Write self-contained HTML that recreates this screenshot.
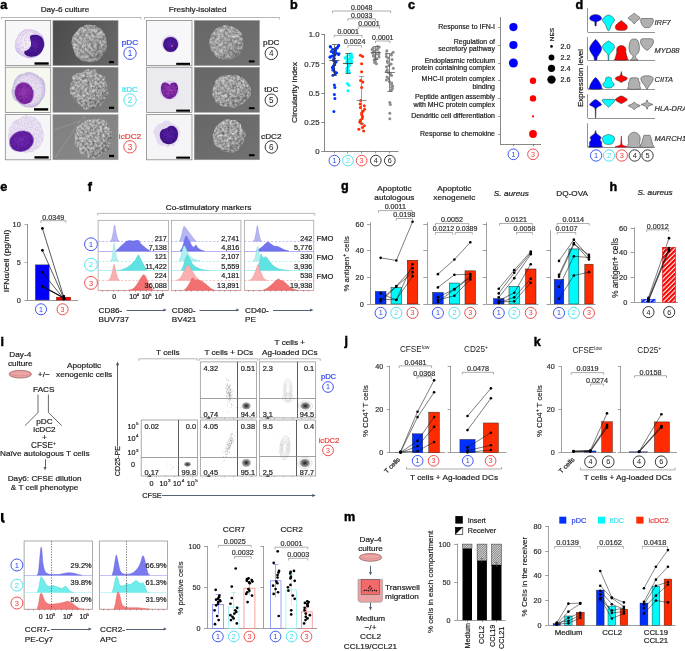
<!DOCTYPE html>
<html><head><meta charset="utf-8"><style>html,body{margin:0;padding:0;background:#fff;}svg{display:block;will-change:transform;}</style></head>
<body><svg width="685" height="651" viewBox="0 0 685 651" font-family="'Liberation Sans', sans-serif">
<rect width="685" height="651" fill="#fff"/>
<defs>
<filter id="semtex" x="0" y="0" width="100%" height="100%" color-interpolation-filters="sRGB">
<feTurbulence type="fractalNoise" baseFrequency="0.34" numOctaves="3" seed="3" result="n"/>
<feColorMatrix in="n" type="matrix" values="0.62 0 0 0 0.33  0.62 0 0 0 0.33  0.62 0 0 0 0.33  0 0 0 0 1" result="g"/>
<feComposite in="g" in2="SourceAlpha" operator="in"/>
</filter>
<filter id="semtex2" x="0" y="0" width="100%" height="100%" color-interpolation-filters="sRGB">
<feTurbulence type="fractalNoise" baseFrequency="0.4" numOctaves="3" seed="8" result="n"/>
<feColorMatrix in="n" type="matrix" values="0.66 0 0 0 0.31  0.66 0 0 0 0.31  0.66 0 0 0 0.31  0 0 0 0 1" result="g"/>
<feComposite in="g" in2="SourceAlpha" operator="in"/>
</filter>
<filter id="bgn" x="0" y="0" width="100%" height="100%" color-interpolation-filters="sRGB">
<feTurbulence type="fractalNoise" baseFrequency="0.8" numOctaves="1" seed="5" result="n"/>
<feColorMatrix in="n" type="matrix" values="0.3 0 0 0 0.3  0.3 0 0 0 0.3  0.3 0 0 0 0.3  0 0 0 0 1" result="g"/>
<feComposite in="g" in2="SourceAlpha" operator="in"/>
</filter>
<filter id="nuctex" x="0" y="0" width="100%" height="100%" color-interpolation-filters="sRGB">
<feTurbulence type="fractalNoise" baseFrequency="0.6" numOctaves="2" seed="4" result="n"/>
<feColorMatrix in="n" type="matrix" values="0 0 0 0 0.22  0 0 0 0 0.03  0 0 0 0 0.42  1.6 0 0 0 -0.7" result="g"/>
<feComposite in="g" in2="SourceAlpha" operator="in" result="t"/>
<feMerge><feMergeNode in="SourceGraphic"/><feMergeNode in="t"/></feMerge>
</filter>
<filter id="cytex" x="0" y="0" width="100%" height="100%" color-interpolation-filters="sRGB">
<feTurbulence type="fractalNoise" baseFrequency="0.7" numOctaves="2" seed="9" result="n"/>
<feColorMatrix in="n" type="matrix" values="0 0 0 0 0.72  0 0 0 0 0.62  0 0 0 0 0.88  1.3 0 0 0 -0.52" result="g"/>
<feComposite in="g" in2="SourceAlpha" operator="in" result="t"/>
<feMerge><feMergeNode in="SourceGraphic"/><feMergeNode in="t"/></feMerge>
</filter>
<linearGradient id="semshade" x1="0.15" y1="0.1" x2="0.85" y2="0.95"><stop offset="0" stop-color="#fff" stop-opacity="0.12"/><stop offset="0.5" stop-color="#000" stop-opacity="0.0"/><stop offset="1" stop-color="#000" stop-opacity="0.22"/></linearGradient>
<linearGradient id="sembg" x1="0" y1="0" x2="1" y2="0.3"><stop offset="0" stop-color="#4a4a4a"/><stop offset="1" stop-color="#646464"/></linearGradient>
<linearGradient id="sembg2" x1="0" y1="0" x2="1" y2="1"><stop offset="0" stop-color="#727272"/><stop offset="1" stop-color="#7c7c7c"/></linearGradient><linearGradient id="sembg4" x1="0" y1="0" x2="1" y2="1"><stop offset="0" stop-color="#666"/><stop offset="1" stop-color="#727272"/></linearGradient>
<linearGradient id="sembg3" x1="0" y1="0" x2="1" y2="1"><stop offset="0" stop-color="#7e7e7e"/><stop offset="1" stop-color="#8a8a8a"/></linearGradient>
<radialGradient id="cyto" cx="45%" cy="45%" r="55%"><stop offset="0" stop-color="#f8f2f6"/><stop offset="0.6" stop-color="#f0e6f2"/><stop offset="0.88" stop-color="#d8c8ec"/><stop offset="1" stop-color="#c6b2e4"/></radialGradient>
<radialGradient id="cyto2" cx="50%" cy="50%" r="50%"><stop offset="0" stop-color="#f2eef4"/><stop offset="0.8" stop-color="#e6deee"/><stop offset="1" stop-color="#c9bcdf"/></radialGradient>
<radialGradient id="nuc" cx="50%" cy="45%" r="55%"><stop offset="0" stop-color="#5a22a8"/><stop offset="1" stop-color="#3f1288"/></radialGradient>
<radialGradient id="nuc2" cx="50%" cy="45%" r="55%"><stop offset="0" stop-color="#a040b8"/><stop offset="1" stop-color="#7a22a0"/></radialGradient>
<radialGradient id="nuc3" cx="50%" cy="45%" r="55%"><stop offset="0" stop-color="#7a30b8"/><stop offset="1" stop-color="#5a1a9c"/></radialGradient>
<pattern id="hatch" width="1.6" height="1.6" patternUnits="userSpaceOnUse" patternTransform="rotate(45)"><rect width="1.6" height="1.6" fill="#ddd"/><rect width="0.75" height="1.6" fill="#777"/></pattern>
<pattern id="hatchR" width="3.3" height="3.3" patternUnits="userSpaceOnUse" patternTransform="rotate(45)"><rect width="3.3" height="3.3" fill="#fff"/><rect width="2.2" height="3.3" fill="#fe0000"/></pattern>
<pattern id="hatchB" width="3.3" height="3.3" patternUnits="userSpaceOnUse" patternTransform="rotate(45)"><rect width="3.3" height="3.3" fill="#fff"/><rect width="2.2" height="3.3" fill="#0020f0"/></pattern>
</defs>
<text x="0.30" y="8.70" font-size="12.6" text-anchor="start" fill="#000" font-weight="bold" stroke="#000" stroke-width="0.45">a</text>
<text x="0.00" y="0.00" font-size="7.74" text-anchor="middle" fill="#222" transform="translate(65.00 12.40) scale(1.06 1)" stroke="#222" stroke-width="0.2">Day-6 culture</text>
<text x="0.00" y="0.00" font-size="7.74" text-anchor="middle" fill="#222" transform="translate(197.70 12.40) scale(1.06 1)" stroke="#222" stroke-width="0.2">Freshly-isolated</text>
<path d="M1.50,19.50 L1.50,17.50 L141.00,17.50 L141.00,19.50" fill="none" stroke="#888" stroke-width="0.6"/>
<path d="M144.50,19.50 L144.50,17.50 L279.50,17.50 L279.50,19.50" fill="none" stroke="#888" stroke-width="0.6"/>
<rect x="5.30" y="20.40" width="45.40" height="45.20" fill="#f7f6f8" stroke="#8a8a8a" stroke-width="0.8"/>
<path d="M44.37,42.36 Q44.94,43.60 44.82,44.91 Q44.70,46.23 43.86,47.32 Q43.01,48.42 42.50,49.54 Q41.99,50.66 41.62,51.95 Q41.24,53.24 40.27,54.12 Q39.29,55.00 38.20,55.71 Q37.10,56.42 35.84,56.76 Q34.58,57.11 33.39,57.60 Q32.19,58.10 30.90,58.21 Q29.60,58.32 28.31,58.20 Q27.01,58.07 25.84,57.51 Q24.68,56.94 23.46,56.56 Q22.24,56.17 21.20,55.43 Q20.17,54.69 19.11,53.92 Q18.06,53.15 17.17,52.17 Q16.28,51.19 15.73,49.98 Q15.19,48.77 15.08,47.46 Q14.97,46.14 14.92,44.87 Q14.87,43.60 15.08,42.36 Q15.30,41.11 15.75,39.95 Q16.21,38.79 16.74,37.68 Q17.27,36.58 17.78,35.41 Q18.29,34.24 19.26,33.41 Q20.22,32.58 21.25,31.83 Q22.27,31.08 23.33,30.26 Q24.38,29.45 25.70,29.32 Q27.02,29.19 28.31,29.06 Q29.60,28.93 30.86,29.23 Q32.12,29.53 33.29,29.96 Q34.47,30.40 35.68,30.77 Q36.90,31.13 37.87,31.94 Q38.84,32.74 39.89,33.47 Q40.95,34.21 41.94,35.11 Q42.93,36.01 43.32,37.27 Q43.70,38.54 43.75,39.83 Q43.80,41.13 44.37,42.36 Z" fill="url(#cyto)" filter="url(#cytex)"/>
<path d="M34,34.8 C40,34 44.5,38 44,45 C43.5,52 38,57 31,56.8 C26,56.6 23.5,54 24.5,51.5 C27,50.5 30.5,48.5 31,45 C31.5,41 29.5,38.5 30,36.5 C30.8,35.4 32,35 34,34.8 Z" fill="url(#nuc)" filter="url(#nuctex)"/>
<rect x="34.50" y="62.30" width="14.20" height="2.40" fill="#000" stroke="none" stroke-width="0.6"/>
<rect x="5.30" y="67.20" width="45.40" height="45.20" fill="#f4f8ee" stroke="#8a8a8a" stroke-width="0.8"/>
<path d="M44.99,88.53 Q45.06,90.00 44.83,91.44 Q44.60,92.88 44.47,94.37 Q44.34,95.86 43.56,97.10 Q42.78,98.35 41.92,99.49 Q41.07,100.64 40.27,101.88 Q39.47,103.12 38.51,104.37 Q37.55,105.61 36.15,106.18 Q34.75,106.75 33.30,107.12 Q31.86,107.49 30.38,107.15 Q28.90,106.82 27.45,106.96 Q26.01,107.10 24.68,106.50 Q23.35,105.89 22.11,105.19 Q20.87,104.49 19.76,103.61 Q18.65,102.73 17.60,101.77 Q16.55,100.80 15.23,99.91 Q13.91,99.02 13.35,97.57 Q12.79,96.11 12.42,94.60 Q12.05,93.10 11.93,91.55 Q11.80,90.00 12.43,88.54 Q13.05,87.09 13.33,85.64 Q13.60,84.20 13.97,82.72 Q14.34,81.24 15.12,79.93 Q15.89,78.62 16.87,77.45 Q17.85,76.28 19.07,75.36 Q20.28,74.45 21.87,74.43 Q23.46,74.42 24.72,73.60 Q25.99,72.78 27.44,72.59 Q28.90,72.40 30.34,72.68 Q31.78,72.95 33.09,73.61 Q34.39,74.27 35.79,74.66 Q37.18,75.06 38.16,76.17 Q39.13,77.29 40.65,77.84 Q42.17,78.40 42.99,79.72 Q43.80,81.03 44.19,82.54 Q44.57,84.05 44.75,85.56 Q44.92,87.06 44.99,88.53 Z" fill="url(#cyto2)" filter="url(#cytex)" stroke="#c4b6dc" stroke-width="0.6"/>
<ellipse cx="24.2" cy="93.2" rx="9.4" ry="10.9" fill="url(#nuc2)" filter="url(#nuctex)" transform="rotate(-15 24.2 93.2)"/>
<rect x="34.00" y="108.20" width="14.20" height="2.40" fill="#000" stroke="none" stroke-width="0.6"/>
<rect x="5.30" y="114.60" width="45.40" height="45.20" fill="#f6f5f8" stroke="#8a8a8a" stroke-width="0.8"/>
<path d="M43.30,132.96 Q43.57,134.50 43.23,136.03 Q42.89,137.56 43.09,139.26 Q43.29,140.96 42.02,142.08 Q40.75,143.20 40.36,144.82 Q39.97,146.45 38.76,147.43 Q37.54,148.41 36.12,148.97 Q34.71,149.53 33.60,150.72 Q32.49,151.90 30.92,151.72 Q29.34,151.54 27.92,152.18 Q26.50,152.83 25.07,152.22 Q23.64,151.62 22.25,151.25 Q20.86,150.89 19.35,150.62 Q17.84,150.35 16.29,149.84 Q14.74,149.32 14.27,147.54 Q13.80,145.77 12.87,144.58 Q11.93,143.39 10.85,142.17 Q9.76,140.94 8.97,139.43 Q8.19,137.91 8.50,136.21 Q8.81,134.50 9.16,132.92 Q9.52,131.33 9.24,129.54 Q8.96,127.75 10.63,126.79 Q12.31,125.84 12.36,123.92 Q12.42,122.01 14.00,121.38 Q15.58,120.75 16.88,120.01 Q18.19,119.28 19.51,118.66 Q20.83,118.05 22.19,117.41 Q23.54,116.77 25.02,115.98 Q26.50,115.18 27.95,116.14 Q29.40,117.10 30.98,117.01 Q32.55,116.92 33.99,117.54 Q35.42,118.17 36.48,119.37 Q37.55,120.58 38.77,121.56 Q40.00,122.53 40.36,124.17 Q40.73,125.82 41.33,127.19 Q41.93,128.56 42.48,129.99 Q43.02,131.42 43.30,132.96 Z" fill="#ece6f2" filter="url(#cytex)" stroke="#b4a6d6" stroke-width="0.5" stroke-dasharray="1,1"/>
<ellipse cx="21.5" cy="141.2" rx="12.2" ry="10.2" fill="url(#nuc3)" filter="url(#nuctex)" transform="rotate(-18 21.5 141.2)"/>
<rect x="34.50" y="156.20" width="14.20" height="2.40" fill="#000" stroke="none" stroke-width="0.6"/>
<rect x="52.90" y="20.40" width="65.20" height="45.20" fill="url(#sembg)" stroke="#a0a0a0" stroke-width="0.5"/>
<path d="M106.72,41.95 Q106.63,43.60 106.86,45.27 Q107.10,46.95 106.66,48.56 Q106.22,50.17 105.47,51.63 Q104.72,53.08 103.70,54.31 Q102.68,55.54 101.88,57.02 Q101.08,58.50 99.80,59.48 Q98.52,60.46 97.02,60.97 Q95.53,61.47 94.04,61.90 Q92.56,62.32 91.03,62.26 Q89.50,62.20 88.03,61.88 Q86.57,61.57 85.05,61.42 Q83.54,61.27 82.09,60.72 Q80.64,60.17 79.61,58.91 Q78.58,57.65 77.14,56.88 Q75.70,56.10 75.14,54.50 Q74.58,52.90 73.95,51.43 Q73.32,49.96 73.06,48.37 Q72.80,46.78 72.00,45.19 Q71.20,43.60 71.52,41.92 Q71.84,40.24 72.15,38.57 Q72.47,36.91 73.29,35.46 Q74.12,34.01 75.32,32.93 Q76.52,31.84 77.43,30.54 Q78.34,29.24 79.52,28.20 Q80.70,27.15 82.18,26.72 Q83.67,26.29 85.00,25.25 Q86.33,24.21 87.92,24.51 Q89.50,24.80 90.99,25.10 Q92.47,25.41 94.07,25.35 Q95.67,25.29 96.85,26.47 Q98.04,27.64 99.62,28.09 Q101.20,28.55 102.07,29.99 Q102.93,31.43 103.87,32.75 Q104.81,34.06 105.32,35.62 Q105.83,37.18 106.32,38.74 Q106.81,40.30 106.72,41.95 Z" fill="#000" filter="url(#semtex)"/>
<path d="M106.72,41.95 Q106.63,43.60 106.86,45.27 Q107.10,46.95 106.66,48.56 Q106.22,50.17 105.47,51.63 Q104.72,53.08 103.70,54.31 Q102.68,55.54 101.88,57.02 Q101.08,58.50 99.80,59.48 Q98.52,60.46 97.02,60.97 Q95.53,61.47 94.04,61.90 Q92.56,62.32 91.03,62.26 Q89.50,62.20 88.03,61.88 Q86.57,61.57 85.05,61.42 Q83.54,61.27 82.09,60.72 Q80.64,60.17 79.61,58.91 Q78.58,57.65 77.14,56.88 Q75.70,56.10 75.14,54.50 Q74.58,52.90 73.95,51.43 Q73.32,49.96 73.06,48.37 Q72.80,46.78 72.00,45.19 Q71.20,43.60 71.52,41.92 Q71.84,40.24 72.15,38.57 Q72.47,36.91 73.29,35.46 Q74.12,34.01 75.32,32.93 Q76.52,31.84 77.43,30.54 Q78.34,29.24 79.52,28.20 Q80.70,27.15 82.18,26.72 Q83.67,26.29 85.00,25.25 Q86.33,24.21 87.92,24.51 Q89.50,24.80 90.99,25.10 Q92.47,25.41 94.07,25.35 Q95.67,25.29 96.85,26.47 Q98.04,27.64 99.62,28.09 Q101.20,28.55 102.07,29.99 Q102.93,31.43 103.87,32.75 Q104.81,34.06 105.32,35.62 Q105.83,37.18 106.32,38.74 Q106.81,40.30 106.72,41.95 Z" fill="url(#semshade)"/>
<rect x="109.10" y="61.00" width="4.90" height="2.20" fill="#000" stroke="none" stroke-width="0.6"/>
<rect x="52.90" y="67.20" width="65.20" height="45.20" fill="url(#sembg2)" stroke="#a0a0a0" stroke-width="0.5"/>
<path d="M107.49,88.04 Q108.35,89.50 108.69,91.15 Q109.02,92.81 108.21,94.27 Q107.39,95.73 106.68,97.12 Q105.97,98.51 104.90,99.61 Q103.84,100.71 103.23,102.18 Q102.62,103.65 101.71,104.98 Q100.79,106.32 99.03,106.26 Q97.27,106.19 96.04,106.96 Q94.82,107.73 93.51,108.62 Q92.21,109.51 90.70,109.13 Q89.20,108.75 87.62,109.65 Q86.04,110.55 84.53,110.04 Q83.03,109.53 82.20,107.61 Q81.38,105.68 80.15,105.05 Q78.92,104.41 78.10,103.24 Q77.27,102.07 76.07,101.27 Q74.87,100.47 74.57,99.00 Q74.27,97.52 72.69,96.61 Q71.11,95.69 70.39,94.23 Q69.68,92.76 69.68,91.13 Q69.68,89.50 70.31,87.97 Q70.93,86.45 70.66,84.75 Q70.39,83.06 71.92,82.05 Q73.45,81.04 72.50,78.51 Q71.55,75.98 73.39,75.38 Q75.23,74.77 76.41,73.72 Q77.60,72.67 79.43,72.87 Q81.26,73.06 82.47,72.35 Q83.69,71.63 84.92,70.42 Q86.15,69.21 87.68,69.14 Q89.20,69.07 90.61,69.87 Q92.03,70.68 93.93,69.34 Q95.83,68.00 96.29,70.93 Q96.76,73.86 98.50,73.68 Q100.23,73.49 101.22,74.64 Q102.20,75.79 104.14,76.18 Q106.08,76.57 105.18,78.99 Q104.28,81.40 106.31,82.17 Q108.35,82.94 107.49,84.77 Q106.63,86.59 107.49,88.04 Z" fill="#000" filter="url(#semtex2)"/>
<path d="M107.49,88.04 Q108.35,89.50 108.69,91.15 Q109.02,92.81 108.21,94.27 Q107.39,95.73 106.68,97.12 Q105.97,98.51 104.90,99.61 Q103.84,100.71 103.23,102.18 Q102.62,103.65 101.71,104.98 Q100.79,106.32 99.03,106.26 Q97.27,106.19 96.04,106.96 Q94.82,107.73 93.51,108.62 Q92.21,109.51 90.70,109.13 Q89.20,108.75 87.62,109.65 Q86.04,110.55 84.53,110.04 Q83.03,109.53 82.20,107.61 Q81.38,105.68 80.15,105.05 Q78.92,104.41 78.10,103.24 Q77.27,102.07 76.07,101.27 Q74.87,100.47 74.57,99.00 Q74.27,97.52 72.69,96.61 Q71.11,95.69 70.39,94.23 Q69.68,92.76 69.68,91.13 Q69.68,89.50 70.31,87.97 Q70.93,86.45 70.66,84.75 Q70.39,83.06 71.92,82.05 Q73.45,81.04 72.50,78.51 Q71.55,75.98 73.39,75.38 Q75.23,74.77 76.41,73.72 Q77.60,72.67 79.43,72.87 Q81.26,73.06 82.47,72.35 Q83.69,71.63 84.92,70.42 Q86.15,69.21 87.68,69.14 Q89.20,69.07 90.61,69.87 Q92.03,70.68 93.93,69.34 Q95.83,68.00 96.29,70.93 Q96.76,73.86 98.50,73.68 Q100.23,73.49 101.22,74.64 Q102.20,75.79 104.14,76.18 Q106.08,76.57 105.18,78.99 Q104.28,81.40 106.31,82.17 Q108.35,82.94 107.49,84.77 Q106.63,86.59 107.49,88.04 Z" fill="url(#semshade)"/>
<rect x="109.00" y="106.70" width="5.10" height="2.20" fill="#000" stroke="none" stroke-width="0.6"/>
<path d="M54,130 L78,122 M60,158 L85,118 M85,115 L86,125" stroke="#a8a8a8" stroke-width="0.5" fill="none"/>
<rect x="52.90" y="114.60" width="65.20" height="45.20" fill="url(#sembg3)" stroke="#a0a0a0" stroke-width="0.5"/>
<path d="M111.63,137.03 Q111.71,138.50 111.97,140.03 Q112.23,141.56 112.26,143.18 Q112.30,144.80 111.09,145.93 Q109.87,147.07 109.53,148.64 Q109.20,150.20 107.91,151.06 Q106.63,151.91 106.13,153.71 Q105.64,155.51 103.85,155.44 Q102.06,155.37 100.96,156.60 Q99.86,157.83 98.34,157.84 Q96.81,157.85 95.36,158.71 Q93.90,159.57 92.51,158.25 Q91.13,156.93 89.40,157.82 Q87.67,158.70 86.67,157.10 Q85.67,155.50 84.27,154.99 Q82.87,154.48 81.38,153.87 Q79.88,153.27 79.47,151.56 Q79.05,149.86 78.02,148.72 Q76.98,147.58 76.02,146.26 Q75.07,144.95 74.82,143.33 Q74.58,141.72 74.91,140.11 Q75.23,138.50 74.91,136.89 Q74.58,135.28 74.76,133.65 Q74.94,132.01 75.81,130.64 Q76.68,129.26 77.10,127.61 Q77.52,125.97 79.29,125.47 Q81.06,124.97 81.55,123.15 Q82.05,121.33 83.87,121.42 Q85.68,121.51 86.80,120.33 Q87.93,119.14 89.52,119.58 Q91.12,120.02 92.51,119.39 Q93.90,118.76 95.35,118.97 Q96.80,119.19 98.43,118.87 Q100.05,118.55 101.48,119.22 Q102.91,119.88 104.52,120.33 Q106.13,120.77 106.89,122.39 Q107.66,124.01 108.27,125.52 Q108.89,127.03 109.89,128.20 Q110.90,129.38 111.69,130.76 Q112.48,132.14 112.02,133.85 Q111.56,135.55 111.63,137.03 Z" fill="#000" filter="url(#semtex2)"/>
<path d="M111.63,137.03 Q111.71,138.50 111.97,140.03 Q112.23,141.56 112.26,143.18 Q112.30,144.80 111.09,145.93 Q109.87,147.07 109.53,148.64 Q109.20,150.20 107.91,151.06 Q106.63,151.91 106.13,153.71 Q105.64,155.51 103.85,155.44 Q102.06,155.37 100.96,156.60 Q99.86,157.83 98.34,157.84 Q96.81,157.85 95.36,158.71 Q93.90,159.57 92.51,158.25 Q91.13,156.93 89.40,157.82 Q87.67,158.70 86.67,157.10 Q85.67,155.50 84.27,154.99 Q82.87,154.48 81.38,153.87 Q79.88,153.27 79.47,151.56 Q79.05,149.86 78.02,148.72 Q76.98,147.58 76.02,146.26 Q75.07,144.95 74.82,143.33 Q74.58,141.72 74.91,140.11 Q75.23,138.50 74.91,136.89 Q74.58,135.28 74.76,133.65 Q74.94,132.01 75.81,130.64 Q76.68,129.26 77.10,127.61 Q77.52,125.97 79.29,125.47 Q81.06,124.97 81.55,123.15 Q82.05,121.33 83.87,121.42 Q85.68,121.51 86.80,120.33 Q87.93,119.14 89.52,119.58 Q91.12,120.02 92.51,119.39 Q93.90,118.76 95.35,118.97 Q96.80,119.19 98.43,118.87 Q100.05,118.55 101.48,119.22 Q102.91,119.88 104.52,120.33 Q106.13,120.77 106.89,122.39 Q107.66,124.01 108.27,125.52 Q108.89,127.03 109.89,128.20 Q110.90,129.38 111.69,130.76 Q112.48,132.14 112.02,133.85 Q111.56,135.55 111.63,137.03 Z" fill="url(#semshade)"/>
<path d="M54,130 L80,121 M55,158 L83,117 M84,114.8 L85.5,124" stroke="#a6a6a6" stroke-width="0.5" fill="none"/>
<rect x="109.00" y="154.80" width="5.10" height="2.30" fill="#000" stroke="none" stroke-width="0.6"/>
<rect x="146.50" y="20.40" width="45.50" height="45.20" fill="#f7f6f8" stroke="#8a8a8a" stroke-width="0.8"/>
<circle cx="170.4" cy="43.8" r="8.6" fill="#ddd0ee"/>
<circle cx="170.6" cy="44.4" r="7.5" fill="url(#nuc)" filter="url(#nuctex)"/>
<circle cx="172" cy="46" r="1" fill="#c04a9a"/>
<rect x="176.20" y="62.80" width="13.80" height="2.10" fill="#000" stroke="none" stroke-width="0.6"/>
<rect x="146.50" y="67.20" width="45.50" height="45.20" fill="#ebebef" stroke="#8a8a8a" stroke-width="0.8"/>
<circle cx="169.5" cy="90" r="9.8" fill="#ddd0ee"/>
<path d="M161,88 C161,82 166,81 169.5,85 C173,81 178,82 178,88 C178,95 173,99 169.5,99 C165,99 161,95 161,88 Z" fill="url(#nuc2)" filter="url(#nuctex)"/>
<rect x="176.20" y="109.60" width="13.80" height="2.10" fill="#000" stroke="none" stroke-width="0.6"/>
<rect x="146.50" y="114.60" width="45.50" height="45.20" fill="#f5f4f6" stroke="#8a8a8a" stroke-width="0.8"/>
<path d="M180.44,132.77 Q179.88,134.00 179.65,135.09 Q179.41,136.19 178.78,137.12 Q178.16,138.06 178.70,139.57 Q179.25,141.07 177.51,141.22 Q175.78,141.37 175.57,142.67 Q175.36,143.97 174.74,145.15 Q174.12,146.33 172.56,145.66 Q171.00,144.99 170.14,145.98 Q169.29,146.97 168.14,147.17 Q167.00,147.36 166.00,146.38 Q164.99,145.39 163.84,145.63 Q162.68,145.86 161.43,145.83 Q160.18,145.81 159.46,144.83 Q158.74,143.84 157.62,143.33 Q156.50,142.81 156.59,141.39 Q156.67,139.97 156.11,139.07 Q155.55,138.17 155.47,137.11 Q155.39,136.05 154.69,135.02 Q153.98,134.00 153.44,132.76 Q152.90,131.51 153.71,130.49 Q154.52,129.46 154.76,128.26 Q155.00,127.07 156.16,126.47 Q157.32,125.88 157.73,124.67 Q158.15,123.45 159.64,123.64 Q161.12,123.82 161.95,123.11 Q162.78,122.40 163.71,121.53 Q164.65,120.66 165.82,120.48 Q167.00,120.30 168.11,120.87 Q169.22,121.44 170.11,122.22 Q171.01,122.99 172.07,123.18 Q173.14,123.37 173.96,124.05 Q174.77,124.73 175.61,125.41 Q176.44,126.08 177.77,126.55 Q179.09,127.02 178.71,128.45 Q178.33,129.87 179.66,130.70 Q180.99,131.53 180.44,132.77 Z" fill="#e4daf0"/>
<path d="M160,133 C162,127 166,130 168,127 C172,124 178,127 178,134 C178,142 172,145 167,144 C162,143 159,138 160,133 Z" fill="url(#nuc)" filter="url(#nuctex)"/>
<rect x="176.20" y="156.60" width="13.80" height="2.10" fill="#000" stroke="none" stroke-width="0.6"/>
<rect x="194.20" y="20.40" width="65.40" height="45.20" fill="url(#sembg4)" stroke="#a0a0a0" stroke-width="0.5"/>
<path d="M243.36,41.23 Q243.54,42.70 243.31,44.16 Q243.07,45.62 242.65,47.02 Q242.23,48.43 242.06,50.01 Q241.89,51.58 240.82,52.70 Q239.76,53.82 238.74,54.95 Q237.72,56.08 236.43,56.87 Q235.14,57.66 233.73,58.19 Q232.33,58.71 230.94,59.33 Q229.54,59.95 228.02,59.98 Q226.50,60.01 224.97,60.01 Q223.45,60.02 221.99,59.55 Q220.54,59.07 219.10,58.54 Q217.67,58.00 216.58,56.91 Q215.50,55.81 214.59,54.63 Q213.69,53.45 212.85,52.25 Q212.02,51.06 211.04,49.87 Q210.05,48.69 210.03,47.15 Q210.01,45.61 209.55,44.15 Q209.09,42.70 209.24,41.19 Q209.40,39.68 210.15,38.35 Q210.91,37.02 211.09,35.46 Q211.27,33.90 212.54,32.98 Q213.82,32.06 214.47,30.60 Q215.12,29.14 216.39,28.27 Q217.67,27.40 219.21,27.15 Q220.75,26.90 222.11,26.18 Q223.46,25.45 224.98,25.32 Q226.50,25.18 227.95,25.72 Q229.40,26.27 230.93,26.29 Q232.46,26.32 233.65,27.29 Q234.84,28.25 236.38,28.67 Q237.92,29.09 238.90,30.28 Q239.88,31.48 240.92,32.62 Q241.97,33.77 242.03,35.40 Q242.09,37.03 242.64,38.39 Q243.19,39.76 243.36,41.23 Z" fill="#000" filter="url(#semtex)"/>
<path d="M243.36,41.23 Q243.54,42.70 243.31,44.16 Q243.07,45.62 242.65,47.02 Q242.23,48.43 242.06,50.01 Q241.89,51.58 240.82,52.70 Q239.76,53.82 238.74,54.95 Q237.72,56.08 236.43,56.87 Q235.14,57.66 233.73,58.19 Q232.33,58.71 230.94,59.33 Q229.54,59.95 228.02,59.98 Q226.50,60.01 224.97,60.01 Q223.45,60.02 221.99,59.55 Q220.54,59.07 219.10,58.54 Q217.67,58.00 216.58,56.91 Q215.50,55.81 214.59,54.63 Q213.69,53.45 212.85,52.25 Q212.02,51.06 211.04,49.87 Q210.05,48.69 210.03,47.15 Q210.01,45.61 209.55,44.15 Q209.09,42.70 209.24,41.19 Q209.40,39.68 210.15,38.35 Q210.91,37.02 211.09,35.46 Q211.27,33.90 212.54,32.98 Q213.82,32.06 214.47,30.60 Q215.12,29.14 216.39,28.27 Q217.67,27.40 219.21,27.15 Q220.75,26.90 222.11,26.18 Q223.46,25.45 224.98,25.32 Q226.50,25.18 227.95,25.72 Q229.40,26.27 230.93,26.29 Q232.46,26.32 233.65,27.29 Q234.84,28.25 236.38,28.67 Q237.92,29.09 238.90,30.28 Q239.88,31.48 240.92,32.62 Q241.97,33.77 242.03,35.40 Q242.09,37.03 242.64,38.39 Q243.19,39.76 243.36,41.23 Z" fill="url(#semshade)"/>
<rect x="248.90" y="60.40" width="5.70" height="2.00" fill="#000" stroke="none" stroke-width="0.6"/>
<rect x="194.20" y="67.20" width="65.40" height="45.20" fill="url(#sembg4)" stroke="#a0a0a0" stroke-width="0.5"/>
<path d="M250.80,89.69 Q250.80,91.00 250.84,92.31 Q250.88,93.62 250.79,94.97 Q250.70,96.33 249.39,97.27 Q248.08,98.20 247.34,99.27 Q246.59,100.34 246.05,101.63 Q245.51,102.92 244.09,103.48 Q242.67,104.03 241.35,104.57 Q240.03,105.11 238.79,105.83 Q237.55,106.55 236.17,107.20 Q234.79,107.85 233.25,107.74 Q231.70,107.63 230.25,107.19 Q228.81,106.76 227.31,106.69 Q225.82,106.62 224.29,106.39 Q222.75,106.16 221.21,105.73 Q219.66,105.30 218.77,104.12 Q217.87,102.94 216.38,102.24 Q214.89,101.54 215.08,99.89 Q215.27,98.23 213.85,97.32 Q212.43,96.40 212.40,95.02 Q212.36,93.64 212.25,92.32 Q212.15,91.00 212.69,89.74 Q213.24,88.48 213.37,87.19 Q213.50,85.90 214.52,84.90 Q215.55,83.90 215.34,82.25 Q215.13,80.61 216.30,79.67 Q217.48,78.73 218.72,77.89 Q219.97,77.06 221.39,76.51 Q222.82,75.95 224.35,75.76 Q225.89,75.56 227.32,75.24 Q228.75,74.91 230.22,74.99 Q231.70,75.07 233.19,74.91 Q234.68,74.76 236.11,75.13 Q237.53,75.51 238.98,75.85 Q240.44,76.20 241.62,77.01 Q242.80,77.81 243.96,78.61 Q245.12,79.42 245.94,80.48 Q246.76,81.55 247.39,82.69 Q248.01,83.83 248.78,84.91 Q249.55,85.99 250.18,87.19 Q250.81,88.39 250.80,89.69 Z" fill="#000" filter="url(#semtex2)"/>
<path d="M250.80,89.69 Q250.80,91.00 250.84,92.31 Q250.88,93.62 250.79,94.97 Q250.70,96.33 249.39,97.27 Q248.08,98.20 247.34,99.27 Q246.59,100.34 246.05,101.63 Q245.51,102.92 244.09,103.48 Q242.67,104.03 241.35,104.57 Q240.03,105.11 238.79,105.83 Q237.55,106.55 236.17,107.20 Q234.79,107.85 233.25,107.74 Q231.70,107.63 230.25,107.19 Q228.81,106.76 227.31,106.69 Q225.82,106.62 224.29,106.39 Q222.75,106.16 221.21,105.73 Q219.66,105.30 218.77,104.12 Q217.87,102.94 216.38,102.24 Q214.89,101.54 215.08,99.89 Q215.27,98.23 213.85,97.32 Q212.43,96.40 212.40,95.02 Q212.36,93.64 212.25,92.32 Q212.15,91.00 212.69,89.74 Q213.24,88.48 213.37,87.19 Q213.50,85.90 214.52,84.90 Q215.55,83.90 215.34,82.25 Q215.13,80.61 216.30,79.67 Q217.48,78.73 218.72,77.89 Q219.97,77.06 221.39,76.51 Q222.82,75.95 224.35,75.76 Q225.89,75.56 227.32,75.24 Q228.75,74.91 230.22,74.99 Q231.70,75.07 233.19,74.91 Q234.68,74.76 236.11,75.13 Q237.53,75.51 238.98,75.85 Q240.44,76.20 241.62,77.01 Q242.80,77.81 243.96,78.61 Q245.12,79.42 245.94,80.48 Q246.76,81.55 247.39,82.69 Q248.01,83.83 248.78,84.91 Q249.55,85.99 250.18,87.19 Q250.81,88.39 250.80,89.69 Z" fill="url(#semshade)"/>
<rect x="248.90" y="107.20" width="5.70" height="2.00" fill="#000" stroke="none" stroke-width="0.6"/>
<rect x="194.20" y="114.60" width="65.40" height="45.20" fill="url(#sembg4)" stroke="#a0a0a0" stroke-width="0.5"/>
<path d="M245.76,134.65 Q245.89,136.00 244.89,137.21 Q243.88,138.42 244.26,139.81 Q244.65,141.21 243.66,142.18 Q242.67,143.14 242.69,144.67 Q242.70,146.20 241.18,146.56 Q239.66,146.92 239.25,148.40 Q238.83,149.87 237.63,150.40 Q236.42,150.93 235.29,151.60 Q234.16,152.27 232.90,152.72 Q231.65,153.17 230.33,152.53 Q229.00,151.89 227.77,151.89 Q226.55,151.88 225.24,151.94 Q223.93,151.99 222.93,151.11 Q221.93,150.23 220.89,149.56 Q219.86,148.89 218.96,148.05 Q218.05,147.22 216.78,146.64 Q215.50,146.05 214.80,144.92 Q214.10,143.78 213.67,142.51 Q213.24,141.25 213.48,139.86 Q213.72,138.48 212.95,137.24 Q212.18,136.00 212.68,134.72 Q213.18,133.43 213.72,132.26 Q214.27,131.10 214.55,129.84 Q214.82,128.59 215.50,127.52 Q216.18,126.45 217.22,125.72 Q218.26,124.99 218.89,123.81 Q219.52,122.63 220.69,122.13 Q221.86,121.63 222.94,120.95 Q224.01,120.27 225.19,119.62 Q226.37,118.97 227.68,119.14 Q229.00,119.31 230.24,119.65 Q231.47,119.99 232.82,119.85 Q234.16,119.72 235.43,120.12 Q236.70,120.52 237.54,121.63 Q238.39,122.75 239.66,123.27 Q240.92,123.78 241.06,125.35 Q241.20,126.92 241.92,127.90 Q242.64,128.88 243.13,130.00 Q243.62,131.13 244.63,132.22 Q245.63,133.30 245.76,134.65 Z" fill="#000" filter="url(#semtex2)"/>
<path d="M245.76,134.65 Q245.89,136.00 244.89,137.21 Q243.88,138.42 244.26,139.81 Q244.65,141.21 243.66,142.18 Q242.67,143.14 242.69,144.67 Q242.70,146.20 241.18,146.56 Q239.66,146.92 239.25,148.40 Q238.83,149.87 237.63,150.40 Q236.42,150.93 235.29,151.60 Q234.16,152.27 232.90,152.72 Q231.65,153.17 230.33,152.53 Q229.00,151.89 227.77,151.89 Q226.55,151.88 225.24,151.94 Q223.93,151.99 222.93,151.11 Q221.93,150.23 220.89,149.56 Q219.86,148.89 218.96,148.05 Q218.05,147.22 216.78,146.64 Q215.50,146.05 214.80,144.92 Q214.10,143.78 213.67,142.51 Q213.24,141.25 213.48,139.86 Q213.72,138.48 212.95,137.24 Q212.18,136.00 212.68,134.72 Q213.18,133.43 213.72,132.26 Q214.27,131.10 214.55,129.84 Q214.82,128.59 215.50,127.52 Q216.18,126.45 217.22,125.72 Q218.26,124.99 218.89,123.81 Q219.52,122.63 220.69,122.13 Q221.86,121.63 222.94,120.95 Q224.01,120.27 225.19,119.62 Q226.37,118.97 227.68,119.14 Q229.00,119.31 230.24,119.65 Q231.47,119.99 232.82,119.85 Q234.16,119.72 235.43,120.12 Q236.70,120.52 237.54,121.63 Q238.39,122.75 239.66,123.27 Q240.92,123.78 241.06,125.35 Q241.20,126.92 241.92,127.90 Q242.64,128.88 243.13,130.00 Q243.62,131.13 244.63,132.22 Q245.63,133.30 245.76,134.65 Z" fill="url(#semshade)"/>
<rect x="248.90" y="154.20" width="5.70" height="2.00" fill="#000" stroke="none" stroke-width="0.6"/>
<text x="0.00" y="0.00" font-size="7.74" text-anchor="middle" fill="#2a45ee" transform="translate(130.00 45.00) scale(1.06 1)" stroke="#2a45ee" stroke-width="0.2">pDC</text>
<circle cx="130.00" cy="53.20" r="6.21" fill="#fff" stroke="#2a45ee" stroke-width="0.9"/>
<text x="130.00" y="56.01" font-size="8.19" text-anchor="middle" fill="#2a45ee">1</text>
<text x="0.00" y="0.00" font-size="7.74" text-anchor="middle" fill="#3ee0ee" transform="translate(130.00 91.80) scale(1.06 1)" stroke="#3ee0ee" stroke-width="0.2">itDC</text>
<circle cx="130.00" cy="100.00" r="6.21" fill="#fff" stroke="#3ee0ee" stroke-width="0.9"/>
<text x="130.00" y="102.81" font-size="8.19" text-anchor="middle" fill="#3ee0ee">2</text>
<text x="0.00" y="0.00" font-size="7.74" text-anchor="middle" fill="#f03a3a" transform="translate(130.00 138.60) scale(1.06 1)" stroke="#f03a3a" stroke-width="0.2">icDC2</text>
<circle cx="130.00" cy="146.80" r="6.21" fill="#fff" stroke="#f03a3a" stroke-width="0.9"/>
<text x="130.00" y="149.61" font-size="8.19" text-anchor="middle" fill="#f03a3a">3</text>
<text x="0.00" y="0.00" font-size="7.74" text-anchor="middle" fill="#222" transform="translate(271.30 45.20) scale(1.06 1)" stroke="#222" stroke-width="0.2">pDC</text>
<circle cx="271.30" cy="53.40" r="6.21" fill="#fff" stroke="#222" stroke-width="0.9"/>
<text x="271.30" y="56.21" font-size="8.19" text-anchor="middle" fill="#222">4</text>
<text x="0.00" y="0.00" font-size="7.74" text-anchor="middle" fill="#222" transform="translate(271.30 92.00) scale(1.06 1)" stroke="#222" stroke-width="0.2">tDC</text>
<circle cx="271.30" cy="100.20" r="6.21" fill="#fff" stroke="#222" stroke-width="0.9"/>
<text x="271.30" y="103.01" font-size="8.19" text-anchor="middle" fill="#222">5</text>
<text x="0.00" y="0.00" font-size="7.74" text-anchor="middle" fill="#222" transform="translate(271.30 138.80) scale(1.06 1)" stroke="#222" stroke-width="0.2">cDC2</text>
<circle cx="271.30" cy="147.00" r="6.21" fill="#fff" stroke="#222" stroke-width="0.9"/>
<text x="271.30" y="149.81" font-size="8.19" text-anchor="middle" fill="#222">6</text>
<text x="290.00" y="8.60" font-size="12.6" text-anchor="start" fill="#000" font-weight="bold" stroke="#000" stroke-width="0.45">b</text>
<line x1="324.50" y1="34.00" x2="324.50" y2="151.40" stroke="#555" stroke-width="0.7"/>
<line x1="324.30" y1="151.50" x2="398.40" y2="151.50" stroke="#555" stroke-width="0.7"/>
<line x1="321.30" y1="34.50" x2="324.30" y2="34.50" stroke="#555" stroke-width="0.7"/>
<text x="0.00" y="0.00" font-size="7.36" text-anchor="end" fill="#333" transform="translate(319.50 37.30) scale(1.06 1)" stroke="#333" stroke-width="0.2">1.0</text>
<line x1="321.30" y1="63.50" x2="324.30" y2="63.50" stroke="#555" stroke-width="0.7"/>
<text x="0.00" y="0.00" font-size="7.36" text-anchor="end" fill="#333" transform="translate(319.50 66.50) scale(1.06 1)" stroke="#333" stroke-width="0.2">0.75</text>
<line x1="321.30" y1="93.50" x2="324.30" y2="93.50" stroke="#555" stroke-width="0.7"/>
<text x="0.00" y="0.00" font-size="7.36" text-anchor="end" fill="#333" transform="translate(319.50 95.70) scale(1.06 1)" stroke="#333" stroke-width="0.2">0.5</text>
<line x1="321.30" y1="122.50" x2="324.30" y2="122.50" stroke="#555" stroke-width="0.7"/>
<text x="0.00" y="0.00" font-size="7.36" text-anchor="end" fill="#333" transform="translate(319.50 124.90) scale(1.06 1)" stroke="#333" stroke-width="0.2">0.25</text>
<line x1="321.30" y1="151.50" x2="324.30" y2="151.50" stroke="#555" stroke-width="0.7"/>
<text x="0.00" y="0.00" font-size="7.36" text-anchor="end" fill="#333" transform="translate(319.50 154.10) scale(1.06 1)" stroke="#333" stroke-width="0.2">0</text>
<text x="0.00" y="0.00" font-size="8.11" text-anchor="middle" fill="#222" transform="translate(296.80 92.40) rotate(-90) scale(1.06 1)" stroke="#222" stroke-width="0.2">Circularity index</text>
<line x1="334.50" y1="151.40" x2="334.50" y2="153.40" stroke="#555" stroke-width="0.6"/>
<circle cx="334.40" cy="160.60" r="5.35" fill="#fff" stroke="#2a45ee" stroke-width="0.9"/>
<text x="334.40" y="163.05" font-size="7.14" text-anchor="middle" fill="#2a45ee">1</text>
<line x1="347.50" y1="151.40" x2="347.50" y2="153.40" stroke="#555" stroke-width="0.6"/>
<circle cx="347.90" cy="160.60" r="5.35" fill="#fff" stroke="#3ee0ee" stroke-width="0.9"/>
<text x="347.90" y="163.05" font-size="7.14" text-anchor="middle" fill="#3ee0ee">2</text>
<line x1="361.50" y1="151.40" x2="361.50" y2="153.40" stroke="#555" stroke-width="0.6"/>
<circle cx="361.60" cy="160.60" r="5.35" fill="#fff" stroke="#f03a3a" stroke-width="0.9"/>
<text x="361.60" y="163.05" font-size="7.14" text-anchor="middle" fill="#f03a3a">3</text>
<line x1="375.50" y1="151.40" x2="375.50" y2="153.40" stroke="#555" stroke-width="0.6"/>
<circle cx="375.80" cy="160.60" r="5.35" fill="#fff" stroke="#222" stroke-width="0.9"/>
<text x="375.80" y="163.05" font-size="7.14" text-anchor="middle" fill="#222">4</text>
<line x1="389.50" y1="151.40" x2="389.50" y2="153.40" stroke="#555" stroke-width="0.6"/>
<circle cx="389.80" cy="160.60" r="5.35" fill="#fff" stroke="#222" stroke-width="0.9"/>
<text x="389.80" y="163.05" font-size="7.14" text-anchor="middle" fill="#222">6</text>
<circle cx="338.60" cy="45.28" r="1.50" fill="#0030fe" stroke="none" stroke-width="0.6"/>
<circle cx="338.52" cy="45.85" r="1.50" fill="#0030fe" stroke="none" stroke-width="0.6"/>
<circle cx="330.32" cy="46.42" r="1.50" fill="#0030fe" stroke="none" stroke-width="0.6"/>
<circle cx="330.58" cy="46.99" r="1.50" fill="#0030fe" stroke="none" stroke-width="0.6"/>
<circle cx="337.49" cy="47.56" r="1.50" fill="#0030fe" stroke="none" stroke-width="0.6"/>
<circle cx="336.57" cy="48.12" r="1.50" fill="#0030fe" stroke="none" stroke-width="0.6"/>
<circle cx="335.96" cy="48.69" r="1.50" fill="#0030fe" stroke="none" stroke-width="0.6"/>
<circle cx="332.63" cy="49.26" r="1.50" fill="#0030fe" stroke="none" stroke-width="0.6"/>
<circle cx="335.37" cy="49.83" r="1.50" fill="#0030fe" stroke="none" stroke-width="0.6"/>
<circle cx="335.38" cy="50.40" r="1.50" fill="#0030fe" stroke="none" stroke-width="0.6"/>
<circle cx="335.15" cy="50.97" r="1.50" fill="#0030fe" stroke="none" stroke-width="0.6"/>
<circle cx="331.26" cy="51.53" r="1.50" fill="#0030fe" stroke="none" stroke-width="0.6"/>
<circle cx="333.76" cy="52.10" r="1.50" fill="#0030fe" stroke="none" stroke-width="0.6"/>
<circle cx="333.42" cy="52.67" r="1.50" fill="#0030fe" stroke="none" stroke-width="0.6"/>
<circle cx="336.45" cy="53.24" r="1.50" fill="#0030fe" stroke="none" stroke-width="0.6"/>
<circle cx="338.95" cy="53.81" r="1.50" fill="#0030fe" stroke="none" stroke-width="0.6"/>
<circle cx="338.53" cy="54.38" r="1.50" fill="#0030fe" stroke="none" stroke-width="0.6"/>
<circle cx="334.81" cy="54.94" r="1.50" fill="#0030fe" stroke="none" stroke-width="0.6"/>
<circle cx="333.89" cy="55.51" r="1.50" fill="#0030fe" stroke="none" stroke-width="0.6"/>
<circle cx="332.27" cy="56.08" r="1.50" fill="#0030fe" stroke="none" stroke-width="0.6"/>
<circle cx="330.13" cy="56.65" r="1.50" fill="#0030fe" stroke="none" stroke-width="0.6"/>
<circle cx="330.05" cy="57.22" r="1.50" fill="#0030fe" stroke="none" stroke-width="0.6"/>
<circle cx="334.25" cy="58.16" r="1.50" fill="#0030fe" stroke="none" stroke-width="0.6"/>
<circle cx="333.60" cy="59.48" r="1.50" fill="#0030fe" stroke="none" stroke-width="0.6"/>
<circle cx="333.87" cy="60.80" r="1.50" fill="#0030fe" stroke="none" stroke-width="0.6"/>
<circle cx="336.12" cy="62.12" r="1.50" fill="#0030fe" stroke="none" stroke-width="0.6"/>
<circle cx="334.51" cy="63.45" r="1.50" fill="#0030fe" stroke="none" stroke-width="0.6"/>
<circle cx="334.67" cy="64.77" r="1.50" fill="#0030fe" stroke="none" stroke-width="0.6"/>
<circle cx="333.24" cy="66.09" r="1.50" fill="#0030fe" stroke="none" stroke-width="0.6"/>
<circle cx="332.30" cy="67.41" r="1.50" fill="#0030fe" stroke="none" stroke-width="0.6"/>
<circle cx="333.63" cy="68.73" r="1.50" fill="#0030fe" stroke="none" stroke-width="0.6"/>
<circle cx="332.80" cy="70.05" r="1.50" fill="#0030fe" stroke="none" stroke-width="0.6"/>
<circle cx="334.44" cy="71.38" r="1.50" fill="#0030fe" stroke="none" stroke-width="0.6"/>
<circle cx="336.59" cy="72.70" r="1.50" fill="#0030fe" stroke="none" stroke-width="0.6"/>
<circle cx="335.17" cy="74.02" r="1.50" fill="#0030fe" stroke="none" stroke-width="0.6"/>
<circle cx="333.00" cy="75.34" r="1.50" fill="#0030fe" stroke="none" stroke-width="0.6"/>
<circle cx="334.40" cy="85.00" r="1.50" fill="#0030fe" stroke="none" stroke-width="0.6"/>
<circle cx="334.90" cy="87.50" r="1.50" fill="#0030fe" stroke="none" stroke-width="0.6"/>
<circle cx="334.40" cy="94.60" r="1.50" fill="#0030fe" stroke="none" stroke-width="0.6"/>
<circle cx="334.90" cy="98.50" r="1.50" fill="#0030fe" stroke="none" stroke-width="0.6"/>
<circle cx="333.90" cy="111.50" r="1.50" fill="#0030fe" stroke="none" stroke-width="0.6"/>
<line x1="334.50" y1="44.80" x2="334.50" y2="75.30" stroke="#333" stroke-width="0.7"/>
<line x1="329.40" y1="60.50" x2="339.40" y2="60.50" stroke="#333" stroke-width="0.8"/>
<line x1="331.90" y1="44.50" x2="336.90" y2="44.50" stroke="#333" stroke-width="0.7"/>
<line x1="331.90" y1="75.50" x2="336.90" y2="75.50" stroke="#333" stroke-width="0.7"/>
<circle cx="351.21" cy="53.83" r="1.50" fill="#00fafa" stroke="none" stroke-width="0.6"/>
<circle cx="350.39" cy="54.27" r="1.50" fill="#00fafa" stroke="none" stroke-width="0.6"/>
<circle cx="349.87" cy="54.73" r="1.50" fill="#00fafa" stroke="none" stroke-width="0.6"/>
<circle cx="351.32" cy="55.18" r="1.50" fill="#00fafa" stroke="none" stroke-width="0.6"/>
<circle cx="350.11" cy="55.62" r="1.50" fill="#00fafa" stroke="none" stroke-width="0.6"/>
<circle cx="350.33" cy="56.08" r="1.50" fill="#00fafa" stroke="none" stroke-width="0.6"/>
<circle cx="346.67" cy="56.52" r="1.50" fill="#00fafa" stroke="none" stroke-width="0.6"/>
<circle cx="351.94" cy="56.98" r="1.50" fill="#00fafa" stroke="none" stroke-width="0.6"/>
<circle cx="351.78" cy="57.43" r="1.50" fill="#00fafa" stroke="none" stroke-width="0.6"/>
<circle cx="345.05" cy="57.88" r="1.50" fill="#00fafa" stroke="none" stroke-width="0.6"/>
<circle cx="350.03" cy="58.33" r="1.50" fill="#00fafa" stroke="none" stroke-width="0.6"/>
<circle cx="349.71" cy="58.77" r="1.50" fill="#00fafa" stroke="none" stroke-width="0.6"/>
<circle cx="347.58" cy="59.23" r="1.50" fill="#00fafa" stroke="none" stroke-width="0.6"/>
<circle cx="348.15" cy="59.67" r="1.50" fill="#00fafa" stroke="none" stroke-width="0.6"/>
<circle cx="347.82" cy="60.12" r="1.50" fill="#00fafa" stroke="none" stroke-width="0.6"/>
<circle cx="351.47" cy="60.58" r="1.50" fill="#00fafa" stroke="none" stroke-width="0.6"/>
<circle cx="347.91" cy="61.02" r="1.50" fill="#00fafa" stroke="none" stroke-width="0.6"/>
<circle cx="350.68" cy="61.48" r="1.50" fill="#00fafa" stroke="none" stroke-width="0.6"/>
<circle cx="346.67" cy="61.92" r="1.50" fill="#00fafa" stroke="none" stroke-width="0.6"/>
<circle cx="351.12" cy="62.38" r="1.50" fill="#00fafa" stroke="none" stroke-width="0.6"/>
<circle cx="351.26" cy="62.83" r="1.50" fill="#00fafa" stroke="none" stroke-width="0.6"/>
<circle cx="347.57" cy="63.27" r="1.50" fill="#00fafa" stroke="none" stroke-width="0.6"/>
<circle cx="348.14" cy="64.03" r="1.50" fill="#00fafa" stroke="none" stroke-width="0.6"/>
<circle cx="349.41" cy="65.08" r="1.50" fill="#00fafa" stroke="none" stroke-width="0.6"/>
<circle cx="348.71" cy="66.14" r="1.50" fill="#00fafa" stroke="none" stroke-width="0.6"/>
<circle cx="347.85" cy="67.19" r="1.50" fill="#00fafa" stroke="none" stroke-width="0.6"/>
<circle cx="346.90" cy="68.25" r="1.50" fill="#00fafa" stroke="none" stroke-width="0.6"/>
<circle cx="347.27" cy="69.31" r="1.50" fill="#00fafa" stroke="none" stroke-width="0.6"/>
<circle cx="348.62" cy="70.36" r="1.50" fill="#00fafa" stroke="none" stroke-width="0.6"/>
<circle cx="346.70" cy="71.42" r="1.50" fill="#00fafa" stroke="none" stroke-width="0.6"/>
<circle cx="349.37" cy="72.47" r="1.50" fill="#00fafa" stroke="none" stroke-width="0.6"/>
<circle cx="347.40" cy="83.40" r="1.50" fill="#00fafa" stroke="none" stroke-width="0.6"/>
<circle cx="348.90" cy="85.20" r="1.50" fill="#00fafa" stroke="none" stroke-width="0.6"/>
<circle cx="347.90" cy="90.70" r="1.50" fill="#00fafa" stroke="none" stroke-width="0.6"/>
<line x1="347.50" y1="53.40" x2="347.50" y2="73.20" stroke="#333" stroke-width="0.7"/>
<line x1="342.90" y1="63.50" x2="352.90" y2="63.50" stroke="#333" stroke-width="0.8"/>
<line x1="345.40" y1="53.50" x2="350.40" y2="53.50" stroke="#333" stroke-width="0.7"/>
<line x1="345.40" y1="73.50" x2="350.40" y2="73.50" stroke="#333" stroke-width="0.7"/>
<circle cx="360.40" cy="55.20" r="1.50" fill="#fe2a00" stroke="none" stroke-width="0.6"/>
<circle cx="362.60" cy="56.60" r="1.50" fill="#fe2a00" stroke="none" stroke-width="0.6"/>
<circle cx="361.60" cy="63.80" r="1.50" fill="#fe2a00" stroke="none" stroke-width="0.6"/>
<circle cx="361.60" cy="71.80" r="1.50" fill="#fe2a00" stroke="none" stroke-width="0.6"/>
<circle cx="360.60" cy="80.60" r="1.50" fill="#fe2a00" stroke="none" stroke-width="0.6"/>
<circle cx="362.80" cy="82.00" r="1.50" fill="#fe2a00" stroke="none" stroke-width="0.6"/>
<circle cx="361.60" cy="87.50" r="1.50" fill="#fe2a00" stroke="none" stroke-width="0.6"/>
<circle cx="360.60" cy="100.50" r="1.50" fill="#fe2a00" stroke="none" stroke-width="0.6"/>
<circle cx="360.12" cy="103.91" r="1.50" fill="#fe2a00" stroke="none" stroke-width="0.6"/>
<circle cx="364.23" cy="105.72" r="1.50" fill="#fe2a00" stroke="none" stroke-width="0.6"/>
<circle cx="360.38" cy="107.53" r="1.50" fill="#fe2a00" stroke="none" stroke-width="0.6"/>
<circle cx="364.53" cy="109.34" r="1.50" fill="#fe2a00" stroke="none" stroke-width="0.6"/>
<circle cx="362.92" cy="111.16" r="1.50" fill="#fe2a00" stroke="none" stroke-width="0.6"/>
<circle cx="361.63" cy="112.97" r="1.50" fill="#fe2a00" stroke="none" stroke-width="0.6"/>
<circle cx="361.71" cy="114.78" r="1.50" fill="#fe2a00" stroke="none" stroke-width="0.6"/>
<circle cx="362.57" cy="116.59" r="1.50" fill="#fe2a00" stroke="none" stroke-width="0.6"/>
<circle cx="362.16" cy="118.41" r="1.50" fill="#fe2a00" stroke="none" stroke-width="0.6"/>
<circle cx="360.40" cy="120.22" r="1.50" fill="#fe2a00" stroke="none" stroke-width="0.6"/>
<circle cx="359.73" cy="122.03" r="1.50" fill="#fe2a00" stroke="none" stroke-width="0.6"/>
<circle cx="361.68" cy="123.84" r="1.50" fill="#fe2a00" stroke="none" stroke-width="0.6"/>
<circle cx="364.38" cy="125.66" r="1.50" fill="#fe2a00" stroke="none" stroke-width="0.6"/>
<circle cx="362.39" cy="127.47" r="1.50" fill="#fe2a00" stroke="none" stroke-width="0.6"/>
<circle cx="358.88" cy="129.28" r="1.50" fill="#fe2a00" stroke="none" stroke-width="0.6"/>
<circle cx="363.65" cy="131.09" r="1.50" fill="#fe2a00" stroke="none" stroke-width="0.6"/>
<line x1="361.50" y1="76.40" x2="361.50" y2="123.00" stroke="#777" stroke-width="0.7"/>
<line x1="356.60" y1="100.50" x2="366.60" y2="100.50" stroke="#777" stroke-width="0.8"/>
<line x1="359.10" y1="76.50" x2="364.10" y2="76.50" stroke="#777" stroke-width="0.7"/>
<line x1="359.10" y1="123.50" x2="364.10" y2="123.50" stroke="#777" stroke-width="0.7"/>
<circle cx="377.70" cy="46.38" r="1.50" fill="#8c8c8c" stroke="none" stroke-width="0.6"/>
<circle cx="379.22" cy="47.12" r="1.50" fill="#8c8c8c" stroke="none" stroke-width="0.6"/>
<circle cx="373.21" cy="47.88" r="1.50" fill="#8c8c8c" stroke="none" stroke-width="0.6"/>
<circle cx="377.86" cy="48.62" r="1.50" fill="#8c8c8c" stroke="none" stroke-width="0.6"/>
<circle cx="372.09" cy="49.38" r="1.50" fill="#8c8c8c" stroke="none" stroke-width="0.6"/>
<circle cx="377.08" cy="50.12" r="1.50" fill="#8c8c8c" stroke="none" stroke-width="0.6"/>
<circle cx="373.89" cy="50.88" r="1.50" fill="#8c8c8c" stroke="none" stroke-width="0.6"/>
<circle cx="373.50" cy="51.62" r="1.50" fill="#8c8c8c" stroke="none" stroke-width="0.6"/>
<circle cx="378.95" cy="52.38" r="1.50" fill="#8c8c8c" stroke="none" stroke-width="0.6"/>
<circle cx="372.49" cy="53.12" r="1.50" fill="#8c8c8c" stroke="none" stroke-width="0.6"/>
<circle cx="375.99" cy="53.88" r="1.50" fill="#8c8c8c" stroke="none" stroke-width="0.6"/>
<circle cx="378.77" cy="54.62" r="1.50" fill="#8c8c8c" stroke="none" stroke-width="0.6"/>
<circle cx="373.66" cy="55.38" r="1.50" fill="#8c8c8c" stroke="none" stroke-width="0.6"/>
<circle cx="373.37" cy="56.12" r="1.50" fill="#8c8c8c" stroke="none" stroke-width="0.6"/>
<circle cx="379.00" cy="56.88" r="1.50" fill="#8c8c8c" stroke="none" stroke-width="0.6"/>
<circle cx="375.15" cy="57.62" r="1.50" fill="#8c8c8c" stroke="none" stroke-width="0.6"/>
<circle cx="376.58" cy="58.65" r="1.50" fill="#8c8c8c" stroke="none" stroke-width="0.6"/>
<circle cx="374.11" cy="59.95" r="1.50" fill="#8c8c8c" stroke="none" stroke-width="0.6"/>
<circle cx="375.30" cy="61.25" r="1.50" fill="#8c8c8c" stroke="none" stroke-width="0.6"/>
<circle cx="374.62" cy="62.55" r="1.50" fill="#8c8c8c" stroke="none" stroke-width="0.6"/>
<circle cx="376.42" cy="63.85" r="1.50" fill="#8c8c8c" stroke="none" stroke-width="0.6"/>
<line x1="375.50" y1="46.50" x2="375.50" y2="59.00" stroke="#555" stroke-width="0.7"/>
<line x1="370.80" y1="52.50" x2="380.80" y2="52.50" stroke="#555" stroke-width="0.8"/>
<line x1="373.30" y1="46.50" x2="378.30" y2="46.50" stroke="#555" stroke-width="0.7"/>
<line x1="373.30" y1="59.50" x2="378.30" y2="59.50" stroke="#555" stroke-width="0.7"/>
<circle cx="386.80" cy="50.73" r="1.50" fill="#8c8c8c" stroke="none" stroke-width="0.6"/>
<circle cx="393.07" cy="52.20" r="1.50" fill="#8c8c8c" stroke="none" stroke-width="0.6"/>
<circle cx="386.38" cy="53.66" r="1.50" fill="#8c8c8c" stroke="none" stroke-width="0.6"/>
<circle cx="391.45" cy="55.12" r="1.50" fill="#8c8c8c" stroke="none" stroke-width="0.6"/>
<circle cx="386.35" cy="56.59" r="1.50" fill="#8c8c8c" stroke="none" stroke-width="0.6"/>
<circle cx="388.04" cy="58.05" r="1.50" fill="#8c8c8c" stroke="none" stroke-width="0.6"/>
<circle cx="392.06" cy="59.52" r="1.50" fill="#8c8c8c" stroke="none" stroke-width="0.6"/>
<circle cx="387.33" cy="60.98" r="1.50" fill="#8c8c8c" stroke="none" stroke-width="0.6"/>
<circle cx="387.52" cy="62.45" r="1.50" fill="#8c8c8c" stroke="none" stroke-width="0.6"/>
<circle cx="391.18" cy="63.91" r="1.50" fill="#8c8c8c" stroke="none" stroke-width="0.6"/>
<circle cx="388.98" cy="65.38" r="1.50" fill="#8c8c8c" stroke="none" stroke-width="0.6"/>
<circle cx="386.51" cy="66.84" r="1.50" fill="#8c8c8c" stroke="none" stroke-width="0.6"/>
<circle cx="393.33" cy="68.30" r="1.50" fill="#8c8c8c" stroke="none" stroke-width="0.6"/>
<circle cx="387.29" cy="69.77" r="1.50" fill="#8c8c8c" stroke="none" stroke-width="0.6"/>
<circle cx="386.46" cy="71.23" r="1.50" fill="#8c8c8c" stroke="none" stroke-width="0.6"/>
<circle cx="388.68" cy="72.70" r="1.50" fill="#8c8c8c" stroke="none" stroke-width="0.6"/>
<circle cx="390.63" cy="74.16" r="1.50" fill="#8c8c8c" stroke="none" stroke-width="0.6"/>
<circle cx="391.55" cy="75.62" r="1.50" fill="#8c8c8c" stroke="none" stroke-width="0.6"/>
<circle cx="387.01" cy="77.09" r="1.50" fill="#8c8c8c" stroke="none" stroke-width="0.6"/>
<circle cx="388.63" cy="78.55" r="1.50" fill="#8c8c8c" stroke="none" stroke-width="0.6"/>
<circle cx="386.42" cy="80.02" r="1.50" fill="#8c8c8c" stroke="none" stroke-width="0.6"/>
<circle cx="389.43" cy="81.48" r="1.50" fill="#8c8c8c" stroke="none" stroke-width="0.6"/>
<circle cx="391.71" cy="82.95" r="1.50" fill="#8c8c8c" stroke="none" stroke-width="0.6"/>
<circle cx="391.53" cy="84.41" r="1.50" fill="#8c8c8c" stroke="none" stroke-width="0.6"/>
<circle cx="392.69" cy="85.88" r="1.50" fill="#8c8c8c" stroke="none" stroke-width="0.6"/>
<circle cx="391.64" cy="87.34" r="1.50" fill="#8c8c8c" stroke="none" stroke-width="0.6"/>
<circle cx="392.41" cy="88.80" r="1.50" fill="#8c8c8c" stroke="none" stroke-width="0.6"/>
<circle cx="391.28" cy="90.27" r="1.50" fill="#8c8c8c" stroke="none" stroke-width="0.6"/>
<circle cx="389.80" cy="102.40" r="1.50" fill="#8c8c8c" stroke="none" stroke-width="0.6"/>
<circle cx="390.30" cy="104.40" r="1.50" fill="#8c8c8c" stroke="none" stroke-width="0.6"/>
<circle cx="389.80" cy="113.20" r="1.50" fill="#8c8c8c" stroke="none" stroke-width="0.6"/>
<circle cx="389.80" cy="118.80" r="1.50" fill="#8c8c8c" stroke="none" stroke-width="0.6"/>
<line x1="389.50" y1="53.70" x2="389.50" y2="91.70" stroke="#555" stroke-width="0.7"/>
<line x1="384.80" y1="72.50" x2="394.80" y2="72.50" stroke="#555" stroke-width="0.8"/>
<line x1="387.30" y1="53.50" x2="392.30" y2="53.50" stroke="#555" stroke-width="0.7"/>
<line x1="387.30" y1="91.50" x2="392.30" y2="91.50" stroke="#555" stroke-width="0.7"/>
<path d="M332.60,13.20 L332.60,11.00 L390.70,11.00 L390.70,13.20" fill="none" stroke="#777" stroke-width="0.6"/>
<text x="0.00" y="0.00" font-size="6.6" text-anchor="middle" fill="#333" transform="translate(361.65 9.80) scale(1.06 1)" stroke="#333" stroke-width="0.2">0.0048</text>
<path d="M347.80,21.00 L347.80,18.80 L375.50,18.80 L375.50,21.00" fill="none" stroke="#777" stroke-width="0.6"/>
<text x="0.00" y="0.00" font-size="6.6" text-anchor="middle" fill="#333" transform="translate(361.65 17.60) scale(1.06 1)" stroke="#333" stroke-width="0.2">0.0033</text>
<path d="M358.30,29.00 L358.30,26.80 L379.60,26.80 L379.60,29.00" fill="none" stroke="#777" stroke-width="0.6"/>
<text x="0.00" y="0.00" font-size="6.6" text-anchor="middle" fill="#333" transform="translate(368.95 25.60) scale(1.06 1)" stroke="#333" stroke-width="0.2">0.0001</text>
<path d="M334.20,37.60 L334.20,35.40 L362.00,35.40 L362.00,37.60" fill="none" stroke="#777" stroke-width="0.6"/>
<text x="0.00" y="0.00" font-size="6.6" text-anchor="middle" fill="#333" transform="translate(348.10 34.20) scale(1.06 1)" stroke="#333" stroke-width="0.2">0.0001</text>
<path d="M347.80,47.80 L347.80,45.60 L361.50,45.60 L361.50,47.80" fill="none" stroke="#777" stroke-width="0.6"/>
<text x="0.00" y="0.00" font-size="6.6" text-anchor="middle" fill="#333" transform="translate(354.65 44.40) scale(1.06 1)" stroke="#333" stroke-width="0.2">0.0024</text>
<path d="M375.50,43.20 L375.50,41.00 L390.00,41.00 L390.00,43.20" fill="none" stroke="#777" stroke-width="0.6"/>
<text x="0.00" y="0.00" font-size="6.6" text-anchor="middle" fill="#333" transform="translate(382.75 39.80) scale(1.06 1)" stroke="#333" stroke-width="0.2">0.0001</text>
<text x="408.00" y="8.60" font-size="12.6" text-anchor="start" fill="#000" font-weight="bold" stroke="#000" stroke-width="0.45">c</text>
<line x1="500.50" y1="17.00" x2="500.50" y2="144.30" stroke="#555" stroke-width="0.7"/>
<line x1="500.00" y1="144.50" x2="541.00" y2="144.50" stroke="#555" stroke-width="0.7"/>
<line x1="498.00" y1="27.50" x2="500.00" y2="27.50" stroke="#555" stroke-width="0.6"/>
<text x="0.00" y="0.00" font-size="6.6" text-anchor="end" fill="#222" transform="translate(495.00 29.30) scale(1.06 1)" stroke="#222" stroke-width="0.2">Response to IFN-I</text>
<line x1="498.00" y1="45.50" x2="500.00" y2="45.50" stroke="#555" stroke-width="0.6"/>
<text x="0.00" y="0.00" font-size="6.6" text-anchor="end" fill="#222" transform="translate(495.00 43.70) scale(1.06 1)" stroke="#222" stroke-width="0.2">Regulation of</text>
<text x="0.00" y="0.00" font-size="6.6" text-anchor="end" fill="#222" transform="translate(495.00 51.20) scale(1.06 1)" stroke="#222" stroke-width="0.2">secretory pathway</text>
<line x1="498.00" y1="63.50" x2="500.00" y2="63.50" stroke="#555" stroke-width="0.6"/>
<text x="0.00" y="0.00" font-size="6.6" text-anchor="end" fill="#222" transform="translate(495.00 62.60) scale(1.06 1)" stroke="#222" stroke-width="0.2">Endoplasmic reticulum</text>
<text x="0.00" y="0.00" font-size="6.6" text-anchor="end" fill="#222" transform="translate(495.00 70.10) scale(1.06 1)" stroke="#222" stroke-width="0.2">protein containing complex</text>
<line x1="498.00" y1="80.50" x2="500.00" y2="80.50" stroke="#555" stroke-width="0.6"/>
<text x="0.00" y="0.00" font-size="6.6" text-anchor="end" fill="#222" transform="translate(495.00 81.00) scale(1.06 1)" stroke="#222" stroke-width="0.2">MHC-II protein complex</text>
<text x="0.00" y="0.00" font-size="6.6" text-anchor="end" fill="#222" transform="translate(495.00 88.60) scale(1.06 1)" stroke="#222" stroke-width="0.2">binding</text>
<line x1="498.00" y1="98.50" x2="500.00" y2="98.50" stroke="#555" stroke-width="0.6"/>
<text x="0.00" y="0.00" font-size="6.6" text-anchor="end" fill="#222" transform="translate(495.00 99.20) scale(1.06 1)" stroke="#222" stroke-width="0.2">Peptide antigen assembly</text>
<text x="0.00" y="0.00" font-size="6.6" text-anchor="end" fill="#222" transform="translate(495.00 106.80) scale(1.06 1)" stroke="#222" stroke-width="0.2">with MHC protein complex</text>
<line x1="498.00" y1="116.50" x2="500.00" y2="116.50" stroke="#555" stroke-width="0.6"/>
<text x="0.00" y="0.00" font-size="6.6" text-anchor="end" fill="#222" transform="translate(495.00 118.40) scale(1.06 1)" stroke="#222" stroke-width="0.2">Dendritic cell differentiation</text>
<line x1="498.00" y1="134.50" x2="500.00" y2="134.50" stroke="#555" stroke-width="0.6"/>
<text x="0.00" y="0.00" font-size="6.6" text-anchor="end" fill="#222" transform="translate(495.00 136.30) scale(1.06 1)" stroke="#222" stroke-width="0.2">Response to chemokine</text>
<line x1="513.50" y1="144.30" x2="513.50" y2="146.30" stroke="#555" stroke-width="0.6"/>
<line x1="533.50" y1="144.30" x2="533.50" y2="146.30" stroke="#555" stroke-width="0.6"/>
<circle cx="513.40" cy="27.10" r="4.10" fill="#0000fc" stroke="none" stroke-width="0.6"/>
<circle cx="513.40" cy="45.00" r="4.10" fill="#0000fc" stroke="none" stroke-width="0.6"/>
<circle cx="513.40" cy="63.00" r="4.50" fill="#0000fc" stroke="none" stroke-width="0.6"/>
<circle cx="533.00" cy="80.70" r="3.20" fill="#fe0000" stroke="none" stroke-width="0.6"/>
<circle cx="533.00" cy="98.40" r="3.20" fill="#fe0000" stroke="none" stroke-width="0.6"/>
<circle cx="533.00" cy="116.40" r="1.10" fill="#fe0000" stroke="none" stroke-width="0.6"/>
<circle cx="533.00" cy="134.00" r="3.90" fill="#fe0000" stroke="none" stroke-width="0.6"/>
<circle cx="513.40" cy="154.30" r="5.35" fill="#fff" stroke="#2a45ee" stroke-width="0.9"/>
<text x="513.40" y="156.75" font-size="7.14" text-anchor="middle" fill="#2a45ee">1</text>
<circle cx="533.00" cy="154.30" r="5.35" fill="#fff" stroke="#f03a3a" stroke-width="0.9"/>
<text x="533.00" y="156.75" font-size="7.14" text-anchor="middle" fill="#f03a3a">3</text>
<text x="0.00" y="0.00" font-size="6.13" text-anchor="middle" fill="#222" transform="translate(553.50 34.60) rotate(-90) scale(1.06 1)" stroke="#222" stroke-width="0.2">NES</text>
<circle cx="551.50" cy="46.40" r="1.30" fill="#000" stroke="none" stroke-width="0.6"/>
<text x="0.00" y="0.00" font-size="6.79" text-anchor="start" fill="#222" transform="translate(560.40 48.90) scale(1.06 1)" stroke="#222" stroke-width="0.2">2.0</text>
<circle cx="551.50" cy="57.50" r="2.90" fill="#000" stroke="none" stroke-width="0.6"/>
<text x="0.00" y="0.00" font-size="6.79" text-anchor="start" fill="#222" transform="translate(560.40 60.00) scale(1.06 1)" stroke="#222" stroke-width="0.2">2.2</text>
<circle cx="551.50" cy="68.30" r="3.60" fill="#000" stroke="none" stroke-width="0.6"/>
<text x="0.00" y="0.00" font-size="6.79" text-anchor="start" fill="#222" transform="translate(560.40 70.80) scale(1.06 1)" stroke="#222" stroke-width="0.2">2.4</text>
<circle cx="551.50" cy="79.60" r="4.20" fill="#000" stroke="none" stroke-width="0.6"/>
<text x="0.00" y="0.00" font-size="6.79" text-anchor="start" fill="#222" transform="translate(560.40 82.10) scale(1.06 1)" stroke="#222" stroke-width="0.2">2.6</text>
<text x="575.50" y="8.60" font-size="12.6" text-anchor="start" fill="#000" font-weight="bold" stroke="#000" stroke-width="0.45">d</text>
<line x1="587.50" y1="8.10" x2="587.50" y2="32.30" stroke="#666" stroke-width="0.7"/>
<line x1="587.80" y1="32.50" x2="655.00" y2="32.50" stroke="#666" stroke-width="0.7"/>
<text x="0.00" y="0.00" font-size="7.08" text-anchor="start" fill="#333" font-style="italic" transform="translate(654.50 24.60) scale(1.06 1)" stroke="#333" stroke-width="0.2">IRF7</text>
<line x1="587.50" y1="36.90" x2="587.50" y2="60.20" stroke="#666" stroke-width="0.7"/>
<line x1="587.80" y1="60.50" x2="655.00" y2="60.50" stroke="#666" stroke-width="0.7"/>
<text x="0.00" y="0.00" font-size="7.08" text-anchor="start" fill="#333" font-style="italic" transform="translate(654.50 53.30) scale(1.06 1)" stroke="#333" stroke-width="0.2">MYD88</text>
<line x1="587.50" y1="65.50" x2="587.50" y2="89.00" stroke="#666" stroke-width="0.7"/>
<line x1="587.80" y1="89.50" x2="655.00" y2="89.50" stroke="#666" stroke-width="0.7"/>
<text x="0.00" y="0.00" font-size="7.08" text-anchor="start" fill="#333" font-style="italic" transform="translate(654.50 82.40) scale(1.06 1)" stroke="#333" stroke-width="0.2">CIITA</text>
<line x1="587.50" y1="94.20" x2="587.50" y2="118.00" stroke="#666" stroke-width="0.7"/>
<line x1="587.80" y1="118.50" x2="655.00" y2="118.50" stroke="#666" stroke-width="0.7"/>
<text x="0.00" y="0.00" font-size="7.08" text-anchor="start" fill="#333" font-style="italic" transform="translate(654.50 111.40) scale(1.06 1)" stroke="#333" stroke-width="0.2">HLA-DRA</text>
<line x1="587.50" y1="123.30" x2="587.50" y2="147.10" stroke="#666" stroke-width="0.7"/>
<line x1="587.80" y1="147.50" x2="655.00" y2="147.50" stroke="#666" stroke-width="0.7"/>
<text x="0.00" y="0.00" font-size="7.08" text-anchor="start" fill="#333" font-style="italic" transform="translate(654.50 140.50) scale(1.06 1)" stroke="#333" stroke-width="0.2">MARCH1</text>
<path d="M595.90,14.50 C596.57,14.68 598.61,14.96 599.60,15.50 C600.59,16.04 601.11,16.78 601.40,17.50 C601.69,18.22 601.70,18.87 601.20,19.50 C600.70,20.13 599.43,20.55 598.60,21.00 C597.77,21.45 597.03,21.15 596.60,22.00 C596.17,22.85 596.34,24.98 596.20,25.70 C596.06,26.42 595.94,25.95 595.80,26.00 C595.66,26.05 595.54,26.05 595.40,26.00 C595.26,25.95 595.14,26.42 595.00,25.70 C594.86,24.98 595.03,22.85 594.60,22.00 C594.17,21.15 593.43,21.45 592.60,21.00 C591.77,20.55 590.50,20.13 590.00,19.50 C589.50,18.87 589.51,18.22 589.80,17.50 C590.09,16.78 590.61,16.04 591.60,15.50 C592.59,14.96 594.63,14.68 595.30,14.50 Z" fill="#0000f8" stroke="#333" stroke-width="0.5"/>
<path d="M608.80,15.00 C609.38,15.27 610.97,15.69 612.00,16.50 C613.03,17.31 614.14,18.60 614.50,19.50 C614.86,20.40 614.54,20.51 614.00,21.50 C613.46,22.49 612.22,23.65 611.50,25.00 C610.78,26.35 610.49,27.96 610.00,29.00 C609.51,30.04 609.12,30.48 608.80,30.80 C608.48,31.12 608.52,31.12 608.20,30.80 C607.88,30.48 607.49,30.04 607.00,29.00 C606.51,27.96 606.22,26.35 605.50,25.00 C604.78,23.65 603.54,22.49 603.00,21.50 C602.46,20.51 602.14,20.40 602.50,19.50 C602.86,18.60 603.97,17.31 605.00,16.50 C606.03,15.69 607.62,15.27 608.20,15.00 Z" fill="#00fcfc" stroke="#333" stroke-width="0.5"/>
<path d="M621.60,20.80 C622.00,21.11 622.90,21.74 623.80,22.50 C624.70,23.26 625.97,24.10 626.60,25.00 C627.23,25.90 627.35,26.69 627.30,27.50 C627.25,28.31 626.93,29.00 626.30,29.50 C625.67,30.00 625.15,30.16 623.80,30.30 C622.45,30.44 620.15,30.44 618.80,30.30 C617.45,30.16 616.93,30.00 616.30,29.50 C615.67,29.00 615.35,28.31 615.30,27.50 C615.25,26.69 615.37,25.90 616.00,25.00 C616.63,24.10 617.90,23.26 618.80,22.50 C619.70,21.74 620.60,21.11 621.00,20.80 Z" fill="#fe0000" stroke="#333" stroke-width="0.5"/>
<path d="M634.50,13.40 C634.99,13.78 636.17,14.67 637.20,15.50 C638.23,16.33 640.02,17.19 640.20,18.00 C640.38,18.81 639.01,19.28 638.20,20.00 C637.39,20.72 636.37,21.33 635.70,22.00 C635.03,22.67 634.82,23.39 634.50,23.70 C634.18,24.01 634.22,24.01 633.90,23.70 C633.58,23.39 633.37,22.67 632.70,22.00 C632.03,21.33 631.01,20.72 630.20,20.00 C629.39,19.28 628.02,18.81 628.20,18.00 C628.38,17.19 630.17,16.33 631.20,15.50 C632.23,14.67 633.41,13.78 633.90,13.40 Z" fill="#b0b0b0" stroke="#333" stroke-width="0.5"/>
<path d="M652.00,18.50 C652.22,18.63 652.98,18.57 653.20,19.20 C653.42,19.83 653.51,20.87 653.20,22.00 C652.89,23.13 652.17,24.51 651.50,25.50 C650.83,26.49 650.22,27.10 649.50,27.50 C648.78,27.90 648.04,27.66 647.50,27.70 C646.96,27.74 647.04,27.74 646.50,27.70 C645.96,27.66 645.22,27.90 644.50,27.50 C643.78,27.10 643.17,26.49 642.50,25.50 C641.83,24.51 641.11,23.13 640.80,22.00 C640.49,20.87 640.58,19.83 640.80,19.20 C641.02,18.57 641.78,18.63 642.00,18.50 Z" fill="#b0b0b0" stroke="#333" stroke-width="0.5"/>
<path d="M595.90,39.50 C596.30,39.95 597.22,40.83 598.10,42.00 C598.98,43.17 600.17,44.74 600.80,46.00 C601.43,47.26 601.64,47.92 601.60,49.00 C601.56,50.08 601.14,50.92 600.60,52.00 C600.06,53.08 599.23,54.01 598.60,55.00 C597.97,55.99 597.42,56.60 597.10,57.50 C596.78,58.40 597.29,59.55 596.80,60.00 C596.31,60.45 594.89,60.45 594.40,60.00 C593.91,59.55 594.42,58.40 594.10,57.50 C593.78,56.60 593.23,55.99 592.60,55.00 C591.97,54.01 591.14,53.08 590.60,52.00 C590.06,50.92 589.64,50.08 589.60,49.00 C589.56,47.92 589.77,47.26 590.40,46.00 C591.03,44.74 592.22,43.17 593.10,42.00 C593.98,40.83 594.90,39.95 595.30,39.50 Z" fill="#0000f8" stroke="#333" stroke-width="0.5"/>
<path d="M608.80,41.00 C609.56,41.54 611.97,42.92 613.00,44.00 C614.03,45.08 614.50,45.92 614.50,47.00 C614.50,48.08 613.72,48.92 613.00,50.00 C612.28,51.08 611.20,52.10 610.50,53.00 C609.80,53.90 609.41,53.74 609.10,55.00 C608.79,56.26 608.96,59.10 608.80,60.00 C608.64,60.90 608.36,60.90 608.20,60.00 C608.04,59.10 608.21,56.26 607.90,55.00 C607.59,53.74 607.20,53.90 606.50,53.00 C605.80,52.10 604.72,51.08 604.00,50.00 C603.28,48.92 602.50,48.08 602.50,47.00 C602.50,45.92 602.97,45.08 604.00,44.00 C605.03,42.92 607.44,41.54 608.20,41.00 Z" fill="#00fcfc" stroke="#333" stroke-width="0.5"/>
<path d="M621.80,45.60 C622.25,45.76 623.56,45.89 624.30,46.50 C625.04,47.11 625.63,48.01 625.90,49.00 C626.17,49.99 625.69,50.92 625.80,52.00 C625.91,53.08 626.23,53.92 626.50,55.00 C626.77,56.08 627.12,57.10 627.30,58.00 C627.48,58.90 629.70,59.64 627.50,60.00 C625.30,60.36 617.30,60.36 615.10,60.00 C612.90,59.64 615.12,58.90 615.30,58.00 C615.48,57.10 615.83,56.08 616.10,55.00 C616.37,53.92 616.69,53.08 616.80,52.00 C616.91,50.92 616.43,49.99 616.70,49.00 C616.97,48.01 617.56,47.11 618.30,46.50 C619.04,45.89 620.35,45.76 620.80,45.60 Z" fill="#fe0000" stroke="#333" stroke-width="0.5"/>
<path d="M634.70,39.00 C635.19,39.18 636.63,39.10 637.40,40.00 C638.17,40.90 638.64,42.38 639.00,44.00 C639.36,45.62 639.54,47.38 639.40,49.00 C639.26,50.62 638.87,51.81 638.20,53.00 C637.53,54.19 636.15,54.79 635.70,55.60 C635.25,56.41 635.43,56.80 635.70,57.50 C635.97,58.20 636.84,59.05 637.20,59.50 C637.56,59.95 638.87,59.91 637.70,60.00 C636.53,60.09 631.87,60.09 630.70,60.00 C629.53,59.91 630.84,59.95 631.20,59.50 C631.56,59.05 632.43,58.20 632.70,57.50 C632.97,56.80 633.15,56.41 632.70,55.60 C632.25,54.79 630.87,54.19 630.20,53.00 C629.53,51.81 629.14,50.62 629.00,49.00 C628.86,47.38 629.04,45.62 629.40,44.00 C629.76,42.38 630.23,40.90 631.00,40.00 C631.77,39.10 633.21,39.18 633.70,39.00 Z" fill="#b0b0b0" stroke="#333" stroke-width="0.5"/>
<path d="M651.00,38.70 C651.36,38.84 652.59,38.73 653.00,39.50 C653.41,40.27 653.57,41.74 653.30,43.00 C653.03,44.26 652.27,45.42 651.50,46.50 C650.73,47.58 649.72,48.33 649.00,49.00 C648.28,49.67 647.95,49.98 647.50,50.20 C647.05,50.42 646.95,50.42 646.50,50.20 C646.05,49.98 645.72,49.67 645.00,49.00 C644.28,48.33 643.27,47.58 642.50,46.50 C641.73,45.42 640.97,44.26 640.70,43.00 C640.43,41.74 640.59,40.27 641.00,39.50 C641.41,38.73 642.64,38.84 643.00,38.70 Z" fill="#b0b0b0" stroke="#333" stroke-width="0.5"/>
<path d="M596.10,77.80 C596.46,78.20 597.29,78.88 598.10,80.00 C598.91,81.12 599.97,82.74 600.60,84.00 C601.23,85.26 601.46,86.10 601.60,87.00 C601.74,87.90 603.52,88.64 601.40,89.00 C599.28,89.36 591.92,89.36 589.80,89.00 C587.68,88.64 589.46,87.90 589.60,87.00 C589.74,86.10 589.97,85.26 590.60,84.00 C591.23,82.74 592.29,81.12 593.10,80.00 C593.91,78.88 594.74,78.20 595.10,77.80 Z" fill="#0000f8" stroke="#333" stroke-width="0.5"/>
<path d="M609.00,77.00 C609.41,77.18 610.85,77.28 611.30,78.00 C611.75,78.72 611.01,80.01 611.50,81.00 C611.99,81.99 613.64,82.60 614.00,83.50 C614.36,84.40 614.13,85.23 613.50,86.00 C612.87,86.77 611.76,87.48 610.50,87.80 C609.24,88.12 607.76,88.12 606.50,87.80 C605.24,87.48 604.13,86.77 603.50,86.00 C602.87,85.23 602.64,84.40 603.00,83.50 C603.36,82.60 605.01,81.99 605.50,81.00 C605.99,80.01 605.25,78.72 605.70,78.00 C606.15,77.28 607.59,77.18 608.00,77.00 Z" fill="#00fcfc" stroke="#333" stroke-width="0.5"/>
<path d="M621.50,71.70 C621.68,72.38 621.55,74.46 622.50,75.50 C623.45,76.54 626.03,76.78 626.80,77.50 C627.57,78.22 627.43,78.82 626.80,79.50 C626.17,80.18 624.24,80.78 623.30,81.30 C622.36,81.82 622.01,82.20 621.60,82.40 C621.19,82.60 621.41,82.60 621.00,82.40 C620.59,82.20 620.24,81.82 619.30,81.30 C618.36,80.78 616.43,80.18 615.80,79.50 C615.17,78.82 615.03,78.22 615.80,77.50 C616.57,76.78 619.15,76.54 620.10,75.50 C621.05,74.46 620.92,72.38 621.10,71.70 Z" fill="#fe0000" stroke="#333" stroke-width="0.5"/>
<path d="M636.20,77.80 C636.60,77.93 637.95,77.92 638.40,78.50 C638.85,79.08 638.41,80.19 638.70,81.00 C638.99,81.81 639.82,82.10 640.00,83.00 C640.18,83.90 639.70,84.92 639.70,86.00 C639.70,87.08 642.03,88.46 640.00,89.00 C637.97,89.54 630.43,89.54 628.40,89.00 C626.37,88.46 628.70,87.08 628.70,86.00 C628.70,84.92 628.22,83.90 628.40,83.00 C628.58,82.10 629.41,81.81 629.70,81.00 C629.99,80.19 629.55,79.08 630.00,78.50 C630.45,77.92 631.80,77.93 632.20,77.80 Z" fill="#b0b0b0" stroke="#333" stroke-width="0.5"/>
<path d="M648.50,75.80 C649.04,75.93 650.65,76.01 651.50,76.50 C652.35,76.99 653.11,77.51 653.20,78.50 C653.29,79.49 652.76,80.65 652.00,82.00 C651.24,83.35 649.85,84.74 649.00,86.00 C648.15,87.26 647.71,88.46 647.30,89.00 C646.89,89.54 647.11,89.54 646.70,89.00 C646.29,88.46 645.85,87.26 645.00,86.00 C644.15,84.74 642.76,83.35 642.00,82.00 C641.24,80.65 640.71,79.49 640.80,78.50 C640.89,77.51 641.65,76.99 642.50,76.50 C643.35,76.01 644.96,75.93 645.50,75.80 Z" fill="#b0b0b0" stroke="#333" stroke-width="0.5"/>
<path d="M595.90,99.60 C596.30,99.85 597.07,100.12 598.10,101.00 C599.13,101.88 601.51,103.51 601.60,104.50 C601.69,105.49 599.50,105.87 598.60,106.50 C597.70,107.13 597.07,107.37 596.60,108.00 C596.13,108.63 596.14,108.34 596.00,110.00 C595.86,111.66 595.91,115.90 595.80,117.20 C595.69,118.50 595.51,118.50 595.40,117.20 C595.29,115.90 595.34,111.66 595.20,110.00 C595.06,108.34 595.07,108.63 594.60,108.00 C594.13,107.37 593.50,107.13 592.60,106.50 C591.70,105.87 589.51,105.49 589.60,104.50 C589.69,103.51 592.07,101.88 593.10,101.00 C594.13,100.12 594.90,99.85 595.30,99.60 Z" fill="#0000f8" stroke="#333" stroke-width="0.5"/>
<path d="M611.50,99.30 C612.08,99.39 614.25,99.31 614.70,99.80 C615.15,100.29 614.58,101.15 614.00,102.00 C613.42,102.85 612.31,103.69 611.50,104.50 C610.69,105.31 610.00,106.01 609.50,106.50 C609.00,106.99 608.92,107.07 608.70,107.20 C608.48,107.33 608.52,107.33 608.30,107.20 C608.08,107.07 608.00,106.99 607.50,106.50 C607.00,106.01 606.31,105.31 605.50,104.50 C604.69,103.69 603.58,102.85 603.00,102.00 C602.42,101.15 601.85,100.29 602.30,99.80 C602.75,99.31 604.92,99.39 605.50,99.30 Z" fill="#00fcfc" stroke="#333" stroke-width="0.5"/>
<path d="M621.80,96.00 C622.34,96.27 623.81,96.85 624.80,97.50 C625.79,98.15 627.21,98.88 627.30,99.60 C627.39,100.32 626.29,100.82 625.30,101.50 C624.31,102.18 622.61,103.06 621.80,103.40 C620.99,103.74 621.61,103.74 620.80,103.40 C619.99,103.06 618.29,102.18 617.30,101.50 C616.31,100.82 615.21,100.32 615.30,99.60 C615.39,98.88 616.81,98.15 617.80,97.50 C618.79,96.85 620.26,96.27 620.80,96.00 Z" fill="#fe0000" stroke="#333" stroke-width="0.5"/>
<path d="M634.50,102.30 C634.90,102.61 635.67,103.39 636.70,104.00 C637.73,104.61 640.20,105.07 640.20,105.70 C640.20,106.33 637.73,106.82 636.70,107.50 C635.67,108.18 635.00,109.14 634.50,109.50 C634.00,109.86 634.40,109.86 633.90,109.50 C633.40,109.14 632.73,108.18 631.70,107.50 C630.67,106.82 628.20,106.33 628.20,105.70 C628.20,105.07 630.67,104.61 631.70,104.00 C632.73,103.39 633.50,102.61 633.90,102.30 Z" fill="#b0b0b0" stroke="#333" stroke-width="0.5"/>
<path d="M647.20,100.00 C647.31,100.36 647.30,101.37 647.80,102.00 C648.30,102.63 649.06,103.05 650.00,103.50 C650.94,103.95 653.00,104.14 653.00,104.50 C653.00,104.86 650.94,105.05 650.00,105.50 C649.06,105.95 648.30,106.35 647.80,107.00 C647.30,107.65 647.38,108.72 647.20,109.10 C647.02,109.48 646.98,109.48 646.80,109.10 C646.62,108.72 646.70,107.65 646.20,107.00 C645.70,106.35 644.94,105.95 644.00,105.50 C643.06,105.05 641.00,104.86 641.00,104.50 C641.00,104.14 643.06,103.95 644.00,103.50 C644.94,103.05 645.70,102.63 646.20,102.00 C646.70,101.37 646.69,100.36 646.80,100.00 Z" fill="#b0b0b0" stroke="#333" stroke-width="0.5"/>
<path d="M595.80,130.70 C595.94,131.20 596.01,132.64 596.60,133.50 C597.19,134.36 598.29,134.78 599.10,135.50 C599.91,136.22 600.92,136.69 601.10,137.50 C601.28,138.31 600.01,139.19 600.10,140.00 C600.19,140.81 601.33,141.10 601.60,142.00 C601.87,142.90 601.60,144.10 601.60,145.00 C601.60,145.90 603.76,146.64 601.60,147.00 C599.44,147.36 591.76,147.36 589.60,147.00 C587.44,146.64 589.60,145.90 589.60,145.00 C589.60,144.10 589.33,142.90 589.60,142.00 C589.87,141.10 591.01,140.81 591.10,140.00 C591.19,139.19 589.92,138.31 590.10,137.50 C590.28,136.69 591.29,136.22 592.10,135.50 C592.91,134.78 594.01,134.36 594.60,133.50 C595.19,132.64 595.26,131.20 595.40,130.70 Z" fill="#0000f8" stroke="#333" stroke-width="0.5"/>
<path d="M609.00,134.40 C609.54,134.60 611.01,134.94 612.00,135.50 C612.99,136.06 614.14,136.51 614.50,137.50 C614.86,138.49 614.54,139.83 614.00,141.00 C613.46,142.17 613.03,143.46 611.50,144.00 C609.97,144.54 607.03,144.54 605.50,144.00 C603.97,143.46 603.54,142.17 603.00,141.00 C602.46,139.83 602.14,138.49 602.50,137.50 C602.86,136.51 604.01,136.06 605.00,135.50 C605.99,134.94 607.46,134.60 608.00,134.40 Z" fill="#00fcfc" stroke="#333" stroke-width="0.5"/>
<path d="M621.50,136.30 C621.54,137.33 621.52,140.43 621.70,142.00 C621.88,143.57 621.67,144.19 622.50,145.00 C623.33,145.81 625.58,146.14 626.30,146.50 C627.02,146.86 628.34,146.91 626.50,147.00 C624.66,147.09 617.94,147.09 616.10,147.00 C614.26,146.91 615.58,146.86 616.30,146.50 C617.02,146.14 619.27,145.81 620.10,145.00 C620.93,144.19 620.72,143.57 620.90,142.00 C621.08,140.43 621.06,137.33 621.10,136.30 Z" fill="#fe0000" stroke="#a00" stroke-width="0.5"/>
<path d="M634.70,132.20 C635.24,132.43 636.80,132.82 637.70,133.50 C638.60,134.18 639.25,135.01 639.70,136.00 C640.15,136.99 640.20,137.74 640.20,139.00 C640.20,140.26 639.70,141.56 639.70,143.00 C639.70,144.44 642.27,146.28 640.20,147.00 C638.13,147.72 630.27,147.72 628.20,147.00 C626.13,146.28 628.70,144.44 628.70,143.00 C628.70,141.56 628.20,140.26 628.20,139.00 C628.20,137.74 628.25,136.99 628.70,136.00 C629.15,135.01 629.80,134.18 630.70,133.50 C631.60,132.82 633.16,132.43 633.70,132.20 Z" fill="#b0b0b0" stroke="#333" stroke-width="0.5"/>
<path d="M650.00,135.30 C650.09,135.52 650.23,135.65 650.50,136.50 C650.77,137.35 651.14,138.65 651.50,140.00 C651.86,141.35 652.23,142.74 652.50,144.00 C652.77,145.26 655.07,146.46 653.00,147.00 C650.93,147.54 643.07,147.54 641.00,147.00 C638.93,146.46 641.23,145.26 641.50,144.00 C641.77,142.74 642.14,141.35 642.50,140.00 C642.86,138.65 643.23,137.35 643.50,136.50 C643.77,135.65 643.91,135.52 644.00,135.30 Z" fill="#b0b0b0" stroke="#333" stroke-width="0.5"/>
<circle cx="596.10" cy="155.50" r="5.67" fill="#fff" stroke="#2a45ee" stroke-width="0.9"/>
<text x="596.10" y="158.02" font-size="7.35" text-anchor="middle" fill="#2a45ee">1</text>
<circle cx="609.00" cy="155.50" r="5.67" fill="#fff" stroke="#3ee0ee" stroke-width="0.9"/>
<text x="609.00" y="158.02" font-size="7.35" text-anchor="middle" fill="#3ee0ee">2</text>
<circle cx="621.80" cy="155.50" r="5.67" fill="#fff" stroke="#f03a3a" stroke-width="0.9"/>
<text x="621.80" y="158.02" font-size="7.35" text-anchor="middle" fill="#f03a3a">3</text>
<circle cx="634.70" cy="155.50" r="5.67" fill="#fff" stroke="#222" stroke-width="0.9"/>
<text x="634.70" y="158.02" font-size="7.35" text-anchor="middle" fill="#222">4</text>
<circle cx="647.50" cy="155.50" r="5.67" fill="#fff" stroke="#222" stroke-width="0.9"/>
<text x="647.50" y="158.02" font-size="7.35" text-anchor="middle" fill="#222">5</text>
<text x="0.00" y="0.00" font-size="7.55" text-anchor="middle" fill="#222" transform="translate(582.80 78.00) rotate(-90) scale(1.06 1)" stroke="#222" stroke-width="0.2">Expression level</text>
<text x="0.30" y="190.50" font-size="12.6" text-anchor="start" fill="#000" font-weight="bold" stroke="#000" stroke-width="0.45">e</text>
<line x1="27.50" y1="224.00" x2="27.50" y2="300.00" stroke="#999" stroke-width="1.0"/>
<line x1="25.70" y1="300.50" x2="78.20" y2="300.50" stroke="#999" stroke-width="1.0"/>
<line x1="24.40" y1="300.50" x2="27.60" y2="300.50" stroke="#999" stroke-width="0.8"/>
<text x="0.00" y="0.00" font-size="6.98" text-anchor="end" fill="#333" transform="translate(20.80 302.60) scale(1.06 1)" stroke="#333" stroke-width="0.2">0</text>
<line x1="24.40" y1="262.50" x2="27.60" y2="262.50" stroke="#999" stroke-width="0.8"/>
<text x="0.00" y="0.00" font-size="6.98" text-anchor="end" fill="#333" transform="translate(20.80 264.85) scale(1.06 1)" stroke="#333" stroke-width="0.2">5</text>
<line x1="24.40" y1="224.50" x2="27.60" y2="224.50" stroke="#999" stroke-width="0.8"/>
<text x="0.00" y="0.00" font-size="6.98" text-anchor="end" fill="#333" transform="translate(20.80 227.10) scale(1.06 1)" stroke="#333" stroke-width="0.2">10</text>
<text x="0.00" y="0.00" font-size="8.02" text-anchor="middle" fill="#222" transform="translate(9.00 261.00) rotate(-90) scale(1.06 1)" stroke="#222" stroke-width="0.2">IFNα/cell (pg/ml)</text>
<rect x="35.20" y="264.80" width="14.00" height="35.20" fill="#0000fa" stroke="#666" stroke-width="0.5"/>
<rect x="56.60" y="297.20" width="14.00" height="2.80" fill="#fe0000" stroke="#800" stroke-width="0.5"/>
<line x1="42.40" y1="228.40" x2="63.90" y2="297.50" stroke="#111" stroke-width="0.7"/>
<circle cx="42.40" cy="228.40" r="1.40" fill="#000" stroke="none" stroke-width="0.6"/>
<circle cx="63.90" cy="297.50" r="1.40" fill="#000" stroke="none" stroke-width="0.6"/>
<line x1="42.40" y1="250.30" x2="63.90" y2="298.50" stroke="#111" stroke-width="0.7"/>
<circle cx="42.40" cy="250.30" r="1.40" fill="#000" stroke="none" stroke-width="0.6"/>
<circle cx="63.90" cy="298.50" r="1.40" fill="#000" stroke="none" stroke-width="0.6"/>
<line x1="42.40" y1="272.30" x2="63.90" y2="299.00" stroke="#111" stroke-width="0.7"/>
<circle cx="42.40" cy="272.30" r="1.40" fill="#000" stroke="none" stroke-width="0.6"/>
<circle cx="63.90" cy="299.00" r="1.40" fill="#000" stroke="none" stroke-width="0.6"/>
<line x1="42.40" y1="286.30" x2="63.90" y2="298.00" stroke="#111" stroke-width="0.7"/>
<circle cx="42.40" cy="286.30" r="1.40" fill="#000" stroke="none" stroke-width="0.6"/>
<circle cx="63.90" cy="298.00" r="1.40" fill="#000" stroke="none" stroke-width="0.6"/>
<line x1="42.40" y1="286.30" x2="63.90" y2="298.00" stroke="#111" stroke-width="1.2"/>
<line x1="63.90" y1="295.00" x2="63.90" y2="300.00" stroke="#000" stroke-width="2"/>
<path d="M40.90,222.90 L40.90,220.70 L65.80,220.70 L65.80,222.90" fill="none" stroke="#777" stroke-width="0.6"/>
<text x="0.00" y="0.00" font-size="6.79" text-anchor="middle" fill="#333" transform="translate(53.35 219.50) scale(1.06 1)" stroke="#333" stroke-width="0.2">0.0349</text>
<circle cx="41.00" cy="309.30" r="5.56" fill="#fff" stroke="#2a45ee" stroke-width="0.9"/>
<text x="41.00" y="311.75" font-size="7.14" text-anchor="middle" fill="#2a45ee">1</text>
<circle cx="62.60" cy="309.30" r="5.56" fill="#fff" stroke="#f03a3a" stroke-width="0.9"/>
<text x="62.60" y="311.75" font-size="7.14" text-anchor="middle" fill="#f03a3a">3</text>
<text x="87.80" y="190.50" font-size="12.6" text-anchor="start" fill="#000" font-weight="bold" stroke="#000" stroke-width="0.45">f</text>
<text x="0.00" y="0.00" font-size="7.83" text-anchor="middle" fill="#222" transform="translate(208.50 209.80) scale(1.06 1)" stroke="#222" stroke-width="0.2">Co-stimulatory markers</text>
<path d="M97.70,215.60 L97.70,213.40 L314.80,213.40 L314.80,215.60" fill="none" stroke="#888" stroke-width="0.6"/>
<rect x="98.10" y="220.30" width="70.30" height="70.10" fill="#fff" stroke="#999" stroke-width="0.7"/>
<path d="M110.00,241.30 L110.00,241.30 C110.26,240.99 111.09,240.78 111.61,239.33 C112.13,237.89 112.74,234.59 113.22,232.28 C113.70,229.97 114.15,224.90 114.60,224.90 C115.05,224.90 115.54,229.97 116.04,232.28 C116.54,234.59 117.18,237.89 117.72,239.33 C118.26,240.78 119.13,240.99 119.40,241.30 L119.40,241.30 Z" fill="#b6b6f0" stroke="#8c8ce6" stroke-width="0.4" fill-opacity="1.0"/>
<line x1="98.10" y1="241.50" x2="168.40" y2="241.50" stroke="#9a9aee" stroke-width="0.6" stroke-dasharray="2.2,1.6"/>
<path d="M115.90,251.10 L115.90,251.10 C116.24,250.78 117.18,249.90 118.00,249.10 C118.82,248.30 119.88,247.14 121.00,246.10 C122.12,245.06 124.04,243.40 125.00,242.60 C125.96,241.80 126.20,241.42 127.00,241.10 C127.80,240.78 129.04,240.60 130.00,240.60 C130.96,240.60 132.04,241.10 133.00,241.10 C133.96,241.10 135.06,240.68 136.00,240.60 C136.94,240.52 138.10,240.04 138.90,240.60 C139.70,241.16 140.18,243.14 141.00,244.10 C141.82,245.06 143.04,245.80 144.00,246.60 C144.96,247.40 145.93,248.38 147.00,249.10 C148.07,249.82 150.11,250.78 150.70,251.10 L150.70,251.10 Z" fill="#7474ee" stroke="#5555dd" stroke-width="0.4" fill-opacity="1.0"/>
<line x1="98.10" y1="251.50" x2="168.40" y2="251.50" stroke="#8080ee" stroke-width="0.6"/>
<path d="M110.50,261.00 L110.50,261.00 C110.71,260.65 111.38,260.42 111.80,258.83 C112.21,257.24 112.71,253.59 113.09,251.04 C113.47,248.50 113.82,242.90 114.20,242.90 C114.58,242.90 115.04,248.50 115.49,251.04 C115.94,253.59 116.51,257.24 117.00,258.83 C117.48,260.42 118.26,260.65 118.50,261.00 L118.50,261.00 Z" fill="#b0f0f0" stroke="#7fdede" stroke-width="0.4" fill-opacity="1.0"/>
<line x1="98.10" y1="261.50" x2="168.40" y2="261.50" stroke="#90e6e6" stroke-width="0.6" stroke-dasharray="2.2,1.6"/>
<path d="M116.50,270.60 L116.50,270.60 C117.22,270.50 119.48,270.40 121.00,270.00 C122.52,269.60 124.40,268.96 126.00,268.10 C127.60,267.24 129.56,265.80 131.00,264.60 C132.44,263.40 133.85,262.12 135.00,260.60 C136.15,259.08 137.40,255.58 138.20,255.10 C139.00,254.62 139.23,256.24 140.00,257.60 C140.77,258.96 141.91,261.52 143.00,263.60 C144.09,265.68 146.19,269.48 146.80,270.60 L146.80,270.60 Z" fill="#5fe2e2" stroke="#3fcaca" stroke-width="0.4" fill-opacity="1.0"/>
<line x1="98.10" y1="270.50" x2="168.40" y2="270.50" stroke="#80e6e6" stroke-width="0.6"/>
<path d="M108.00,280.30 L108.00,280.30 C108.35,279.99 109.48,279.79 110.17,278.38 C110.86,276.97 111.70,273.75 112.34,271.50 C112.98,269.25 113.63,264.30 114.20,264.30 C114.77,264.30 115.30,269.25 115.88,271.50 C116.46,273.75 117.21,276.97 117.84,278.38 C118.47,279.79 119.49,279.99 119.80,280.30 L119.80,280.30 Z" fill="#f9b0b0" stroke="#ee8888" stroke-width="0.4" fill-opacity="1.0"/>
<line x1="98.10" y1="280.50" x2="168.40" y2="280.50" stroke="#f0a0a0" stroke-width="0.6" stroke-dasharray="2.2,1.6"/>
<path d="M128.40,290.30 L128.40,290.30 C129.14,290.06 131.62,289.76 133.00,288.80 C134.38,287.84 135.88,285.82 137.00,284.30 C138.12,282.78 138.96,280.82 140.00,279.30 C141.04,277.78 142.54,275.12 143.50,274.80 C144.46,274.48 145.12,275.78 146.00,277.30 C146.88,278.82 147.83,282.22 149.00,284.30 C150.17,286.38 152.61,289.34 153.30,290.30 L153.30,290.30 Z" fill="#f27070" stroke="#e05050" stroke-width="0.4" fill-opacity="1.0"/>
<line x1="98.10" y1="290.50" x2="168.40" y2="290.50" stroke="#f09090" stroke-width="0.6"/>
<text x="0.00" y="0.00" font-size="6.89" text-anchor="end" fill="#222" transform="translate(166.90 240.60) scale(1.06 1)" stroke="#222" stroke-width="0.2">217</text>
<text x="0.00" y="0.00" font-size="6.89" text-anchor="end" fill="#222" transform="translate(166.90 250.00) scale(1.06 1)" stroke="#222" stroke-width="0.2">7,138</text>
<text x="0.00" y="0.00" font-size="6.89" text-anchor="end" fill="#222" transform="translate(166.90 259.40) scale(1.06 1)" stroke="#222" stroke-width="0.2">121</text>
<text x="0.00" y="0.00" font-size="6.89" text-anchor="end" fill="#222" transform="translate(166.90 269.20) scale(1.06 1)" stroke="#222" stroke-width="0.2">11,422</text>
<text x="0.00" y="0.00" font-size="6.89" text-anchor="end" fill="#222" transform="translate(166.90 278.40) scale(1.06 1)" stroke="#222" stroke-width="0.2">224</text>
<text x="0.00" y="0.00" font-size="6.89" text-anchor="end" fill="#222" transform="translate(166.90 288.30) scale(1.06 1)" stroke="#222" stroke-width="0.2">36,088</text>
<rect x="171.30" y="220.30" width="69.60" height="70.10" fill="#fff" stroke="#999" stroke-width="0.7"/>
<path d="M179.50,241.30 L179.50,241.30 C179.74,240.66 180.44,239.22 181.00,237.30 C181.56,235.38 182.52,231.06 183.00,229.30 C183.48,227.54 183.52,226.46 184.00,226.30 C184.48,226.14 185.20,227.34 186.00,228.30 C186.80,229.26 188.04,231.02 189.00,232.30 C189.96,233.58 191.20,235.18 192.00,236.30 C192.80,237.42 193.28,238.50 194.00,239.30 C194.72,240.10 196.10,240.98 196.50,241.30 L196.50,241.30 Z" fill="#b6b6f0" stroke="#8c8ce6" stroke-width="0.4" fill-opacity="1.0"/>
<line x1="171.30" y1="241.50" x2="240.90" y2="241.50" stroke="#9a9aee" stroke-width="0.6" stroke-dasharray="2.2,1.6"/>
<path d="M180.10,251.10 L180.10,251.10 C180.40,250.62 181.38,249.54 182.00,248.10 C182.62,246.66 183.36,244.02 184.00,242.10 C184.64,240.18 185.36,236.58 186.00,236.10 C186.64,235.62 187.36,238.14 188.00,239.10 C188.64,240.06 189.36,240.98 190.00,242.10 C190.64,243.22 191.36,245.30 192.00,246.10 C192.64,246.90 193.38,247.26 194.00,247.10 C194.62,246.94 195.26,244.94 195.90,245.10 C196.54,245.26 197.18,247.30 198.00,248.10 C198.82,248.90 199.98,249.62 201.00,250.10 C202.02,250.58 203.86,250.94 204.40,251.10 L204.40,251.10 Z" fill="#7474ee" stroke="#5555dd" stroke-width="0.4" fill-opacity="1.0"/>
<line x1="171.30" y1="251.50" x2="240.90" y2="251.50" stroke="#8080ee" stroke-width="0.6"/>
<path d="M179.00,261.00 L179.00,261.00 C179.32,260.20 180.36,258.08 181.00,256.00 C181.64,253.92 182.41,249.60 183.00,248.00 C183.59,246.40 184.06,245.52 184.70,246.00 C185.34,246.48 186.15,249.40 187.00,251.00 C187.85,252.60 188.88,254.72 190.00,256.00 C191.12,257.28 192.40,258.20 194.00,259.00 C195.60,259.80 199.04,260.68 200.00,261.00 L200.00,261.00 Z" fill="#b0f0f0" stroke="#7fdede" stroke-width="0.4" fill-opacity="1.0"/>
<line x1="171.30" y1="261.50" x2="240.90" y2="261.50" stroke="#90e6e6" stroke-width="0.6" stroke-dasharray="2.2,1.6"/>
<path d="M181.00,270.60 L181.00,270.60 C181.32,269.96 182.28,268.52 183.00,266.60 C183.72,264.68 184.81,260.46 185.50,258.60 C186.19,256.74 186.58,254.84 187.30,255.00 C188.02,255.16 189.09,258.06 190.00,259.60 C190.91,261.14 191.88,263.32 193.00,264.60 C194.12,265.88 195.56,266.80 197.00,267.60 C198.44,268.40 199.97,269.12 202.00,269.60 C204.03,270.08 208.47,270.44 209.70,270.60 L209.70,270.60 Z" fill="#5fe2e2" stroke="#3fcaca" stroke-width="0.4" fill-opacity="1.0"/>
<line x1="171.30" y1="270.50" x2="240.90" y2="270.50" stroke="#80e6e6" stroke-width="0.6"/>
<path d="M176.20,280.30 L176.20,280.30 C176.81,279.98 178.75,279.74 180.00,278.30 C181.25,276.86 183.04,273.06 184.00,271.30 C184.96,269.54 185.26,268.21 186.00,267.30 C186.74,266.39 187.80,265.28 188.60,265.60 C189.40,265.92 189.98,267.75 191.00,269.30 C192.02,270.85 193.69,273.54 195.00,275.30 C196.31,277.06 198.53,279.50 199.20,280.30 L199.20,280.30 Z" fill="#f9b0b0" stroke="#ee8888" stroke-width="0.4" fill-opacity="1.0"/>
<line x1="171.30" y1="280.50" x2="240.90" y2="280.50" stroke="#f0a0a0" stroke-width="0.6" stroke-dasharray="2.2,1.6"/>
<path d="M184.00,290.30 L184.00,290.30 C184.48,289.82 186.04,288.58 187.00,287.30 C187.96,286.02 189.10,283.82 190.00,282.30 C190.90,280.78 191.80,278.12 192.60,277.80 C193.40,277.48 194.14,279.98 195.00,280.30 C195.86,280.62 196.88,279.64 198.00,279.80 C199.12,279.96 200.72,280.58 202.00,281.30 C203.28,282.02 204.72,283.26 206.00,284.30 C207.28,285.34 208.67,286.84 210.00,287.80 C211.33,288.76 213.61,289.90 214.30,290.30 L214.30,290.30 Z" fill="#f27070" stroke="#e05050" stroke-width="0.4" fill-opacity="1.0"/>
<line x1="171.30" y1="290.50" x2="240.90" y2="290.50" stroke="#f09090" stroke-width="0.6"/>
<text x="0.00" y="0.00" font-size="6.89" text-anchor="end" fill="#222" transform="translate(239.40 240.60) scale(1.06 1)" stroke="#222" stroke-width="0.2">2,741</text>
<text x="0.00" y="0.00" font-size="6.89" text-anchor="end" fill="#222" transform="translate(239.40 250.00) scale(1.06 1)" stroke="#222" stroke-width="0.2">4,816</text>
<text x="0.00" y="0.00" font-size="6.89" text-anchor="end" fill="#222" transform="translate(239.40 259.40) scale(1.06 1)" stroke="#222" stroke-width="0.2">2,107</text>
<text x="0.00" y="0.00" font-size="6.89" text-anchor="end" fill="#222" transform="translate(239.40 269.20) scale(1.06 1)" stroke="#222" stroke-width="0.2">5,559</text>
<text x="0.00" y="0.00" font-size="6.89" text-anchor="end" fill="#222" transform="translate(239.40 278.40) scale(1.06 1)" stroke="#222" stroke-width="0.2">4,181</text>
<text x="0.00" y="0.00" font-size="6.89" text-anchor="end" fill="#222" transform="translate(239.40 288.30) scale(1.06 1)" stroke="#222" stroke-width="0.2">13,891</text>
<rect x="244.40" y="220.30" width="69.40" height="70.10" fill="#fff" stroke="#999" stroke-width="0.7"/>
<path d="M253.00,241.30 L253.00,241.30 C253.25,240.99 254.05,240.79 254.54,239.39 C255.03,237.99 255.62,234.79 256.08,232.56 C256.54,230.32 256.97,225.40 257.40,225.40 C257.83,225.40 258.30,230.32 258.78,232.56 C259.26,234.79 259.87,237.99 260.39,239.39 C260.91,240.79 261.74,240.99 262.00,241.30 L262.00,241.30 Z" fill="#b6b6f0" stroke="#8c8ce6" stroke-width="0.4" fill-opacity="1.0"/>
<line x1="244.40" y1="241.50" x2="314.30" y2="241.50" stroke="#9a9aee" stroke-width="0.6" stroke-dasharray="2.2,1.6"/>
<path d="M256.00,251.10 L256.00,251.10 C256.48,250.78 258.04,249.74 259.00,249.10 C259.96,248.46 261.04,247.90 262.00,247.10 C262.96,246.30 264.06,244.93 265.00,244.10 C265.94,243.27 266.94,241.90 267.90,241.90 C268.86,241.90 270.02,243.43 271.00,244.10 C271.98,244.77 272.90,245.72 274.00,246.10 C275.10,246.48 276.78,246.18 277.90,246.50 C279.02,246.82 279.86,247.52 281.00,248.10 C282.14,248.68 283.74,249.62 285.00,250.10 C286.26,250.58 288.28,250.94 288.90,251.10 L288.90,251.10 Z" fill="#7474ee" stroke="#5555dd" stroke-width="0.4" fill-opacity="1.0"/>
<line x1="244.40" y1="251.50" x2="313.80" y2="251.50" stroke="#8080ee" stroke-width="0.6"/>
<path d="M253.00,261.00 L253.00,261.00 C253.26,260.71 254.09,260.52 254.61,259.19 C255.13,257.86 255.74,254.82 256.22,252.69 C256.70,250.57 257.17,245.90 257.60,245.90 C258.03,245.90 258.46,250.57 258.92,252.69 C259.38,254.82 259.97,257.86 260.46,259.19 C260.95,260.52 261.75,260.71 262.00,261.00 L262.00,261.00 Z" fill="#b0f0f0" stroke="#7fdede" stroke-width="0.4" fill-opacity="1.0"/>
<line x1="244.40" y1="261.50" x2="314.30" y2="261.50" stroke="#90e6e6" stroke-width="0.6" stroke-dasharray="2.2,1.6"/>
<path d="M256.00,270.60 L256.00,270.60 C256.32,269.80 257.36,267.20 258.00,265.60 C258.64,264.00 259.52,262.47 260.00,260.60 C260.48,258.73 260.52,254.38 261.00,253.90 C261.48,253.42 262.20,257.12 263.00,257.60 C263.80,258.08 265.04,256.42 266.00,256.90 C266.96,257.38 267.88,259.21 269.00,260.60 C270.12,261.99 271.56,264.32 273.00,265.60 C274.44,266.88 276.24,267.93 278.00,268.60 C279.76,269.27 282.10,269.48 284.00,269.80 C285.90,270.12 288.96,270.47 289.90,270.60 L289.90,270.60 Z" fill="#5fe2e2" stroke="#3fcaca" stroke-width="0.4" fill-opacity="1.0"/>
<line x1="244.40" y1="270.50" x2="313.80" y2="270.50" stroke="#80e6e6" stroke-width="0.6"/>
<path d="M249.00,280.30 L249.00,280.30 C249.50,280.00 251.14,279.81 252.15,278.45 C253.16,277.10 254.36,274.00 255.30,271.83 C256.24,269.66 257.14,264.90 258.00,264.90 C258.86,264.90 259.76,269.66 260.70,271.83 C261.64,274.00 262.84,277.10 263.85,278.45 C264.86,279.81 266.50,280.00 267.00,280.30 L267.00,280.30 Z" fill="#f9b0b0" stroke="#ee8888" stroke-width="0.4" fill-opacity="1.0"/>
<line x1="244.40" y1="280.50" x2="314.30" y2="280.50" stroke="#f0a0a0" stroke-width="0.6" stroke-dasharray="2.2,1.6"/>
<path d="M263.00,290.30 L263.00,290.30 C263.64,289.98 265.72,289.10 267.00,288.30 C268.28,287.50 269.72,286.42 271.00,285.30 C272.28,284.18 273.80,282.32 275.00,281.30 C276.20,280.28 277.62,279.06 278.50,278.90 C279.38,278.74 279.80,279.98 280.50,280.30 C281.20,280.62 282.02,280.42 282.90,280.90 C283.78,281.38 284.86,282.28 286.00,283.30 C287.14,284.32 288.72,286.34 290.00,287.30 C291.28,288.26 292.74,288.82 294.00,289.30 C295.26,289.78 297.28,290.14 297.90,290.30 L297.90,290.30 Z" fill="#f27070" stroke="#e05050" stroke-width="0.4" fill-opacity="1.0"/>
<line x1="244.40" y1="290.50" x2="313.80" y2="290.50" stroke="#f09090" stroke-width="0.6"/>
<text x="0.00" y="0.00" font-size="6.89" text-anchor="end" fill="#222" transform="translate(312.30 240.60) scale(1.06 1)" stroke="#222" stroke-width="0.2">242</text>
<text x="0.00" y="0.00" font-size="6.89" text-anchor="end" fill="#222" transform="translate(312.30 250.00) scale(1.06 1)" stroke="#222" stroke-width="0.2">5,776</text>
<text x="0.00" y="0.00" font-size="6.89" text-anchor="end" fill="#222" transform="translate(312.30 259.40) scale(1.06 1)" stroke="#222" stroke-width="0.2">330</text>
<text x="0.00" y="0.00" font-size="6.89" text-anchor="end" fill="#222" transform="translate(312.30 269.20) scale(1.06 1)" stroke="#222" stroke-width="0.2">3,936</text>
<text x="0.00" y="0.00" font-size="6.89" text-anchor="end" fill="#222" transform="translate(312.30 278.40) scale(1.06 1)" stroke="#222" stroke-width="0.2">538</text>
<text x="0.00" y="0.00" font-size="6.89" text-anchor="end" fill="#222" transform="translate(312.30 288.30) scale(1.06 1)" stroke="#222" stroke-width="0.2">19,938</text>
<text x="0.00" y="0.00" font-size="7.17" text-anchor="start" fill="#222" transform="translate(316.50 240.70) scale(1.06 1)" stroke="#222" stroke-width="0.2">FMO</text>
<text x="0.00" y="0.00" font-size="7.17" text-anchor="start" fill="#222" transform="translate(316.50 260.10) scale(1.06 1)" stroke="#222" stroke-width="0.2">FMO</text>
<text x="0.00" y="0.00" font-size="7.17" text-anchor="start" fill="#222" transform="translate(316.50 279.10) scale(1.06 1)" stroke="#222" stroke-width="0.2">FMO</text>
<circle cx="91.00" cy="244.20" r="6.42" fill="#fff" stroke="#2a45ee" stroke-width="0.9"/>
<text x="91.00" y="246.94" font-size="7.98" text-anchor="middle" fill="#2a45ee">1</text>
<circle cx="91.00" cy="264.70" r="6.42" fill="#fff" stroke="#3ee0ee" stroke-width="0.9"/>
<text x="91.00" y="267.44" font-size="7.98" text-anchor="middle" fill="#3ee0ee">2</text>
<circle cx="91.00" cy="282.90" r="6.42" fill="#fff" stroke="#f03a3a" stroke-width="0.9"/>
<text x="91.00" y="285.64" font-size="7.98" text-anchor="middle" fill="#f03a3a">3</text>
<text x="0.00" y="0.00" font-size="6.6" text-anchor="middle" fill="#222" transform="translate(114.20 299.10) scale(1.06 1)" stroke="#222" stroke-width="0.2">0</text>
<text x="0.00" y="0.00" font-size="6.6" text-anchor="middle" fill="#222" transform="translate(133.10 299.10) scale(1.06 1)" stroke="#222" stroke-width="0.2">10</text>
<text x="0.00" y="0.00" font-size="4.25" text-anchor="middle" fill="#222" transform="translate(137.80 295.50) scale(1.06 1)" stroke="#222" stroke-width="0.2">4</text>
<text x="0.00" y="0.00" font-size="6.6" text-anchor="middle" fill="#222" transform="translate(145.60 299.10) scale(1.06 1)" stroke="#222" stroke-width="0.2">10</text>
<text x="0.00" y="0.00" font-size="4.25" text-anchor="middle" fill="#222" transform="translate(150.30 295.50) scale(1.06 1)" stroke="#222" stroke-width="0.2">5</text>
<text x="0.00" y="0.00" font-size="6.6" text-anchor="middle" fill="#222" transform="translate(158.40 299.10) scale(1.06 1)" stroke="#222" stroke-width="0.2">10</text>
<text x="0.00" y="0.00" font-size="4.25" text-anchor="middle" fill="#222" transform="translate(163.10 295.50) scale(1.06 1)" stroke="#222" stroke-width="0.2">6</text>
<line x1="102.50" y1="290.40" x2="102.50" y2="291.60" stroke="#555" stroke-width="0.5"/>
<line x1="107.50" y1="290.40" x2="107.50" y2="291.60" stroke="#555" stroke-width="0.5"/>
<line x1="113.50" y1="290.40" x2="113.50" y2="291.60" stroke="#555" stroke-width="0.5"/>
<line x1="118.50" y1="290.40" x2="118.50" y2="291.60" stroke="#555" stroke-width="0.5"/>
<line x1="124.50" y1="290.40" x2="124.50" y2="291.60" stroke="#555" stroke-width="0.5"/>
<line x1="129.50" y1="290.40" x2="129.50" y2="291.60" stroke="#555" stroke-width="0.5"/>
<line x1="135.50" y1="290.40" x2="135.50" y2="291.60" stroke="#555" stroke-width="0.5"/>
<line x1="140.50" y1="290.40" x2="140.50" y2="291.60" stroke="#555" stroke-width="0.5"/>
<line x1="146.50" y1="290.40" x2="146.50" y2="291.60" stroke="#555" stroke-width="0.5"/>
<line x1="151.50" y1="290.40" x2="151.50" y2="291.60" stroke="#555" stroke-width="0.5"/>
<line x1="157.50" y1="290.40" x2="157.50" y2="291.60" stroke="#555" stroke-width="0.5"/>
<line x1="162.50" y1="290.40" x2="162.50" y2="291.60" stroke="#555" stroke-width="0.5"/>
<line x1="175.50" y1="290.40" x2="175.50" y2="291.60" stroke="#555" stroke-width="0.5"/>
<line x1="180.50" y1="290.40" x2="180.50" y2="291.60" stroke="#555" stroke-width="0.5"/>
<line x1="186.50" y1="290.40" x2="186.50" y2="291.60" stroke="#555" stroke-width="0.5"/>
<line x1="191.50" y1="290.40" x2="191.50" y2="291.60" stroke="#555" stroke-width="0.5"/>
<line x1="197.50" y1="290.40" x2="197.50" y2="291.60" stroke="#555" stroke-width="0.5"/>
<line x1="202.50" y1="290.40" x2="202.50" y2="291.60" stroke="#555" stroke-width="0.5"/>
<line x1="208.50" y1="290.40" x2="208.50" y2="291.60" stroke="#555" stroke-width="0.5"/>
<line x1="213.50" y1="290.40" x2="213.50" y2="291.60" stroke="#555" stroke-width="0.5"/>
<line x1="219.50" y1="290.40" x2="219.50" y2="291.60" stroke="#555" stroke-width="0.5"/>
<line x1="224.50" y1="290.40" x2="224.50" y2="291.60" stroke="#555" stroke-width="0.5"/>
<line x1="230.50" y1="290.40" x2="230.50" y2="291.60" stroke="#555" stroke-width="0.5"/>
<line x1="235.50" y1="290.40" x2="235.50" y2="291.60" stroke="#555" stroke-width="0.5"/>
<line x1="248.50" y1="290.40" x2="248.50" y2="291.60" stroke="#555" stroke-width="0.5"/>
<line x1="253.50" y1="290.40" x2="253.50" y2="291.60" stroke="#555" stroke-width="0.5"/>
<line x1="259.50" y1="290.40" x2="259.50" y2="291.60" stroke="#555" stroke-width="0.5"/>
<line x1="264.50" y1="290.40" x2="264.50" y2="291.60" stroke="#555" stroke-width="0.5"/>
<line x1="270.50" y1="290.40" x2="270.50" y2="291.60" stroke="#555" stroke-width="0.5"/>
<line x1="275.50" y1="290.40" x2="275.50" y2="291.60" stroke="#555" stroke-width="0.5"/>
<line x1="281.50" y1="290.40" x2="281.50" y2="291.60" stroke="#555" stroke-width="0.5"/>
<line x1="286.50" y1="290.40" x2="286.50" y2="291.60" stroke="#555" stroke-width="0.5"/>
<line x1="292.50" y1="290.40" x2="292.50" y2="291.60" stroke="#555" stroke-width="0.5"/>
<line x1="297.50" y1="290.40" x2="297.50" y2="291.60" stroke="#555" stroke-width="0.5"/>
<line x1="303.50" y1="290.40" x2="303.50" y2="291.60" stroke="#555" stroke-width="0.5"/>
<line x1="308.50" y1="290.40" x2="308.50" y2="291.60" stroke="#555" stroke-width="0.5"/>
<text x="0.00" y="0.00" font-size="7.74" text-anchor="start" fill="#222" transform="translate(98.60 312.80) scale(1.06 1)" stroke="#222" stroke-width="0.2">CD86-</text>
<text x="0.00" y="0.00" font-size="7.74" text-anchor="start" fill="#222" transform="translate(98.60 322.20) scale(1.06 1)" stroke="#222" stroke-width="0.2">BUV737</text>
<line x1="126.60" y1="310.50" x2="164.70" y2="310.50" stroke="#4d5a6e" stroke-width="0.95"/>
<path d="M166.7,310 L163.5,308.4 L163.5,311.6 Z" fill="#4d5a6e" stroke="none" stroke-width="0.6"/>
<text x="0.00" y="0.00" font-size="7.74" text-anchor="start" fill="#222" transform="translate(171.80 312.80) scale(1.06 1)" stroke="#222" stroke-width="0.2">CD80-</text>
<text x="0.00" y="0.00" font-size="7.74" text-anchor="start" fill="#222" transform="translate(171.80 322.20) scale(1.06 1)" stroke="#222" stroke-width="0.2">BV421</text>
<line x1="199.50" y1="310.50" x2="237.50" y2="310.50" stroke="#4d5a6e" stroke-width="0.95"/>
<path d="M239.5,310 L236.3,308.4 L236.3,311.6 Z" fill="#4d5a6e" stroke="none" stroke-width="0.6"/>
<text x="0.00" y="0.00" font-size="7.74" text-anchor="start" fill="#222" transform="translate(245.00 312.80) scale(1.06 1)" stroke="#222" stroke-width="0.2">CD40-</text>
<text x="0.00" y="0.00" font-size="7.74" text-anchor="start" fill="#222" transform="translate(245.00 322.20) scale(1.06 1)" stroke="#222" stroke-width="0.2">PE</text>
<line x1="273.00" y1="310.50" x2="311.40" y2="310.50" stroke="#4d5a6e" stroke-width="0.95"/>
<path d="M313.4,310 L310.2,308.4 L310.2,311.6 Z" fill="#4d5a6e" stroke="none" stroke-width="0.6"/>
<text x="341.00" y="190.30" font-size="12.6" text-anchor="start" fill="#000" font-weight="bold" stroke="#000" stroke-width="0.45">g</text>
<text x="348.9" y="263.8" font-size="7.8" text-anchor="middle" fill="#222" stroke="#222" stroke-width="0.15" transform="rotate(-90 348.9 263.8)">% antigen<tspan font-size="5" dy="-3">+</tspan><tspan dy="3"> cells</tspan></text>
<line x1="370.50" y1="222.40" x2="370.50" y2="304.00" stroke="#777" stroke-width="0.7"/>
<line x1="367.00" y1="304.50" x2="370.80" y2="304.50" stroke="#777" stroke-width="0.7"/>
<text x="0.00" y="0.00" font-size="6.98" text-anchor="end" fill="#333" transform="translate(363.80 306.50) scale(1.06 1)" stroke="#333" stroke-width="0.2">0</text>
<line x1="367.00" y1="277.50" x2="370.80" y2="277.50" stroke="#777" stroke-width="0.7"/>
<text x="0.00" y="0.00" font-size="6.98" text-anchor="end" fill="#333" transform="translate(363.80 279.97) scale(1.06 1)" stroke="#333" stroke-width="0.2">20</text>
<line x1="367.00" y1="250.50" x2="370.80" y2="250.50" stroke="#777" stroke-width="0.7"/>
<text x="0.00" y="0.00" font-size="6.98" text-anchor="end" fill="#333" transform="translate(363.80 253.43) scale(1.06 1)" stroke="#333" stroke-width="0.2">40</text>
<line x1="367.00" y1="224.50" x2="370.80" y2="224.50" stroke="#777" stroke-width="0.7"/>
<text x="0.00" y="0.00" font-size="6.98" text-anchor="end" fill="#333" transform="translate(363.80 226.90) scale(1.06 1)" stroke="#333" stroke-width="0.2">60</text>
<rect x="375.30" y="291.40" width="10.70" height="12.60" fill="#0030fe" stroke="#222" stroke-width="0.5"/>
<rect x="391.00" y="287.42" width="10.60" height="16.58" fill="#00fafa" stroke="#222" stroke-width="0.5"/>
<rect x="407.30" y="260.22" width="10.50" height="43.78" fill="#fe2a00" stroke="#222" stroke-width="0.5"/>
<line x1="370.80" y1="304.50" x2="420.30" y2="304.50" stroke="#777" stroke-width="0.7"/>
<path d="M380.65,257.83 L396.30,260.49 L412.55,221.75" fill="none" stroke="#111" stroke-width="0.55"/>
<circle cx="380.65" cy="257.83" r="1.30" fill="#000" stroke="none" stroke-width="0.6"/>
<circle cx="396.30" cy="260.49" r="1.30" fill="#000" stroke="none" stroke-width="0.6"/>
<circle cx="412.55" cy="221.75" r="1.30" fill="#000" stroke="none" stroke-width="0.6"/>
<path d="M380.65,293.39 L396.30,300.02 L412.55,264.20" fill="none" stroke="#111" stroke-width="0.55"/>
<circle cx="380.65" cy="293.39" r="1.30" fill="#000" stroke="none" stroke-width="0.6"/>
<circle cx="396.30" cy="300.02" r="1.30" fill="#000" stroke="none" stroke-width="0.6"/>
<circle cx="412.55" cy="264.20" r="1.30" fill="#000" stroke="none" stroke-width="0.6"/>
<path d="M380.65,300.02 L396.30,286.09 L412.55,268.18" fill="none" stroke="#111" stroke-width="0.55"/>
<circle cx="380.65" cy="300.02" r="1.30" fill="#000" stroke="none" stroke-width="0.6"/>
<circle cx="396.30" cy="286.09" r="1.30" fill="#000" stroke="none" stroke-width="0.6"/>
<circle cx="412.55" cy="268.18" r="1.30" fill="#000" stroke="none" stroke-width="0.6"/>
<path d="M380.65,301.35 L396.30,286.75 L412.55,272.16" fill="none" stroke="#111" stroke-width="0.55"/>
<circle cx="380.65" cy="301.35" r="1.30" fill="#000" stroke="none" stroke-width="0.6"/>
<circle cx="396.30" cy="286.75" r="1.30" fill="#000" stroke="none" stroke-width="0.6"/>
<circle cx="412.55" cy="272.16" r="1.30" fill="#000" stroke="none" stroke-width="0.6"/>
<path d="M380.65,299.36 L396.30,299.75 L412.55,276.14" fill="none" stroke="#111" stroke-width="0.55"/>
<circle cx="380.65" cy="299.36" r="1.30" fill="#000" stroke="none" stroke-width="0.6"/>
<circle cx="396.30" cy="299.75" r="1.30" fill="#000" stroke="none" stroke-width="0.6"/>
<circle cx="412.55" cy="276.14" r="1.30" fill="#000" stroke="none" stroke-width="0.6"/>
<text x="0.00" y="0.00" font-size="7.74" text-anchor="middle" fill="#222" transform="translate(394.40 190.60) scale(1.06 1)" stroke="#222" stroke-width="0.2">Apoptotic</text>
<text x="0.00" y="0.00" font-size="7.74" text-anchor="middle" fill="#222" transform="translate(394.40 199.70) scale(1.06 1)" stroke="#222" stroke-width="0.2">autologous</text>
<path d="M378.50,212.80 L378.50,210.60 L412.20,210.60 L412.20,212.80" fill="none" stroke="#777" stroke-width="0.6"/>
<text x="0.00" y="0.00" font-size="6.79" text-anchor="middle" fill="#333" transform="translate(395.35 209.40) scale(1.06 1)" stroke="#333" stroke-width="0.2">0.0011</text>
<path d="M396.20,220.70 L396.20,218.50 L412.50,218.50 L412.50,220.70" fill="none" stroke="#777" stroke-width="0.6"/>
<text x="0.00" y="0.00" font-size="6.79" text-anchor="middle" fill="#333" transform="translate(404.35 217.30) scale(1.06 1)" stroke="#333" stroke-width="0.2">0.0198</text>
<line x1="427.50" y1="222.40" x2="427.50" y2="304.00" stroke="#777" stroke-width="0.7"/>
<line x1="423.30" y1="304.50" x2="427.10" y2="304.50" stroke="#777" stroke-width="0.7"/>
<line x1="423.30" y1="277.50" x2="427.10" y2="277.50" stroke="#777" stroke-width="0.7"/>
<line x1="423.30" y1="250.50" x2="427.10" y2="250.50" stroke="#777" stroke-width="0.7"/>
<line x1="423.30" y1="224.50" x2="427.10" y2="224.50" stroke="#777" stroke-width="0.7"/>
<rect x="432.60" y="292.46" width="10.60" height="11.54" fill="#0030fe" stroke="#222" stroke-width="0.5"/>
<rect x="449.30" y="283.04" width="10.20" height="20.96" fill="#00fafa" stroke="#222" stroke-width="0.5"/>
<rect x="465.00" y="270.83" width="10.60" height="33.17" fill="#fe2a00" stroke="#222" stroke-width="0.5"/>
<line x1="427.10" y1="304.50" x2="478.10" y2="304.50" stroke="#777" stroke-width="0.7"/>
<path d="M437.90,274.15 L454.40,259.56 L470.30,242.31" fill="none" stroke="#111" stroke-width="0.55"/>
<circle cx="437.90" cy="274.15" r="1.30" fill="#000" stroke="none" stroke-width="0.6"/>
<circle cx="454.40" cy="259.56" r="1.30" fill="#000" stroke="none" stroke-width="0.6"/>
<circle cx="470.30" cy="242.31" r="1.30" fill="#000" stroke="none" stroke-width="0.6"/>
<path d="M437.90,287.42 L454.40,274.81 L470.30,274.15" fill="none" stroke="#111" stroke-width="0.55"/>
<circle cx="437.90" cy="287.42" r="1.30" fill="#000" stroke="none" stroke-width="0.6"/>
<circle cx="454.40" cy="274.81" r="1.30" fill="#000" stroke="none" stroke-width="0.6"/>
<circle cx="470.30" cy="274.15" r="1.30" fill="#000" stroke="none" stroke-width="0.6"/>
<path d="M437.90,297.37 L454.40,289.01 L470.30,276.14" fill="none" stroke="#111" stroke-width="0.55"/>
<circle cx="437.90" cy="297.37" r="1.30" fill="#000" stroke="none" stroke-width="0.6"/>
<circle cx="454.40" cy="289.01" r="1.30" fill="#000" stroke="none" stroke-width="0.6"/>
<circle cx="470.30" cy="276.14" r="1.30" fill="#000" stroke="none" stroke-width="0.6"/>
<path d="M437.90,300.02 L454.40,295.77 L470.30,279.46" fill="none" stroke="#111" stroke-width="0.55"/>
<circle cx="437.90" cy="300.02" r="1.30" fill="#000" stroke="none" stroke-width="0.6"/>
<circle cx="454.40" cy="295.77" r="1.30" fill="#000" stroke="none" stroke-width="0.6"/>
<circle cx="470.30" cy="279.46" r="1.30" fill="#000" stroke="none" stroke-width="0.6"/>
<path d="M437.90,302.01 L454.40,289.41 L470.30,277.47" fill="none" stroke="#111" stroke-width="0.55"/>
<circle cx="437.90" cy="302.01" r="1.30" fill="#000" stroke="none" stroke-width="0.6"/>
<circle cx="454.40" cy="289.41" r="1.30" fill="#000" stroke="none" stroke-width="0.6"/>
<circle cx="470.30" cy="277.47" r="1.30" fill="#000" stroke="none" stroke-width="0.6"/>
<text x="0.00" y="0.00" font-size="7.74" text-anchor="middle" fill="#222" transform="translate(454.30 190.60) scale(1.06 1)" stroke="#222" stroke-width="0.2">Apoptotic</text>
<text x="0.00" y="0.00" font-size="7.74" text-anchor="middle" fill="#222" transform="translate(454.30 199.70) scale(1.06 1)" stroke="#222" stroke-width="0.2">xenogeneic</text>
<path d="M435.50,225.80 L435.50,223.60 L468.70,223.60 L468.70,225.80" fill="none" stroke="#777" stroke-width="0.6"/>
<text x="0.00" y="0.00" font-size="6.79" text-anchor="middle" fill="#333" transform="translate(452.10 222.40) scale(1.06 1)" stroke="#333" stroke-width="0.2">0.0052</text>
<path d="M435.50,234.70 L435.50,232.50 L452.60,232.50 L452.60,234.70" fill="none" stroke="#777" stroke-width="0.6"/>
<path d="M455.20,234.70 L455.20,232.50 L472.30,232.50 L472.30,234.70" fill="none" stroke="#777" stroke-width="0.6"/>
<text x="0.00" y="0.00" font-size="6.6" text-anchor="middle" fill="#333" transform="translate(443.40 231.20) scale(1.06 1)" stroke="#333" stroke-width="0.2">0.0212</text>
<text x="0.00" y="0.00" font-size="6.6" text-anchor="middle" fill="#333" transform="translate(466.60 231.20) scale(1.06 1)" stroke="#333" stroke-width="0.2">0.0389</text>
<line x1="486.50" y1="222.40" x2="486.50" y2="304.00" stroke="#777" stroke-width="0.7"/>
<line x1="482.90" y1="304.50" x2="486.70" y2="304.50" stroke="#777" stroke-width="0.7"/>
<line x1="482.90" y1="277.50" x2="486.70" y2="277.50" stroke="#777" stroke-width="0.7"/>
<line x1="482.90" y1="250.50" x2="486.70" y2="250.50" stroke="#777" stroke-width="0.7"/>
<line x1="482.90" y1="224.50" x2="486.70" y2="224.50" stroke="#777" stroke-width="0.7"/>
<rect x="493.50" y="298.69" width="10.50" height="5.31" fill="#0030fe" stroke="#222" stroke-width="0.5"/>
<rect x="509.00" y="286.36" width="10.50" height="17.64" fill="#00fafa" stroke="#222" stroke-width="0.5"/>
<rect x="525.50" y="268.98" width="10.50" height="35.02" fill="#fe2a00" stroke="#222" stroke-width="0.5"/>
<line x1="486.70" y1="304.50" x2="538.50" y2="304.50" stroke="#777" stroke-width="0.7"/>
<path d="M498.75,288.74 L514.25,270.17 L530.75,251.60" fill="none" stroke="#111" stroke-width="0.55"/>
<circle cx="498.75" cy="288.74" r="1.30" fill="#000" stroke="none" stroke-width="0.6"/>
<circle cx="514.25" cy="270.17" r="1.30" fill="#000" stroke="none" stroke-width="0.6"/>
<circle cx="530.75" cy="251.60" r="1.30" fill="#000" stroke="none" stroke-width="0.6"/>
<path d="M498.75,293.39 L514.25,272.82 L530.75,252.92" fill="none" stroke="#111" stroke-width="0.55"/>
<circle cx="498.75" cy="293.39" r="1.30" fill="#000" stroke="none" stroke-width="0.6"/>
<circle cx="514.25" cy="272.82" r="1.30" fill="#000" stroke="none" stroke-width="0.6"/>
<circle cx="530.75" cy="252.92" r="1.30" fill="#000" stroke="none" stroke-width="0.6"/>
<path d="M498.75,297.37 L514.25,278.13 L530.75,254.25" fill="none" stroke="#111" stroke-width="0.55"/>
<circle cx="498.75" cy="297.37" r="1.30" fill="#000" stroke="none" stroke-width="0.6"/>
<circle cx="514.25" cy="278.13" r="1.30" fill="#000" stroke="none" stroke-width="0.6"/>
<circle cx="530.75" cy="254.25" r="1.30" fill="#000" stroke="none" stroke-width="0.6"/>
<path d="M498.75,300.68 L514.25,292.72 L530.75,264.20" fill="none" stroke="#111" stroke-width="0.55"/>
<circle cx="498.75" cy="300.68" r="1.30" fill="#000" stroke="none" stroke-width="0.6"/>
<circle cx="514.25" cy="292.72" r="1.30" fill="#000" stroke="none" stroke-width="0.6"/>
<circle cx="530.75" cy="264.20" r="1.30" fill="#000" stroke="none" stroke-width="0.6"/>
<path d="M498.75,302.94 L514.25,297.37 L530.75,278.79" fill="none" stroke="#111" stroke-width="0.55"/>
<circle cx="498.75" cy="302.94" r="1.30" fill="#000" stroke="none" stroke-width="0.6"/>
<circle cx="514.25" cy="297.37" r="1.30" fill="#000" stroke="none" stroke-width="0.6"/>
<circle cx="530.75" cy="278.79" r="1.30" fill="#000" stroke="none" stroke-width="0.6"/>
<path d="M498.75,302.01 L514.25,301.35 L530.75,282.77" fill="none" stroke="#111" stroke-width="0.55"/>
<circle cx="498.75" cy="302.01" r="1.30" fill="#000" stroke="none" stroke-width="0.6"/>
<circle cx="514.25" cy="301.35" r="1.30" fill="#000" stroke="none" stroke-width="0.6"/>
<circle cx="530.75" cy="282.77" r="1.30" fill="#000" stroke="none" stroke-width="0.6"/>
<text x="0.00" y="0.00" font-size="7.74" text-anchor="middle" fill="#222" font-style="italic" transform="translate(511.40 196.20) scale(1.06 1)" stroke="#222" stroke-width="0.2">S. aureus</text>
<path d="M499.50,225.70 L499.50,223.50 L532.40,223.50 L532.40,225.70" fill="none" stroke="#777" stroke-width="0.6"/>
<text x="0.00" y="0.00" font-size="6.79" text-anchor="middle" fill="#333" transform="translate(515.95 222.30) scale(1.06 1)" stroke="#333" stroke-width="0.2">0.0121</text>
<path d="M516.50,234.70 L516.50,232.50 L532.40,232.50 L532.40,234.70" fill="none" stroke="#777" stroke-width="0.6"/>
<text x="0.00" y="0.00" font-size="6.79" text-anchor="middle" fill="#333" transform="translate(524.45 231.30) scale(1.06 1)" stroke="#333" stroke-width="0.2">0.0058</text>
<line x1="550.50" y1="230.40" x2="550.50" y2="304.00" stroke="#777" stroke-width="0.7"/>
<line x1="546.50" y1="304.50" x2="550.30" y2="304.50" stroke="#777" stroke-width="0.7"/>
<line x1="546.50" y1="277.50" x2="550.30" y2="277.50" stroke="#777" stroke-width="0.7"/>
<line x1="546.50" y1="250.50" x2="550.30" y2="250.50" stroke="#777" stroke-width="0.7"/>
<rect x="554.20" y="279.46" width="9.60" height="24.54" fill="#0030fe" stroke="#222" stroke-width="0.5"/>
<rect x="568.90" y="248.94" width="9.90" height="55.06" fill="#00fafa" stroke="#222" stroke-width="0.5"/>
<rect x="584.80" y="264.20" width="8.30" height="39.80" fill="#fe2a00" stroke="#222" stroke-width="0.5"/>
<line x1="550.30" y1="304.50" x2="595.60" y2="304.50" stroke="#777" stroke-width="0.7"/>
<path d="M559.00,260.88 L573.85,239.66 L588.95,256.90" fill="none" stroke="#111" stroke-width="0.55"/>
<circle cx="559.00" cy="260.88" r="1.30" fill="#000" stroke="none" stroke-width="0.6"/>
<circle cx="573.85" cy="239.66" r="1.30" fill="#000" stroke="none" stroke-width="0.6"/>
<circle cx="588.95" cy="256.90" r="1.30" fill="#000" stroke="none" stroke-width="0.6"/>
<path d="M559.00,274.81 L573.85,242.97 L588.95,259.56" fill="none" stroke="#111" stroke-width="0.55"/>
<circle cx="559.00" cy="274.81" r="1.30" fill="#000" stroke="none" stroke-width="0.6"/>
<circle cx="573.85" cy="242.97" r="1.30" fill="#000" stroke="none" stroke-width="0.6"/>
<circle cx="588.95" cy="259.56" r="1.30" fill="#000" stroke="none" stroke-width="0.6"/>
<path d="M559.00,276.80 L573.85,244.30 L588.95,254.91" fill="none" stroke="#111" stroke-width="0.55"/>
<circle cx="559.00" cy="276.80" r="1.30" fill="#000" stroke="none" stroke-width="0.6"/>
<circle cx="573.85" cy="244.30" r="1.30" fill="#000" stroke="none" stroke-width="0.6"/>
<circle cx="588.95" cy="254.91" r="1.30" fill="#000" stroke="none" stroke-width="0.6"/>
<path d="M559.00,286.75 L573.85,256.24 L588.95,257.57" fill="none" stroke="#111" stroke-width="0.55"/>
<circle cx="559.00" cy="286.75" r="1.30" fill="#000" stroke="none" stroke-width="0.6"/>
<circle cx="573.85" cy="256.24" r="1.30" fill="#000" stroke="none" stroke-width="0.6"/>
<circle cx="588.95" cy="257.57" r="1.30" fill="#000" stroke="none" stroke-width="0.6"/>
<path d="M559.00,298.69 L573.85,275.48 L588.95,272.16" fill="none" stroke="#111" stroke-width="0.55"/>
<circle cx="559.00" cy="298.69" r="1.30" fill="#000" stroke="none" stroke-width="0.6"/>
<circle cx="573.85" cy="275.48" r="1.30" fill="#000" stroke="none" stroke-width="0.6"/>
<circle cx="588.95" cy="272.16" r="1.30" fill="#000" stroke="none" stroke-width="0.6"/>
<text x="0.00" y="0.00" font-size="7.74" text-anchor="middle" fill="#222" transform="translate(572.20 196.20) scale(1.06 1)" stroke="#222" stroke-width="0.2">DQ-OVA</text>
<path d="M557.20,225.70 L557.20,223.50 L589.20,223.50 L589.20,225.70" fill="none" stroke="#777" stroke-width="0.6"/>
<text x="0.00" y="0.00" font-size="6.79" text-anchor="middle" fill="#333" transform="translate(573.20 222.30) scale(1.06 1)" stroke="#333" stroke-width="0.2">0.0114</text>
<path d="M557.20,234.70 L557.20,232.50 L575.80,232.50 L575.80,234.70" fill="none" stroke="#777" stroke-width="0.6"/>
<text x="0.00" y="0.00" font-size="6.79" text-anchor="middle" fill="#333" transform="translate(566.50 231.30) scale(1.06 1)" stroke="#333" stroke-width="0.2">0.0107</text>
<circle cx="380.65" cy="312.90" r="5.56" fill="#fff" stroke="#2a45ee" stroke-width="0.9"/>
<text x="380.65" y="315.35" font-size="7.14" text-anchor="middle" fill="#2a45ee">1</text>
<circle cx="396.30" cy="312.90" r="5.56" fill="#fff" stroke="#3ee0ee" stroke-width="0.9"/>
<text x="396.30" y="315.35" font-size="7.14" text-anchor="middle" fill="#3ee0ee">2</text>
<circle cx="412.55" cy="312.90" r="5.56" fill="#fff" stroke="#f03a3a" stroke-width="0.9"/>
<text x="412.55" y="315.35" font-size="7.14" text-anchor="middle" fill="#f03a3a">3</text>
<circle cx="437.90" cy="312.90" r="5.56" fill="#fff" stroke="#2a45ee" stroke-width="0.9"/>
<text x="437.90" y="315.35" font-size="7.14" text-anchor="middle" fill="#2a45ee">1</text>
<circle cx="454.40" cy="312.90" r="5.56" fill="#fff" stroke="#3ee0ee" stroke-width="0.9"/>
<text x="454.40" y="315.35" font-size="7.14" text-anchor="middle" fill="#3ee0ee">2</text>
<circle cx="470.30" cy="312.90" r="5.56" fill="#fff" stroke="#f03a3a" stroke-width="0.9"/>
<text x="470.30" y="315.35" font-size="7.14" text-anchor="middle" fill="#f03a3a">3</text>
<circle cx="498.75" cy="312.90" r="5.56" fill="#fff" stroke="#2a45ee" stroke-width="0.9"/>
<text x="498.75" y="315.35" font-size="7.14" text-anchor="middle" fill="#2a45ee">1</text>
<circle cx="514.25" cy="312.90" r="5.56" fill="#fff" stroke="#3ee0ee" stroke-width="0.9"/>
<text x="514.25" y="315.35" font-size="7.14" text-anchor="middle" fill="#3ee0ee">2</text>
<circle cx="530.75" cy="312.90" r="5.56" fill="#fff" stroke="#f03a3a" stroke-width="0.9"/>
<text x="530.75" y="315.35" font-size="7.14" text-anchor="middle" fill="#f03a3a">3</text>
<circle cx="559.00" cy="312.90" r="5.56" fill="#fff" stroke="#2a45ee" stroke-width="0.9"/>
<text x="559.00" y="315.35" font-size="7.14" text-anchor="middle" fill="#2a45ee">1</text>
<circle cx="573.85" cy="312.90" r="5.56" fill="#fff" stroke="#3ee0ee" stroke-width="0.9"/>
<text x="573.85" y="315.35" font-size="7.14" text-anchor="middle" fill="#3ee0ee">2</text>
<circle cx="588.95" cy="312.90" r="5.56" fill="#fff" stroke="#f03a3a" stroke-width="0.9"/>
<text x="588.95" y="315.35" font-size="7.14" text-anchor="middle" fill="#f03a3a">3</text>
<text x="609.50" y="190.80" font-size="12.6" text-anchor="start" fill="#000" font-weight="bold" stroke="#000" stroke-width="0.45">h</text>
<text x="0.00" y="0.00" font-size="7.74" text-anchor="middle" fill="#222" font-style="italic" transform="translate(655.10 195.40) scale(1.06 1)" stroke="#222" stroke-width="0.2">S. aureus</text>
<line x1="634.50" y1="227.30" x2="634.50" y2="302.20" stroke="#777" stroke-width="0.7"/>
<line x1="630.50" y1="302.50" x2="634.30" y2="302.50" stroke="#777" stroke-width="0.7"/>
<text x="0.00" y="0.00" font-size="6.98" text-anchor="end" fill="#333" transform="translate(627.30 304.70) scale(1.06 1)" stroke="#333" stroke-width="0.2">0</text>
<line x1="630.50" y1="277.50" x2="634.30" y2="277.50" stroke="#777" stroke-width="0.7"/>
<text x="0.00" y="0.00" font-size="6.98" text-anchor="end" fill="#333" transform="translate(627.30 280.07) scale(1.06 1)" stroke="#333" stroke-width="0.2">20</text>
<line x1="630.50" y1="252.50" x2="634.30" y2="252.50" stroke="#777" stroke-width="0.7"/>
<text x="0.00" y="0.00" font-size="6.98" text-anchor="end" fill="#333" transform="translate(627.30 255.43) scale(1.06 1)" stroke="#333" stroke-width="0.2">40</text>
<line x1="630.50" y1="228.50" x2="634.30" y2="228.50" stroke="#777" stroke-width="0.7"/>
<text x="0.00" y="0.00" font-size="6.98" text-anchor="end" fill="#333" transform="translate(627.30 230.80) scale(1.06 1)" stroke="#333" stroke-width="0.2">60</text>
<line x1="634.30" y1="302.50" x2="678.00" y2="302.50" stroke="#777" stroke-width="0.7"/>
<rect x="641.60" y="299.24" width="13.50" height="2.96" fill="url(#hatchB)" stroke="#0030fe" stroke-width="0.6"/>
<rect x="662.60" y="247.39" width="12.80" height="54.81" fill="url(#hatchR)" stroke="#e00000" stroke-width="0.6"/>
<line x1="648.40" y1="297.89" x2="669.00" y2="238.15" stroke="#111" stroke-width="0.55"/>
<circle cx="648.40" cy="297.89" r="1.30" fill="#000" stroke="none" stroke-width="0.6"/>
<circle cx="669.00" cy="238.15" r="1.30" fill="#000" stroke="none" stroke-width="0.6"/>
<line x1="648.40" y1="299.12" x2="669.00" y2="248.01" stroke="#111" stroke-width="0.55"/>
<circle cx="648.40" cy="299.12" r="1.30" fill="#000" stroke="none" stroke-width="0.6"/>
<circle cx="669.00" cy="248.01" r="1.30" fill="#000" stroke="none" stroke-width="0.6"/>
<line x1="648.40" y1="300.35" x2="669.00" y2="251.09" stroke="#111" stroke-width="0.55"/>
<circle cx="648.40" cy="300.35" r="1.30" fill="#000" stroke="none" stroke-width="0.6"/>
<circle cx="669.00" cy="251.09" r="1.30" fill="#000" stroke="none" stroke-width="0.6"/>
<line x1="648.40" y1="301.21" x2="669.00" y2="249.24" stroke="#111" stroke-width="0.55"/>
<circle cx="648.40" cy="301.21" r="1.30" fill="#000" stroke="none" stroke-width="0.6"/>
<circle cx="669.00" cy="249.24" r="1.30" fill="#000" stroke="none" stroke-width="0.6"/>
<path d="M646.70,232.00 L646.70,229.80 L668.60,229.80 L668.60,232.00" fill="none" stroke="#777" stroke-width="0.6"/>
<text x="0.00" y="0.00" font-size="6.79" text-anchor="middle" fill="#333" transform="translate(657.65 228.60) scale(1.06 1)" stroke="#333" stroke-width="0.2">0.0012</text>
<text x="618.2" y="267.8" font-size="8.2" text-anchor="middle" fill="#222" stroke="#222" stroke-width="0.15" transform="rotate(-90 618.2 267.8)">% antigen+ cells</text>
<circle cx="648.50" cy="312.10" r="5.56" fill="#fff" stroke="#222" stroke-width="0.9"/>
<text x="648.50" y="314.55" font-size="7.14" text-anchor="middle" fill="#222">4</text>
<circle cx="669.20" cy="312.10" r="5.56" fill="#fff" stroke="#222" stroke-width="0.9"/>
<text x="669.20" y="314.55" font-size="7.14" text-anchor="middle" fill="#222">6</text>
<text x="0.60" y="345.90" font-size="12.6" text-anchor="start" fill="#000" font-weight="bold" stroke="#000" stroke-width="0.45">i</text>
<text x="0.00" y="0.00" font-size="7.74" text-anchor="middle" fill="#222" transform="translate(20.30 357.20) scale(1.06 1)" stroke="#222" stroke-width="0.2">Day-4</text>
<text x="0.00" y="0.00" font-size="7.74" text-anchor="middle" fill="#222" transform="translate(20.30 366.20) scale(1.06 1)" stroke="#222" stroke-width="0.2">culture</text>
<ellipse cx="20.3" cy="374.2" rx="11.2" ry="3.8" fill="#eba4a4" stroke="#8a5a5a" stroke-width="0.7"/>
<ellipse cx="20.3" cy="373.2" rx="10.8" ry="2.6" fill="none" stroke="#c77" stroke-width="0.4"/>
<text x="0.00" y="0.00" font-size="7.74" text-anchor="middle" fill="#222" transform="translate(43.80 376.80) scale(1.06 1)" stroke="#222" stroke-width="0.2">+/−</text>
<text x="0.00" y="0.00" font-size="7.74" text-anchor="middle" fill="#222" transform="translate(84.10 367.80) scale(1.06 1)" stroke="#222" stroke-width="0.2">Apoptotic</text>
<text x="0.00" y="0.00" font-size="7.74" text-anchor="middle" fill="#222" transform="translate(84.10 377.20) scale(1.06 1)" stroke="#222" stroke-width="0.2">xenogenic cells</text>
<text x="0.00" y="0.00" font-size="7.74" text-anchor="middle" fill="#222" transform="translate(43.80 392.00) scale(1.06 1)" stroke="#222" stroke-width="0.2">FACS</text>
<path d="M38,394.5 L38,412.6 L24.9,425.7" fill="none" stroke="#444" stroke-width="0.8"/>
<path d="M48.4,394.5 L48.4,412.6 L61.8,425.7" fill="none" stroke="#444" stroke-width="0.8"/>
<text x="0.00" y="0.00" font-size="7.74" text-anchor="middle" fill="#222" transform="translate(44.50 424.20) scale(1.06 1)" stroke="#222" stroke-width="0.2">pDC</text>
<text x="0.00" y="0.00" font-size="7.74" text-anchor="middle" fill="#222" transform="translate(44.50 432.20) scale(1.06 1)" stroke="#222" stroke-width="0.2">icDC2</text>
<text x="0.00" y="0.00" font-size="7.74" text-anchor="middle" fill="#222" transform="translate(44.50 439.60) scale(1.06 1)" stroke="#222" stroke-width="0.2">+</text>
<text x="43.5" y="447.6" font-size="8.2" text-anchor="middle" fill="#222" stroke="#222" stroke-width="0.15">CFSE<tspan font-size="5" dy="-3">+</tspan></text>
<text x="0.00" y="0.00" font-size="7.74" text-anchor="middle" fill="#222" transform="translate(44.80 455.80) scale(1.06 1)" stroke="#222" stroke-width="0.2">Naïve autologous T cells</text>
<line x1="45.50" y1="459.50" x2="45.50" y2="468.50" stroke="#4d5a6e" stroke-width="0.95"/>
<path d="M45,470.4 L43.5,467 L46.5,467 Z" fill="#4d5a6e" stroke="none" stroke-width="0.6"/>
<text x="0.00" y="0.00" font-size="7.74" text-anchor="middle" fill="#222" transform="translate(44.60 480.60) scale(1.06 1)" stroke="#222" stroke-width="0.2">Day6: CFSE dilution</text>
<text x="0.00" y="0.00" font-size="7.74" text-anchor="middle" fill="#222" transform="translate(44.60 490.00) scale(1.06 1)" stroke="#222" stroke-width="0.2">& T cell phenotype</text>
<line x1="117.50" y1="446.00" x2="117.50" y2="364.50" stroke="#4d5a6e" stroke-width="0.95"/>
<path d="M117.6,361.6 L116.0,365.2 L119.2,365.2 Z" fill="#4d5a6e" stroke="none" stroke-width="0.6"/>
<text x="0.00" y="0.00" font-size="6.79" text-anchor="start" fill="#222" transform="translate(120.20 476.20) rotate(-90) scale(1.06 1)" stroke="#222" stroke-width="0.2">CD25-PE</text>
<text x="0.00" y="0.00" font-size="7.74" text-anchor="middle" fill="#222" transform="translate(167.80 354.60) scale(1.06 1)" stroke="#222" stroke-width="0.2">T cells</text>
<text x="0.00" y="0.00" font-size="7.74" text-anchor="middle" fill="#222" transform="translate(228.80 354.60) scale(1.06 1)" stroke="#222" stroke-width="0.2">T cells + DCs</text>
<text x="0.00" y="0.00" font-size="7.74" text-anchor="middle" fill="#222" transform="translate(289.80 345.00) scale(1.06 1)" stroke="#222" stroke-width="0.2">T cells +</text>
<text x="0.00" y="0.00" font-size="7.74" text-anchor="middle" fill="#222" transform="translate(289.80 354.60) scale(1.06 1)" stroke="#222" stroke-width="0.2">Ag-loaded DCs</text>
<path d="M138.90,360.80 L138.90,358.80 L197.30,358.80 L197.30,360.80" fill="none" stroke="#888" stroke-width="0.6"/>
<path d="M199.30,360.80 L199.30,358.80 L257.70,358.80 L257.70,360.80" fill="none" stroke="#888" stroke-width="0.6"/>
<path d="M259.30,360.80 L259.30,358.80 L320.30,358.80 L320.30,360.80" fill="none" stroke="#888" stroke-width="0.6"/>
<rect x="200.30" y="361.90" width="56.30" height="56.00" fill="#fff" stroke="#888" stroke-width="0.7"/>
<circle cx="227.25" cy="394.17" r="0.33" fill="#555" fill-opacity="0.7"/>
<circle cx="229.75" cy="388.93" r="0.33" fill="#555" fill-opacity="0.7"/>
<circle cx="226.81" cy="391.76" r="0.33" fill="#555" fill-opacity="0.7"/>
<circle cx="230.09" cy="397.82" r="0.33" fill="#555" fill-opacity="0.7"/>
<circle cx="226.16" cy="385.04" r="0.33" fill="#555" fill-opacity="0.7"/>
<circle cx="229.99" cy="394.37" r="0.33" fill="#555" fill-opacity="0.7"/>
<circle cx="231.48" cy="397.01" r="0.33" fill="#555" fill-opacity="0.7"/>
<circle cx="228.38" cy="390.42" r="0.33" fill="#555" fill-opacity="0.7"/>
<circle cx="232.08" cy="389.89" r="0.33" fill="#555" fill-opacity="0.7"/>
<circle cx="226.86" cy="385.82" r="0.33" fill="#555" fill-opacity="0.7"/>
<circle cx="228.93" cy="392.68" r="0.33" fill="#555" fill-opacity="0.7"/>
<circle cx="228.18" cy="391.62" r="0.33" fill="#555" fill-opacity="0.7"/>
<circle cx="229.54" cy="395.64" r="0.33" fill="#555" fill-opacity="0.7"/>
<circle cx="230.36" cy="392.86" r="0.33" fill="#555" fill-opacity="0.7"/>
<circle cx="226.67" cy="396.03" r="0.33" fill="#555" fill-opacity="0.7"/>
<circle cx="226.61" cy="391.20" r="0.33" fill="#555" fill-opacity="0.7"/>
<circle cx="226.65" cy="392.16" r="0.33" fill="#555" fill-opacity="0.7"/>
<circle cx="227.76" cy="393.20" r="0.33" fill="#555" fill-opacity="0.7"/>
<circle cx="233.26" cy="391.08" r="0.33" fill="#555" fill-opacity="0.7"/>
<circle cx="229.00" cy="384.53" r="0.33" fill="#555" fill-opacity="0.7"/>
<circle cx="228.74" cy="395.57" r="0.33" fill="#555" fill-opacity="0.7"/>
<circle cx="228.81" cy="393.94" r="0.33" fill="#555" fill-opacity="0.7"/>
<circle cx="228.18" cy="386.39" r="0.33" fill="#555" fill-opacity="0.7"/>
<circle cx="228.95" cy="387.37" r="0.33" fill="#555" fill-opacity="0.7"/>
<circle cx="230.97" cy="388.83" r="0.33" fill="#555" fill-opacity="0.7"/>
<circle cx="229.66" cy="391.80" r="0.33" fill="#555" fill-opacity="0.7"/>
<circle cx="229.63" cy="388.45" r="0.33" fill="#555" fill-opacity="0.7"/>
<circle cx="230.01" cy="391.06" r="0.33" fill="#555" fill-opacity="0.7"/>
<circle cx="230.87" cy="395.10" r="0.33" fill="#555" fill-opacity="0.7"/>
<circle cx="228.38" cy="387.62" r="0.33" fill="#555" fill-opacity="0.7"/>
<circle cx="230.08" cy="394.33" r="0.33" fill="#555" fill-opacity="0.7"/>
<circle cx="230.73" cy="389.57" r="0.33" fill="#555" fill-opacity="0.7"/>
<circle cx="229.81" cy="394.58" r="0.33" fill="#555" fill-opacity="0.7"/>
<circle cx="229.23" cy="392.99" r="0.33" fill="#555" fill-opacity="0.7"/>
<circle cx="228.56" cy="388.60" r="0.33" fill="#555" fill-opacity="0.7"/>
<circle cx="227.03" cy="389.91" r="0.33" fill="#555" fill-opacity="0.7"/>
<circle cx="230.52" cy="400.05" r="0.33" fill="#555" fill-opacity="0.7"/>
<circle cx="230.75" cy="397.49" r="0.33" fill="#555" fill-opacity="0.7"/>
<circle cx="230.24" cy="395.58" r="0.33" fill="#555" fill-opacity="0.7"/>
<circle cx="229.46" cy="396.08" r="0.33" fill="#555" fill-opacity="0.7"/>
<circle cx="230.95" cy="389.81" r="0.33" fill="#555" fill-opacity="0.7"/>
<circle cx="229.03" cy="402.72" r="0.33" fill="#555" fill-opacity="0.7"/>
<circle cx="229.68" cy="397.16" r="0.33" fill="#555" fill-opacity="0.7"/>
<circle cx="229.17" cy="385.55" r="0.33" fill="#555" fill-opacity="0.7"/>
<circle cx="233.25" cy="401.19" r="0.33" fill="#555" fill-opacity="0.7"/>
<circle cx="229.44" cy="395.98" r="0.33" fill="#555" fill-opacity="0.7"/>
<circle cx="228.29" cy="387.05" r="0.33" fill="#555" fill-opacity="0.7"/>
<circle cx="228.79" cy="393.96" r="0.33" fill="#555" fill-opacity="0.7"/>
<circle cx="230.72" cy="395.59" r="0.33" fill="#555" fill-opacity="0.7"/>
<circle cx="229.67" cy="399.29" r="0.33" fill="#555" fill-opacity="0.7"/>
<circle cx="228.16" cy="396.36" r="0.33" fill="#555" fill-opacity="0.7"/>
<circle cx="230.05" cy="390.12" r="0.33" fill="#555" fill-opacity="0.7"/>
<circle cx="225.61" cy="387.25" r="0.33" fill="#555" fill-opacity="0.7"/>
<circle cx="229.38" cy="394.74" r="0.33" fill="#555" fill-opacity="0.7"/>
<circle cx="230.19" cy="386.16" r="0.33" fill="#555" fill-opacity="0.7"/>
<circle cx="229.13" cy="395.44" r="0.33" fill="#555" fill-opacity="0.7"/>
<circle cx="226.92" cy="378.99" r="0.33" fill="#555" fill-opacity="0.7"/>
<circle cx="231.34" cy="404.39" r="0.33" fill="#555" fill-opacity="0.7"/>
<circle cx="229.49" cy="386.72" r="0.33" fill="#555" fill-opacity="0.7"/>
<circle cx="228.27" cy="393.18" r="0.33" fill="#555" fill-opacity="0.7"/>
<circle cx="232.57" cy="394.85" r="0.33" fill="#555" fill-opacity="0.7"/>
<circle cx="229.88" cy="400.39" r="0.33" fill="#555" fill-opacity="0.7"/>
<circle cx="229.81" cy="402.08" r="0.33" fill="#555" fill-opacity="0.7"/>
<circle cx="227.44" cy="389.42" r="0.33" fill="#555" fill-opacity="0.7"/>
<circle cx="230.64" cy="399.56" r="0.33" fill="#555" fill-opacity="0.7"/>
<circle cx="229.81" cy="393.44" r="0.33" fill="#555" fill-opacity="0.7"/>
<circle cx="225.70" cy="388.31" r="0.33" fill="#555" fill-opacity="0.7"/>
<circle cx="227.50" cy="389.09" r="0.33" fill="#555" fill-opacity="0.7"/>
<circle cx="229.29" cy="389.97" r="0.33" fill="#555" fill-opacity="0.7"/>
<circle cx="229.85" cy="392.22" r="0.33" fill="#555" fill-opacity="0.7"/>
<circle cx="228.32" cy="392.60" r="0.33" fill="#555" fill-opacity="0.7"/>
<circle cx="229.86" cy="396.51" r="0.33" fill="#555" fill-opacity="0.7"/>
<circle cx="227.88" cy="390.71" r="0.33" fill="#555" fill-opacity="0.7"/>
<circle cx="227.86" cy="400.89" r="0.33" fill="#555" fill-opacity="0.7"/>
<circle cx="230.60" cy="390.68" r="0.33" fill="#555" fill-opacity="0.7"/>
<circle cx="227.22" cy="385.23" r="0.33" fill="#555" fill-opacity="0.7"/>
<circle cx="229.07" cy="393.00" r="0.33" fill="#555" fill-opacity="0.7"/>
<circle cx="231.89" cy="392.88" r="0.33" fill="#555" fill-opacity="0.7"/>
<circle cx="226.01" cy="378.68" r="0.33" fill="#555" fill-opacity="0.7"/>
<circle cx="230.78" cy="392.70" r="0.33" fill="#555" fill-opacity="0.7"/>
<circle cx="226.58" cy="393.15" r="0.33" fill="#555" fill-opacity="0.7"/>
<circle cx="228.76" cy="411.17" r="0.33" fill="#555" fill-opacity="0.7"/>
<circle cx="230.63" cy="394.84" r="0.33" fill="#555" fill-opacity="0.7"/>
<circle cx="227.05" cy="380.25" r="0.33" fill="#555" fill-opacity="0.7"/>
<circle cx="227.50" cy="383.43" r="0.33" fill="#555" fill-opacity="0.7"/>
<circle cx="228.12" cy="380.12" r="0.33" fill="#555" fill-opacity="0.7"/>
<circle cx="228.24" cy="398.71" r="0.33" fill="#555" fill-opacity="0.7"/>
<circle cx="230.21" cy="385.17" r="0.33" fill="#555" fill-opacity="0.7"/>
<circle cx="227.15" cy="396.96" r="0.33" fill="#555" fill-opacity="0.7"/>
<circle cx="229.24" cy="386.37" r="0.33" fill="#555" fill-opacity="0.7"/>
<circle cx="227.28" cy="388.23" r="0.33" fill="#555" fill-opacity="0.7"/>
<circle cx="226.60" cy="388.39" r="0.33" fill="#555" fill-opacity="0.7"/>
<circle cx="230.89" cy="395.46" r="0.33" fill="#555" fill-opacity="0.7"/>
<circle cx="231.50" cy="391.08" r="0.33" fill="#555" fill-opacity="0.7"/>
<circle cx="227.87" cy="386.56" r="0.33" fill="#555" fill-opacity="0.7"/>
<circle cx="227.66" cy="384.75" r="0.33" fill="#555" fill-opacity="0.7"/>
<circle cx="226.69" cy="396.00" r="0.33" fill="#555" fill-opacity="0.7"/>
<circle cx="231.25" cy="396.23" r="0.33" fill="#555" fill-opacity="0.7"/>
<circle cx="230.72" cy="393.05" r="0.33" fill="#555" fill-opacity="0.7"/>
<circle cx="227.76" cy="392.49" r="0.33" fill="#555" fill-opacity="0.7"/>
<circle cx="227.45" cy="385.89" r="0.33" fill="#555" fill-opacity="0.7"/>
<circle cx="225.37" cy="384.09" r="0.33" fill="#555" fill-opacity="0.7"/>
<circle cx="228.79" cy="392.72" r="0.33" fill="#555" fill-opacity="0.7"/>
<circle cx="228.98" cy="399.78" r="0.33" fill="#555" fill-opacity="0.7"/>
<circle cx="229.33" cy="395.05" r="0.33" fill="#555" fill-opacity="0.7"/>
<circle cx="229.85" cy="387.22" r="0.33" fill="#555" fill-opacity="0.7"/>
<circle cx="226.46" cy="396.34" r="0.33" fill="#555" fill-opacity="0.7"/>
<circle cx="228.61" cy="399.17" r="0.33" fill="#555" fill-opacity="0.7"/>
<circle cx="229.83" cy="397.34" r="0.33" fill="#555" fill-opacity="0.7"/>
<circle cx="228.39" cy="380.41" r="0.33" fill="#555" fill-opacity="0.7"/>
<circle cx="227.52" cy="406.37" r="0.3" fill="#666" fill-opacity="0.7"/>
<circle cx="232.19" cy="404.94" r="0.3" fill="#666" fill-opacity="0.7"/>
<circle cx="237.17" cy="406.03" r="0.3" fill="#666" fill-opacity="0.7"/>
<circle cx="232.20" cy="409.51" r="0.3" fill="#666" fill-opacity="0.7"/>
<circle cx="231.32" cy="403.37" r="0.3" fill="#666" fill-opacity="0.7"/>
<circle cx="227.80" cy="404.85" r="0.3" fill="#666" fill-opacity="0.7"/>
<circle cx="235.93" cy="407.60" r="0.3" fill="#666" fill-opacity="0.7"/>
<circle cx="237.86" cy="409.60" r="0.3" fill="#666" fill-opacity="0.7"/>
<circle cx="240.19" cy="407.24" r="0.3" fill="#666" fill-opacity="0.7"/>
<circle cx="238.74" cy="407.28" r="0.3" fill="#666" fill-opacity="0.7"/>
<circle cx="231.18" cy="407.64" r="0.3" fill="#666" fill-opacity="0.7"/>
<circle cx="233.73" cy="405.58" r="0.3" fill="#666" fill-opacity="0.7"/>
<circle cx="241.54" cy="407.56" r="0.3" fill="#666" fill-opacity="0.7"/>
<circle cx="231.56" cy="405.85" r="0.3" fill="#666" fill-opacity="0.7"/>
<circle cx="242.95" cy="405.51" r="0.3" fill="#666" fill-opacity="0.7"/>
<ellipse cx="246.30" cy="405.90" rx="4.00" ry="3.20" fill="rgb(200,200,200)" stroke="#333" stroke-width="0.25" fill-opacity="0.9"/>
<ellipse cx="246.30" cy="405.90" rx="3.20" ry="2.56" fill="rgb(157,157,157)" stroke="#333" stroke-width="0.25" fill-opacity="0.9"/>
<ellipse cx="246.30" cy="405.90" rx="2.40" ry="1.92" fill="rgb(115,115,115)" stroke="#333" stroke-width="0.25" fill-opacity="0.9"/>
<ellipse cx="246.30" cy="405.90" rx="1.60" ry="1.28" fill="rgb(72,72,72)" stroke="#333" stroke-width="0.25" fill-opacity="0.9"/>
<ellipse cx="246.30" cy="405.90" rx="0.80" ry="0.64" fill="rgb(30,30,30)" stroke="#333" stroke-width="0.25" fill-opacity="0.9"/>
<line x1="237.50" y1="361.90" x2="237.50" y2="417.90" stroke="#333" stroke-width="0.8"/>
<line x1="200.30" y1="398.50" x2="256.60" y2="398.50" stroke="#888" stroke-width="0.8"/>
<text x="0.00" y="0.00" font-size="6.98" text-anchor="start" fill="#222" transform="translate(203.60 371.30) scale(1.06 1)" stroke="#222" stroke-width="0.2">4.32</text>
<text x="0.00" y="0.00" font-size="6.98" text-anchor="end" fill="#222" transform="translate(255.10 371.30) scale(1.06 1)" stroke="#222" stroke-width="0.2">0.51</text>
<text x="0.00" y="0.00" font-size="6.98" text-anchor="start" fill="#222" transform="translate(203.60 416.50) scale(1.06 1)" stroke="#222" stroke-width="0.2">0.74</text>
<text x="0.00" y="0.00" font-size="6.98" text-anchor="end" fill="#222" transform="translate(255.10 416.50) scale(1.06 1)" stroke="#222" stroke-width="0.2">94.4</text>
<line x1="206.50" y1="417.90" x2="206.50" y2="419.10" stroke="#666" stroke-width="0.4"/>
<line x1="215.50" y1="417.90" x2="215.50" y2="419.10" stroke="#666" stroke-width="0.4"/>
<line x1="224.50" y1="417.90" x2="224.50" y2="419.10" stroke="#666" stroke-width="0.4"/>
<line x1="233.50" y1="417.90" x2="233.50" y2="419.10" stroke="#666" stroke-width="0.4"/>
<line x1="242.50" y1="417.90" x2="242.50" y2="419.10" stroke="#666" stroke-width="0.4"/>
<line x1="251.50" y1="417.90" x2="251.50" y2="419.10" stroke="#666" stroke-width="0.4"/>
<rect x="207.30" y="417.40" width="3.00" height="1.20" fill="#111" stroke="none" stroke-width="0.6"/>
<rect x="259.40" y="361.90" width="56.30" height="56.00" fill="#fff" stroke="#888" stroke-width="0.7"/>
<ellipse cx="287.90" cy="389.90" rx="4.20" ry="11.00" fill="none" stroke="#aaa" stroke-width="0.35" transform="rotate(0 287.9 389.9)"/>
<ellipse cx="287.90" cy="389.90" rx="3.08" ry="8.07" fill="none" stroke="#aaa" stroke-width="0.35" transform="rotate(0 287.9 389.9)"/>
<ellipse cx="287.90" cy="389.90" rx="1.96" ry="5.13" fill="none" stroke="#aaa" stroke-width="0.35" transform="rotate(0 287.9 389.9)"/>
<ellipse cx="287.90" cy="397.90" rx="5.50" ry="4.50" fill="none" stroke="#aaa" stroke-width="0.35" transform="rotate(0 287.9 397.9)"/>
<ellipse cx="287.90" cy="397.90" rx="3.30" ry="2.70" fill="none" stroke="#aaa" stroke-width="0.35" transform="rotate(0 287.9 397.9)"/>
<ellipse cx="305.40" cy="405.90" rx="4.80" ry="3.40" fill="rgb(200,200,200)" stroke="#333" stroke-width="0.25" fill-opacity="0.9"/>
<ellipse cx="305.40" cy="405.90" rx="3.84" ry="2.72" fill="rgb(157,157,157)" stroke="#333" stroke-width="0.25" fill-opacity="0.9"/>
<ellipse cx="305.40" cy="405.90" rx="2.88" ry="2.04" fill="rgb(115,115,115)" stroke="#333" stroke-width="0.25" fill-opacity="0.9"/>
<ellipse cx="305.40" cy="405.90" rx="1.92" ry="1.36" fill="rgb(72,72,72)" stroke="#333" stroke-width="0.25" fill-opacity="0.9"/>
<ellipse cx="305.40" cy="405.90" rx="0.96" ry="0.68" fill="rgb(30,30,30)" stroke="#333" stroke-width="0.25" fill-opacity="0.9"/>
<ellipse cx="305.4" cy="405.9" rx="7" ry="5" fill="none" stroke="#999" stroke-width="0.3"/>
<line x1="297.50" y1="361.90" x2="297.50" y2="417.90" stroke="#333" stroke-width="0.8"/>
<line x1="259.40" y1="398.50" x2="315.70" y2="398.50" stroke="#888" stroke-width="0.8"/>
<text x="0.00" y="0.00" font-size="6.98" text-anchor="start" fill="#222" transform="translate(262.70 371.30) scale(1.06 1)" stroke="#222" stroke-width="0.2">2.3</text>
<text x="0.00" y="0.00" font-size="6.98" text-anchor="end" fill="#222" transform="translate(314.20 371.30) scale(1.06 1)" stroke="#222" stroke-width="0.2">0.1</text>
<text x="0.00" y="0.00" font-size="6.98" text-anchor="start" fill="#222" transform="translate(262.70 416.50) scale(1.06 1)" stroke="#222" stroke-width="0.2">3.1</text>
<text x="0.00" y="0.00" font-size="6.98" text-anchor="end" fill="#222" transform="translate(314.20 416.50) scale(1.06 1)" stroke="#222" stroke-width="0.2">94.5</text>
<line x1="265.50" y1="417.90" x2="265.50" y2="419.10" stroke="#666" stroke-width="0.4"/>
<line x1="274.50" y1="417.90" x2="274.50" y2="419.10" stroke="#666" stroke-width="0.4"/>
<line x1="283.50" y1="417.90" x2="283.50" y2="419.10" stroke="#666" stroke-width="0.4"/>
<line x1="292.50" y1="417.90" x2="292.50" y2="419.10" stroke="#666" stroke-width="0.4"/>
<line x1="301.50" y1="417.90" x2="301.50" y2="419.10" stroke="#666" stroke-width="0.4"/>
<line x1="310.50" y1="417.90" x2="310.50" y2="419.10" stroke="#666" stroke-width="0.4"/>
<rect x="266.40" y="417.40" width="3.00" height="1.20" fill="#111" stroke="none" stroke-width="0.6"/>
<rect x="141.20" y="420.00" width="56.30" height="56.00" fill="#fff" stroke="#888" stroke-width="0.7"/>
<ellipse cx="187.50" cy="464.30" rx="3.20" ry="2.00" fill="rgb(200,200,200)" stroke="#333" stroke-width="0.25" fill-opacity="0.9"/>
<ellipse cx="187.50" cy="464.30" rx="2.56" ry="1.60" fill="rgb(157,157,157)" stroke="#333" stroke-width="0.25" fill-opacity="0.9"/>
<ellipse cx="187.50" cy="464.30" rx="1.92" ry="1.20" fill="rgb(115,115,115)" stroke="#333" stroke-width="0.25" fill-opacity="0.9"/>
<ellipse cx="187.50" cy="464.30" rx="1.28" ry="0.80" fill="rgb(72,72,72)" stroke="#333" stroke-width="0.25" fill-opacity="0.9"/>
<ellipse cx="187.50" cy="464.30" rx="0.64" ry="0.40" fill="rgb(30,30,30)" stroke="#333" stroke-width="0.25" fill-opacity="0.9"/>
<circle cx="170.77" cy="469.04" r="0.3" fill="#666" fill-opacity="0.7"/>
<circle cx="167.29" cy="462.44" r="0.3" fill="#666" fill-opacity="0.7"/>
<circle cx="172.62" cy="467.33" r="0.3" fill="#666" fill-opacity="0.7"/>
<circle cx="173.35" cy="467.14" r="0.3" fill="#666" fill-opacity="0.7"/>
<circle cx="170.94" cy="464.95" r="0.3" fill="#666" fill-opacity="0.7"/>
<circle cx="167.80" cy="465.73" r="0.3" fill="#666" fill-opacity="0.7"/>
<line x1="178.50" y1="420.00" x2="178.50" y2="476.00" stroke="#333" stroke-width="0.8"/>
<line x1="141.20" y1="457.50" x2="197.50" y2="457.50" stroke="#888" stroke-width="0.8"/>
<text x="0.00" y="0.00" font-size="6.98" text-anchor="start" fill="#222" transform="translate(144.50 429.40) scale(1.06 1)" stroke="#222" stroke-width="0.2">0.02</text>
<text x="0.00" y="0.00" font-size="6.98" text-anchor="end" fill="#222" transform="translate(196.00 429.40) scale(1.06 1)" stroke="#222" stroke-width="0.2">0.0</text>
<text x="0.00" y="0.00" font-size="6.98" text-anchor="start" fill="#222" transform="translate(144.50 474.60) scale(1.06 1)" stroke="#222" stroke-width="0.2">0.17</text>
<text x="0.00" y="0.00" font-size="6.98" text-anchor="end" fill="#222" transform="translate(196.00 474.60) scale(1.06 1)" stroke="#222" stroke-width="0.2">99.8</text>
<line x1="147.50" y1="476.00" x2="147.50" y2="477.20" stroke="#666" stroke-width="0.4"/>
<line x1="156.50" y1="476.00" x2="156.50" y2="477.20" stroke="#666" stroke-width="0.4"/>
<line x1="165.50" y1="476.00" x2="165.50" y2="477.20" stroke="#666" stroke-width="0.4"/>
<line x1="174.50" y1="476.00" x2="174.50" y2="477.20" stroke="#666" stroke-width="0.4"/>
<line x1="183.50" y1="476.00" x2="183.50" y2="477.20" stroke="#666" stroke-width="0.4"/>
<line x1="192.50" y1="476.00" x2="192.50" y2="477.20" stroke="#666" stroke-width="0.4"/>
<rect x="148.20" y="475.50" width="3.00" height="1.20" fill="#111" stroke="none" stroke-width="0.6"/>
<rect x="200.30" y="420.00" width="56.30" height="56.00" fill="#fff" stroke="#888" stroke-width="0.7"/>
<circle cx="229.20" cy="451.48" r="0.33" fill="#555" fill-opacity="0.7"/>
<circle cx="231.93" cy="429.50" r="0.33" fill="#555" fill-opacity="0.7"/>
<circle cx="227.77" cy="449.41" r="0.33" fill="#555" fill-opacity="0.7"/>
<circle cx="232.62" cy="433.49" r="0.33" fill="#555" fill-opacity="0.7"/>
<circle cx="225.71" cy="454.06" r="0.33" fill="#555" fill-opacity="0.7"/>
<circle cx="225.30" cy="450.90" r="0.33" fill="#555" fill-opacity="0.7"/>
<circle cx="229.28" cy="447.68" r="0.33" fill="#555" fill-opacity="0.7"/>
<circle cx="231.91" cy="440.43" r="0.33" fill="#555" fill-opacity="0.7"/>
<circle cx="225.44" cy="456.86" r="0.33" fill="#555" fill-opacity="0.7"/>
<circle cx="229.98" cy="440.83" r="0.33" fill="#555" fill-opacity="0.7"/>
<circle cx="228.63" cy="440.02" r="0.33" fill="#555" fill-opacity="0.7"/>
<circle cx="227.89" cy="453.28" r="0.33" fill="#555" fill-opacity="0.7"/>
<circle cx="229.13" cy="448.82" r="0.33" fill="#555" fill-opacity="0.7"/>
<circle cx="229.69" cy="446.68" r="0.33" fill="#555" fill-opacity="0.7"/>
<circle cx="231.35" cy="443.44" r="0.33" fill="#555" fill-opacity="0.7"/>
<circle cx="231.28" cy="444.01" r="0.33" fill="#555" fill-opacity="0.7"/>
<circle cx="230.14" cy="434.20" r="0.33" fill="#555" fill-opacity="0.7"/>
<circle cx="230.33" cy="440.70" r="0.33" fill="#555" fill-opacity="0.7"/>
<circle cx="229.55" cy="438.08" r="0.33" fill="#555" fill-opacity="0.7"/>
<circle cx="228.97" cy="446.98" r="0.33" fill="#555" fill-opacity="0.7"/>
<circle cx="232.70" cy="438.28" r="0.33" fill="#555" fill-opacity="0.7"/>
<circle cx="227.86" cy="451.55" r="0.33" fill="#555" fill-opacity="0.7"/>
<circle cx="226.22" cy="456.72" r="0.33" fill="#555" fill-opacity="0.7"/>
<circle cx="228.94" cy="443.78" r="0.33" fill="#555" fill-opacity="0.7"/>
<circle cx="230.73" cy="441.26" r="0.33" fill="#555" fill-opacity="0.7"/>
<circle cx="229.02" cy="445.66" r="0.33" fill="#555" fill-opacity="0.7"/>
<circle cx="230.65" cy="440.47" r="0.33" fill="#555" fill-opacity="0.7"/>
<circle cx="229.13" cy="443.30" r="0.33" fill="#555" fill-opacity="0.7"/>
<circle cx="227.02" cy="444.67" r="0.33" fill="#555" fill-opacity="0.7"/>
<circle cx="228.59" cy="441.81" r="0.33" fill="#555" fill-opacity="0.7"/>
<circle cx="227.85" cy="444.26" r="0.33" fill="#555" fill-opacity="0.7"/>
<circle cx="229.63" cy="442.03" r="0.33" fill="#555" fill-opacity="0.7"/>
<circle cx="228.30" cy="444.52" r="0.33" fill="#555" fill-opacity="0.7"/>
<circle cx="235.77" cy="432.02" r="0.33" fill="#555" fill-opacity="0.7"/>
<circle cx="229.83" cy="445.84" r="0.33" fill="#555" fill-opacity="0.7"/>
<circle cx="231.83" cy="434.90" r="0.33" fill="#555" fill-opacity="0.7"/>
<circle cx="231.41" cy="446.03" r="0.33" fill="#555" fill-opacity="0.7"/>
<circle cx="231.81" cy="441.84" r="0.33" fill="#555" fill-opacity="0.7"/>
<circle cx="226.18" cy="451.28" r="0.33" fill="#555" fill-opacity="0.7"/>
<circle cx="231.29" cy="442.23" r="0.33" fill="#555" fill-opacity="0.7"/>
<circle cx="227.94" cy="448.29" r="0.33" fill="#555" fill-opacity="0.7"/>
<circle cx="230.29" cy="437.83" r="0.33" fill="#555" fill-opacity="0.7"/>
<circle cx="227.35" cy="451.08" r="0.33" fill="#555" fill-opacity="0.7"/>
<circle cx="230.39" cy="445.72" r="0.33" fill="#555" fill-opacity="0.7"/>
<circle cx="231.81" cy="443.57" r="0.33" fill="#555" fill-opacity="0.7"/>
<circle cx="223.83" cy="460.24" r="0.33" fill="#555" fill-opacity="0.7"/>
<circle cx="227.60" cy="448.03" r="0.33" fill="#555" fill-opacity="0.7"/>
<circle cx="230.11" cy="445.13" r="0.33" fill="#555" fill-opacity="0.7"/>
<circle cx="228.40" cy="449.02" r="0.33" fill="#555" fill-opacity="0.7"/>
<circle cx="231.63" cy="440.22" r="0.33" fill="#555" fill-opacity="0.7"/>
<circle cx="226.60" cy="453.76" r="0.33" fill="#555" fill-opacity="0.7"/>
<circle cx="231.55" cy="441.36" r="0.33" fill="#555" fill-opacity="0.7"/>
<circle cx="231.82" cy="437.18" r="0.33" fill="#555" fill-opacity="0.7"/>
<circle cx="228.93" cy="439.83" r="0.33" fill="#555" fill-opacity="0.7"/>
<circle cx="233.18" cy="440.42" r="0.33" fill="#555" fill-opacity="0.7"/>
<circle cx="227.07" cy="442.45" r="0.33" fill="#555" fill-opacity="0.7"/>
<circle cx="227.03" cy="448.96" r="0.33" fill="#555" fill-opacity="0.7"/>
<circle cx="232.04" cy="442.30" r="0.33" fill="#555" fill-opacity="0.7"/>
<circle cx="231.69" cy="437.90" r="0.33" fill="#555" fill-opacity="0.7"/>
<circle cx="232.85" cy="439.52" r="0.33" fill="#555" fill-opacity="0.7"/>
<circle cx="224.49" cy="460.70" r="0.33" fill="#555" fill-opacity="0.7"/>
<circle cx="227.93" cy="444.87" r="0.33" fill="#555" fill-opacity="0.7"/>
<circle cx="228.52" cy="447.32" r="0.33" fill="#555" fill-opacity="0.7"/>
<circle cx="227.03" cy="454.68" r="0.33" fill="#555" fill-opacity="0.7"/>
<circle cx="228.98" cy="448.50" r="0.33" fill="#555" fill-opacity="0.7"/>
<circle cx="227.00" cy="446.39" r="0.33" fill="#555" fill-opacity="0.7"/>
<circle cx="225.11" cy="452.00" r="0.33" fill="#555" fill-opacity="0.7"/>
<circle cx="227.42" cy="450.85" r="0.33" fill="#555" fill-opacity="0.7"/>
<circle cx="228.40" cy="445.50" r="0.33" fill="#555" fill-opacity="0.7"/>
<circle cx="228.51" cy="448.02" r="0.33" fill="#555" fill-opacity="0.7"/>
<circle cx="230.71" cy="439.98" r="0.33" fill="#555" fill-opacity="0.7"/>
<circle cx="230.47" cy="439.43" r="0.33" fill="#555" fill-opacity="0.7"/>
<circle cx="230.92" cy="435.25" r="0.33" fill="#555" fill-opacity="0.7"/>
<circle cx="223.48" cy="456.64" r="0.33" fill="#555" fill-opacity="0.7"/>
<circle cx="230.95" cy="436.06" r="0.33" fill="#555" fill-opacity="0.7"/>
<circle cx="230.35" cy="446.53" r="0.33" fill="#555" fill-opacity="0.7"/>
<circle cx="226.95" cy="451.98" r="0.33" fill="#555" fill-opacity="0.7"/>
<circle cx="234.02" cy="438.99" r="0.33" fill="#555" fill-opacity="0.7"/>
<circle cx="230.33" cy="448.72" r="0.33" fill="#555" fill-opacity="0.7"/>
<circle cx="232.35" cy="440.91" r="0.33" fill="#555" fill-opacity="0.7"/>
<circle cx="229.42" cy="452.95" r="0.33" fill="#555" fill-opacity="0.7"/>
<circle cx="223.22" cy="451.87" r="0.33" fill="#555" fill-opacity="0.7"/>
<circle cx="234.45" cy="435.04" r="0.33" fill="#555" fill-opacity="0.7"/>
<circle cx="230.44" cy="443.02" r="0.33" fill="#555" fill-opacity="0.7"/>
<circle cx="231.75" cy="438.22" r="0.33" fill="#555" fill-opacity="0.7"/>
<circle cx="228.90" cy="449.54" r="0.33" fill="#555" fill-opacity="0.7"/>
<circle cx="229.60" cy="443.59" r="0.33" fill="#555" fill-opacity="0.7"/>
<circle cx="226.01" cy="447.17" r="0.33" fill="#555" fill-opacity="0.7"/>
<circle cx="227.76" cy="443.72" r="0.33" fill="#555" fill-opacity="0.7"/>
<circle cx="222.84" cy="461.96" r="0.33" fill="#555" fill-opacity="0.7"/>
<circle cx="226.27" cy="454.84" r="0.33" fill="#555" fill-opacity="0.7"/>
<circle cx="229.63" cy="443.80" r="0.33" fill="#555" fill-opacity="0.7"/>
<circle cx="230.69" cy="444.21" r="0.33" fill="#555" fill-opacity="0.7"/>
<circle cx="233.24" cy="443.86" r="0.33" fill="#555" fill-opacity="0.7"/>
<circle cx="234.43" cy="436.50" r="0.33" fill="#555" fill-opacity="0.7"/>
<circle cx="226.91" cy="448.28" r="0.33" fill="#555" fill-opacity="0.7"/>
<circle cx="223.41" cy="457.26" r="0.33" fill="#555" fill-opacity="0.7"/>
<circle cx="230.14" cy="444.95" r="0.33" fill="#555" fill-opacity="0.7"/>
<circle cx="233.19" cy="441.26" r="0.33" fill="#555" fill-opacity="0.7"/>
<circle cx="234.17" cy="425.61" r="0.33" fill="#555" fill-opacity="0.7"/>
<circle cx="227.53" cy="441.15" r="0.33" fill="#555" fill-opacity="0.7"/>
<circle cx="225.04" cy="448.52" r="0.33" fill="#555" fill-opacity="0.7"/>
<circle cx="229.99" cy="447.69" r="0.33" fill="#555" fill-opacity="0.7"/>
<circle cx="229.18" cy="437.37" r="0.33" fill="#555" fill-opacity="0.7"/>
<circle cx="226.12" cy="448.47" r="0.33" fill="#555" fill-opacity="0.7"/>
<circle cx="231.53" cy="442.95" r="0.33" fill="#555" fill-opacity="0.7"/>
<circle cx="229.19" cy="445.72" r="0.33" fill="#555" fill-opacity="0.7"/>
<circle cx="232.58" cy="438.11" r="0.33" fill="#555" fill-opacity="0.7"/>
<circle cx="226.54" cy="449.21" r="0.33" fill="#555" fill-opacity="0.7"/>
<circle cx="229.26" cy="447.72" r="0.33" fill="#555" fill-opacity="0.7"/>
<circle cx="228.00" cy="449.51" r="0.33" fill="#555" fill-opacity="0.7"/>
<circle cx="231.57" cy="440.05" r="0.33" fill="#555" fill-opacity="0.7"/>
<circle cx="229.63" cy="452.49" r="0.33" fill="#555" fill-opacity="0.7"/>
<circle cx="229.47" cy="443.29" r="0.33" fill="#555" fill-opacity="0.7"/>
<circle cx="231.62" cy="433.97" r="0.33" fill="#555" fill-opacity="0.7"/>
<circle cx="231.23" cy="433.56" r="0.33" fill="#555" fill-opacity="0.7"/>
<circle cx="227.96" cy="446.07" r="0.33" fill="#555" fill-opacity="0.7"/>
<circle cx="232.63" cy="433.95" r="0.33" fill="#555" fill-opacity="0.7"/>
<circle cx="230.69" cy="439.55" r="0.33" fill="#555" fill-opacity="0.7"/>
<circle cx="225.63" cy="451.40" r="0.33" fill="#555" fill-opacity="0.7"/>
<ellipse cx="246.30" cy="462.80" rx="4.20" ry="3.60" fill="rgb(200,200,200)" stroke="#333" stroke-width="0.25" fill-opacity="0.9"/>
<ellipse cx="246.30" cy="462.80" rx="3.36" ry="2.88" fill="rgb(157,157,157)" stroke="#333" stroke-width="0.25" fill-opacity="0.9"/>
<ellipse cx="246.30" cy="462.80" rx="2.52" ry="2.16" fill="rgb(115,115,115)" stroke="#333" stroke-width="0.25" fill-opacity="0.9"/>
<ellipse cx="246.30" cy="462.80" rx="1.68" ry="1.44" fill="rgb(72,72,72)" stroke="#333" stroke-width="0.25" fill-opacity="0.9"/>
<ellipse cx="246.30" cy="462.80" rx="0.84" ry="0.72" fill="rgb(30,30,30)" stroke="#333" stroke-width="0.25" fill-opacity="0.9"/>
<line x1="237.50" y1="420.00" x2="237.50" y2="476.00" stroke="#333" stroke-width="0.8"/>
<line x1="200.30" y1="457.50" x2="256.60" y2="457.50" stroke="#888" stroke-width="0.8"/>
<text x="0.00" y="0.00" font-size="6.98" text-anchor="start" fill="#222" transform="translate(203.60 429.40) scale(1.06 1)" stroke="#222" stroke-width="0.2">4.05</text>
<text x="0.00" y="0.00" font-size="6.98" text-anchor="end" fill="#222" transform="translate(255.10 429.40) scale(1.06 1)" stroke="#222" stroke-width="0.2">0.38</text>
<text x="0.00" y="0.00" font-size="6.98" text-anchor="start" fill="#222" transform="translate(203.60 474.60) scale(1.06 1)" stroke="#222" stroke-width="0.2">0.45</text>
<text x="0.00" y="0.00" font-size="6.98" text-anchor="end" fill="#222" transform="translate(255.10 474.60) scale(1.06 1)" stroke="#222" stroke-width="0.2">95.1</text>
<line x1="206.50" y1="476.00" x2="206.50" y2="477.20" stroke="#666" stroke-width="0.4"/>
<line x1="215.50" y1="476.00" x2="215.50" y2="477.20" stroke="#666" stroke-width="0.4"/>
<line x1="224.50" y1="476.00" x2="224.50" y2="477.20" stroke="#666" stroke-width="0.4"/>
<line x1="233.50" y1="476.00" x2="233.50" y2="477.20" stroke="#666" stroke-width="0.4"/>
<line x1="242.50" y1="476.00" x2="242.50" y2="477.20" stroke="#666" stroke-width="0.4"/>
<line x1="251.50" y1="476.00" x2="251.50" y2="477.20" stroke="#666" stroke-width="0.4"/>
<rect x="207.30" y="475.50" width="3.00" height="1.20" fill="#111" stroke="none" stroke-width="0.6"/>
<rect x="259.40" y="420.00" width="56.30" height="56.00" fill="#fff" stroke="#888" stroke-width="0.7"/>
<ellipse cx="284.90" cy="448.00" rx="5.00" ry="12.00" fill="none" stroke="#aaa" stroke-width="0.35" transform="rotate(5 284.9 448.0)"/>
<ellipse cx="284.90" cy="448.00" rx="4.00" ry="9.60" fill="none" stroke="#aaa" stroke-width="0.35" transform="rotate(5 284.9 448.0)"/>
<ellipse cx="284.90" cy="448.00" rx="3.00" ry="7.20" fill="none" stroke="#aaa" stroke-width="0.35" transform="rotate(5 284.9 448.0)"/>
<ellipse cx="284.90" cy="448.00" rx="2.00" ry="4.80" fill="none" stroke="#aaa" stroke-width="0.35" transform="rotate(5 284.9 448.0)"/>
<circle cx="285.42" cy="447.70" r="0.3" fill="#999" fill-opacity="0.7"/>
<circle cx="284.72" cy="442.74" r="0.3" fill="#999" fill-opacity="0.7"/>
<circle cx="285.54" cy="447.86" r="0.3" fill="#999" fill-opacity="0.7"/>
<circle cx="288.75" cy="438.65" r="0.3" fill="#999" fill-opacity="0.7"/>
<circle cx="293.97" cy="418.84" r="0.3" fill="#999" fill-opacity="0.7"/>
<circle cx="285.11" cy="456.16" r="0.3" fill="#999" fill-opacity="0.7"/>
<circle cx="284.16" cy="440.95" r="0.3" fill="#999" fill-opacity="0.7"/>
<circle cx="284.69" cy="454.46" r="0.3" fill="#999" fill-opacity="0.7"/>
<circle cx="289.37" cy="433.71" r="0.3" fill="#999" fill-opacity="0.7"/>
<circle cx="285.63" cy="441.88" r="0.3" fill="#999" fill-opacity="0.7"/>
<circle cx="288.63" cy="443.10" r="0.3" fill="#999" fill-opacity="0.7"/>
<circle cx="285.35" cy="457.86" r="0.3" fill="#999" fill-opacity="0.7"/>
<circle cx="283.66" cy="449.76" r="0.3" fill="#999" fill-opacity="0.7"/>
<circle cx="281.86" cy="444.64" r="0.3" fill="#999" fill-opacity="0.7"/>
<circle cx="277.58" cy="439.20" r="0.3" fill="#999" fill-opacity="0.7"/>
<circle cx="282.72" cy="440.73" r="0.3" fill="#999" fill-opacity="0.7"/>
<circle cx="292.38" cy="425.78" r="0.3" fill="#999" fill-opacity="0.7"/>
<circle cx="276.49" cy="449.33" r="0.3" fill="#999" fill-opacity="0.7"/>
<circle cx="286.81" cy="448.58" r="0.3" fill="#999" fill-opacity="0.7"/>
<circle cx="288.78" cy="466.74" r="0.3" fill="#999" fill-opacity="0.7"/>
<circle cx="282.86" cy="434.65" r="0.3" fill="#999" fill-opacity="0.7"/>
<circle cx="283.97" cy="458.24" r="0.3" fill="#999" fill-opacity="0.7"/>
<circle cx="286.12" cy="445.31" r="0.3" fill="#999" fill-opacity="0.7"/>
<circle cx="285.71" cy="449.87" r="0.3" fill="#999" fill-opacity="0.7"/>
<circle cx="278.32" cy="451.37" r="0.3" fill="#999" fill-opacity="0.7"/>
<circle cx="281.56" cy="444.91" r="0.3" fill="#999" fill-opacity="0.7"/>
<circle cx="282.70" cy="447.93" r="0.3" fill="#999" fill-opacity="0.7"/>
<circle cx="288.00" cy="445.31" r="0.3" fill="#999" fill-opacity="0.7"/>
<circle cx="285.18" cy="455.74" r="0.3" fill="#999" fill-opacity="0.7"/>
<circle cx="286.29" cy="440.98" r="0.3" fill="#999" fill-opacity="0.7"/>
<ellipse cx="304.90" cy="463.00" rx="5.00" ry="4.00" fill="rgb(200,200,200)" stroke="#333" stroke-width="0.25" fill-opacity="0.9"/>
<ellipse cx="304.90" cy="463.00" rx="4.00" ry="3.20" fill="rgb(157,157,157)" stroke="#333" stroke-width="0.25" fill-opacity="0.9"/>
<ellipse cx="304.90" cy="463.00" rx="3.00" ry="2.40" fill="rgb(115,115,115)" stroke="#333" stroke-width="0.25" fill-opacity="0.9"/>
<ellipse cx="304.90" cy="463.00" rx="2.00" ry="1.60" fill="rgb(72,72,72)" stroke="#333" stroke-width="0.25" fill-opacity="0.9"/>
<ellipse cx="304.90" cy="463.00" rx="1.00" ry="0.80" fill="rgb(30,30,30)" stroke="#333" stroke-width="0.25" fill-opacity="0.9"/>
<ellipse cx="304.9" cy="463.0" rx="7.2" ry="5.6" fill="none" stroke="#999" stroke-width="0.3"/>
<line x1="296.50" y1="420.00" x2="296.50" y2="476.00" stroke="#333" stroke-width="0.8"/>
<line x1="259.40" y1="456.50" x2="315.70" y2="456.50" stroke="#888" stroke-width="0.8"/>
<text x="0.00" y="0.00" font-size="6.98" text-anchor="start" fill="#222" transform="translate(262.70 429.40) scale(1.06 1)" stroke="#222" stroke-width="0.2">9.5</text>
<text x="0.00" y="0.00" font-size="6.98" text-anchor="end" fill="#222" transform="translate(314.20 429.40) scale(1.06 1)" stroke="#222" stroke-width="0.2">0.4</text>
<text x="0.00" y="0.00" font-size="6.98" text-anchor="start" fill="#222" transform="translate(262.70 474.60) scale(1.06 1)" stroke="#222" stroke-width="0.2">2.5</text>
<text x="0.00" y="0.00" font-size="6.98" text-anchor="end" fill="#222" transform="translate(314.20 474.60) scale(1.06 1)" stroke="#222" stroke-width="0.2">87.7</text>
<line x1="265.50" y1="476.00" x2="265.50" y2="477.20" stroke="#666" stroke-width="0.4"/>
<line x1="274.50" y1="476.00" x2="274.50" y2="477.20" stroke="#666" stroke-width="0.4"/>
<line x1="283.50" y1="476.00" x2="283.50" y2="477.20" stroke="#666" stroke-width="0.4"/>
<line x1="292.50" y1="476.00" x2="292.50" y2="477.20" stroke="#666" stroke-width="0.4"/>
<line x1="301.50" y1="476.00" x2="301.50" y2="477.20" stroke="#666" stroke-width="0.4"/>
<line x1="310.50" y1="476.00" x2="310.50" y2="477.20" stroke="#666" stroke-width="0.4"/>
<rect x="266.40" y="475.50" width="3.00" height="1.20" fill="#111" stroke="none" stroke-width="0.6"/>
<text x="0.00" y="0.00" font-size="6.79" text-anchor="end" fill="#222" transform="translate(135.60 428.70) scale(1.06 1)" stroke="#222" stroke-width="0.2">10</text>
<text x="0.00" y="0.00" font-size="4.25" text-anchor="start" fill="#222" transform="translate(136.00 425.40) scale(1.06 1)" stroke="#222" stroke-width="0.2">5</text>
<text x="0.00" y="0.00" font-size="6.79" text-anchor="end" fill="#222" transform="translate(135.60 440.50) scale(1.06 1)" stroke="#222" stroke-width="0.2">10</text>
<text x="0.00" y="0.00" font-size="4.25" text-anchor="start" fill="#222" transform="translate(136.00 437.20) scale(1.06 1)" stroke="#222" stroke-width="0.2">4</text>
<text x="0.00" y="0.00" font-size="6.79" text-anchor="end" fill="#222" transform="translate(135.60 455.00) scale(1.06 1)" stroke="#222" stroke-width="0.2">10</text>
<text x="0.00" y="0.00" font-size="4.25" text-anchor="start" fill="#222" transform="translate(136.00 451.70) scale(1.06 1)" stroke="#222" stroke-width="0.2">3</text>
<text x="0.00" y="0.00" font-size="6.79" text-anchor="end" fill="#222" transform="translate(135.00 467.40) scale(1.06 1)" stroke="#222" stroke-width="0.2">0</text>
<text x="0.00" y="0.00" font-size="6.79" text-anchor="middle" fill="#222" transform="translate(163.40 485.80) scale(1.06 1)" stroke="#222" stroke-width="0.2">10</text>
<text x="0.00" y="0.00" font-size="4.25" text-anchor="start" fill="#222" transform="translate(168.00 482.40) scale(1.06 1)" stroke="#222" stroke-width="0.2">3</text>
<text x="0.00" y="0.00" font-size="6.79" text-anchor="middle" fill="#222" transform="translate(177.10 485.80) scale(1.06 1)" stroke="#222" stroke-width="0.2">10</text>
<text x="0.00" y="0.00" font-size="4.25" text-anchor="start" fill="#222" transform="translate(181.70 482.40) scale(1.06 1)" stroke="#222" stroke-width="0.2">4</text>
<text x="0.00" y="0.00" font-size="6.79" text-anchor="middle" fill="#222" transform="translate(190.70 485.80) scale(1.06 1)" stroke="#222" stroke-width="0.2">10</text>
<text x="0.00" y="0.00" font-size="4.25" text-anchor="start" fill="#222" transform="translate(195.30 482.40) scale(1.06 1)" stroke="#222" stroke-width="0.2">5</text>
<text x="0.00" y="0.00" font-size="6.79" text-anchor="middle" fill="#222" transform="translate(151.60 485.80) scale(1.06 1)" stroke="#222" stroke-width="0.2">0</text>
<text x="0.00" y="0.00" font-size="6.89" text-anchor="start" fill="#222" transform="translate(142.30 498.20) scale(1.06 1)" stroke="#222" stroke-width="0.2">CFSE</text>
<line x1="162.00" y1="495.50" x2="313.00" y2="495.50" stroke="#4d5a6e" stroke-width="0.95"/>
<path d="M315.8,495.5 L312.2,493.9 L312.2,497.1 Z" fill="#4d5a6e" stroke="none" stroke-width="0.6"/>
<text x="0.00" y="0.00" font-size="7.17" text-anchor="middle" fill="#2a45ee" transform="translate(328.50 379.00) scale(1.06 1)" stroke="#2a45ee" stroke-width="0.2">pDC</text>
<circle cx="328.00" cy="387.00" r="5.35" fill="#fff" stroke="#2a45ee" stroke-width="0.9"/>
<text x="328.00" y="389.45" font-size="7.14" text-anchor="middle" fill="#2a45ee">1</text>
<text x="0.00" y="0.00" font-size="7.17" text-anchor="middle" fill="#f03a3a" transform="translate(329.00 442.80) scale(1.06 1)" stroke="#f03a3a" stroke-width="0.2">icDC2</text>
<circle cx="328.00" cy="450.40" r="5.35" fill="#fff" stroke="#f03a3a" stroke-width="0.9"/>
<text x="328.00" y="452.85" font-size="7.14" text-anchor="middle" fill="#f03a3a">3</text>
<text x="344.60" y="344.60" font-size="12.6" text-anchor="start" fill="#000" font-weight="bold" stroke="#000" stroke-width="0.45">j</text>
<text x="367.5" y="411" font-size="7.8" text-anchor="middle" fill="#222" stroke="#222" stroke-width="0.15" transform="rotate(-90 367.5 411)">% CD4<tspan font-size="5" dy="-3">+</tspan><tspan dy="3"> T cells</tspan></text>
<text x="414.7" y="352.4" font-size="8.2" text-anchor="middle" fill="#222">CFSE<tspan font-size="5.1" dy="-3.2">low</tspan></text>
<text x="476" y="352.4" font-size="8.2" text-anchor="middle" fill="#222">CD25<tspan font-size="5.1" dy="-3.2">+</tspan></text>
<line x1="389.50" y1="365.80" x2="389.50" y2="452.80" stroke="#777" stroke-width="0.7"/>
<line x1="386.90" y1="452.50" x2="389.90" y2="452.50" stroke="#777" stroke-width="0.7"/>
<text x="0.00" y="0.00" font-size="6.79" text-anchor="end" fill="#333" transform="translate(383.30 455.30) scale(1.06 1)" stroke="#333" stroke-width="0.2">0</text>
<line x1="386.90" y1="409.50" x2="389.90" y2="409.50" stroke="#777" stroke-width="0.7"/>
<text x="0.00" y="0.00" font-size="6.79" text-anchor="end" fill="#333" transform="translate(383.30 412.05) scale(1.06 1)" stroke="#333" stroke-width="0.2">20</text>
<line x1="386.90" y1="366.50" x2="389.90" y2="366.50" stroke="#777" stroke-width="0.7"/>
<text x="0.00" y="0.00" font-size="6.79" text-anchor="end" fill="#333" transform="translate(383.30 368.80) scale(1.06 1)" stroke="#333" stroke-width="0.2">40</text>
<line x1="389.90" y1="452.50" x2="445.30" y2="452.50" stroke="#777" stroke-width="0.7"/>
<line x1="394.50" y1="452.50" x2="406.50" y2="452.50" stroke="#777" stroke-width="0.7"/>
<rect x="412.30" y="433.77" width="10.50" height="19.03" fill="#0030fe" stroke="#222" stroke-width="0.4"/>
<rect x="428.70" y="412.14" width="10.80" height="40.66" fill="#fe2a00" stroke="#222" stroke-width="0.4"/>
<path d="M400.50,451.72 L417.55,411.71 L434.10,380.36" fill="none" stroke="#111" stroke-width="0.55"/>
<circle cx="400.50" cy="451.72" r="1.30" fill="#000" stroke="none" stroke-width="0.6"/>
<circle cx="417.55" cy="411.71" r="1.30" fill="#000" stroke="none" stroke-width="0.6"/>
<circle cx="434.10" cy="380.36" r="1.30" fill="#000" stroke="none" stroke-width="0.6"/>
<path d="M400.50,452.15 L417.55,417.12 L434.10,392.25" fill="none" stroke="#111" stroke-width="0.55"/>
<circle cx="400.50" cy="452.15" r="1.30" fill="#000" stroke="none" stroke-width="0.6"/>
<circle cx="417.55" cy="417.12" r="1.30" fill="#000" stroke="none" stroke-width="0.6"/>
<circle cx="434.10" cy="392.25" r="1.30" fill="#000" stroke="none" stroke-width="0.6"/>
<path d="M400.50,452.37 L417.55,440.91 L434.10,417.12" fill="none" stroke="#111" stroke-width="0.55"/>
<circle cx="400.50" cy="452.37" r="1.30" fill="#000" stroke="none" stroke-width="0.6"/>
<circle cx="417.55" cy="440.91" r="1.30" fill="#000" stroke="none" stroke-width="0.6"/>
<circle cx="434.10" cy="417.12" r="1.30" fill="#000" stroke="none" stroke-width="0.6"/>
<path d="M400.50,452.58 L417.55,446.31 L434.10,426.85" fill="none" stroke="#111" stroke-width="0.55"/>
<circle cx="400.50" cy="452.58" r="1.30" fill="#000" stroke="none" stroke-width="0.6"/>
<circle cx="417.55" cy="446.31" r="1.30" fill="#000" stroke="none" stroke-width="0.6"/>
<circle cx="434.10" cy="426.85" r="1.30" fill="#000" stroke="none" stroke-width="0.6"/>
<path d="M400.50,451.94 L417.55,451.07 L434.10,441.99" fill="none" stroke="#111" stroke-width="0.55"/>
<circle cx="400.50" cy="451.94" r="1.30" fill="#000" stroke="none" stroke-width="0.6"/>
<circle cx="417.55" cy="451.07" r="1.30" fill="#000" stroke="none" stroke-width="0.6"/>
<circle cx="434.10" cy="441.99" r="1.30" fill="#000" stroke="none" stroke-width="0.6"/>
<path d="M399.20,368.10 L399.20,365.90 L431.60,365.90 L431.60,368.10" fill="none" stroke="#777" stroke-width="0.6"/>
<text x="0.00" y="0.00" font-size="6.79" text-anchor="middle" fill="#333" transform="translate(415.40 364.70) scale(1.06 1)" stroke="#333" stroke-width="0.2">0.0481</text>
<path d="M417.00,378.90 L417.00,376.70 L431.60,376.70 L431.60,378.90" fill="none" stroke="#777" stroke-width="0.6"/>
<text x="0.00" y="0.00" font-size="6.79" text-anchor="middle" fill="#333" transform="translate(424.30 375.50) scale(1.06 1)" stroke="#333" stroke-width="0.2">0.0368</text>
<circle cx="417.60" cy="460.80" r="5.35" fill="#fff" stroke="#2a45ee" stroke-width="0.9"/>
<text x="417.60" y="463.25" font-size="7.14" text-anchor="middle" fill="#2a45ee">1</text>
<circle cx="433.60" cy="460.80" r="5.35" fill="#fff" stroke="#f03a3a" stroke-width="0.9"/>
<text x="433.60" y="463.25" font-size="7.14" text-anchor="middle" fill="#f03a3a">3</text>
<text x="0.00" y="0.00" font-size="6.42" text-anchor="end" fill="#222" transform="translate(400.50 460.00) rotate(-45) scale(1.06 1)" stroke="#222" stroke-width="0.2">T cells</text>
<line x1="450.50" y1="365.80" x2="450.50" y2="452.80" stroke="#777" stroke-width="0.7"/>
<line x1="447.60" y1="452.50" x2="450.60" y2="452.50" stroke="#777" stroke-width="0.7"/>
<line x1="447.60" y1="409.50" x2="450.60" y2="409.50" stroke="#777" stroke-width="0.7"/>
<line x1="447.60" y1="366.50" x2="450.60" y2="366.50" stroke="#777" stroke-width="0.7"/>
<line x1="450.60" y1="452.50" x2="506.60" y2="452.50" stroke="#777" stroke-width="0.7"/>
<rect x="459.90" y="439.39" width="15.20" height="13.41" fill="#0030fe" stroke="#222" stroke-width="0.4"/>
<rect x="483.30" y="422.96" width="15.20" height="29.84" fill="#fe2a00" stroke="#222" stroke-width="0.4"/>
<line x1="467.50" y1="416.04" x2="490.90" y2="388.36" stroke="#111" stroke-width="0.55"/>
<circle cx="467.50" cy="416.04" r="1.30" fill="#000" stroke="none" stroke-width="0.6"/>
<circle cx="490.90" cy="388.36" r="1.30" fill="#000" stroke="none" stroke-width="0.6"/>
<line x1="467.50" y1="430.09" x2="490.90" y2="398.31" stroke="#111" stroke-width="0.55"/>
<circle cx="467.50" cy="430.09" r="1.30" fill="#000" stroke="none" stroke-width="0.6"/>
<circle cx="490.90" cy="398.31" r="1.30" fill="#000" stroke="none" stroke-width="0.6"/>
<line x1="467.50" y1="447.39" x2="490.90" y2="432.69" stroke="#111" stroke-width="0.55"/>
<circle cx="467.50" cy="447.39" r="1.30" fill="#000" stroke="none" stroke-width="0.6"/>
<circle cx="490.90" cy="432.69" r="1.30" fill="#000" stroke="none" stroke-width="0.6"/>
<line x1="467.50" y1="450.64" x2="490.90" y2="445.23" stroke="#111" stroke-width="0.55"/>
<circle cx="467.50" cy="450.64" r="1.30" fill="#000" stroke="none" stroke-width="0.6"/>
<circle cx="490.90" cy="445.23" r="1.30" fill="#000" stroke="none" stroke-width="0.6"/>
<line x1="467.50" y1="452.37" x2="490.90" y2="449.99" stroke="#111" stroke-width="0.55"/>
<circle cx="467.50" cy="452.37" r="1.30" fill="#000" stroke="none" stroke-width="0.6"/>
<circle cx="490.90" cy="449.99" r="1.30" fill="#000" stroke="none" stroke-width="0.6"/>
<path d="M462.30,374.50 L462.30,372.30 L493.50,372.30 L493.50,374.50" fill="none" stroke="#777" stroke-width="0.6"/>
<text x="0.00" y="0.00" font-size="6.79" text-anchor="middle" fill="#333" transform="translate(477.90 371.10) scale(1.06 1)" stroke="#333" stroke-width="0.2">0.0478</text>
<circle cx="467.80" cy="460.80" r="5.35" fill="#fff" stroke="#2a45ee" stroke-width="0.9"/>
<text x="467.80" y="463.25" font-size="7.14" text-anchor="middle" fill="#2a45ee">1</text>
<circle cx="490.60" cy="460.80" r="5.35" fill="#fff" stroke="#f03a3a" stroke-width="0.9"/>
<text x="490.60" y="463.25" font-size="7.14" text-anchor="middle" fill="#f03a3a">3</text>
<path d="M406.5,466.8 L406.5,469 L501.7,469 L501.7,466.8" fill="none" stroke="#777" stroke-width="0.6"/>
<text x="0.00" y="0.00" font-size="7.74" text-anchor="middle" fill="#222" transform="translate(454.00 479.90) scale(1.06 1)" stroke="#222" stroke-width="0.2">T cells + Ag-loaded DCs</text>
<text x="533.80" y="345.80" font-size="12.6" text-anchor="start" fill="#000" font-weight="bold" stroke="#000" stroke-width="0.45">k</text>
<text x="541.5" y="411" font-size="7.8" text-anchor="middle" fill="#222" stroke="#222" stroke-width="0.15" transform="rotate(-90 541.5 411)">% CD4<tspan font-size="5" dy="-3">+</tspan><tspan dy="3"> T cells</tspan></text>
<text x="587.2" y="352.8" font-size="8.2" text-anchor="middle" fill="#222">CFSE<tspan font-size="5.1" dy="-3.2">low</tspan></text>
<text x="649.3" y="352.8" font-size="8.2" text-anchor="middle" fill="#222">CD25<tspan font-size="5.1" dy="-3.2">+</tspan></text>
<line x1="561.50" y1="366.30" x2="561.50" y2="452.20" stroke="#777" stroke-width="0.7"/>
<line x1="558.40" y1="452.50" x2="561.40" y2="452.50" stroke="#777" stroke-width="0.7"/>
<text x="0.00" y="0.00" font-size="6.79" text-anchor="end" fill="#333" transform="translate(554.80 454.70) scale(1.06 1)" stroke="#333" stroke-width="0.2">0</text>
<line x1="558.40" y1="409.50" x2="561.40" y2="409.50" stroke="#777" stroke-width="0.7"/>
<text x="0.00" y="0.00" font-size="6.79" text-anchor="end" fill="#333" transform="translate(554.80 412.00) scale(1.06 1)" stroke="#333" stroke-width="0.2">20</text>
<line x1="558.40" y1="366.50" x2="561.40" y2="366.50" stroke="#777" stroke-width="0.7"/>
<text x="0.00" y="0.00" font-size="6.79" text-anchor="end" fill="#333" transform="translate(554.80 369.30) scale(1.06 1)" stroke="#333" stroke-width="0.2">40</text>
<line x1="561.40" y1="452.50" x2="616.00" y2="452.50" stroke="#777" stroke-width="0.7"/>
<rect x="584.50" y="450.92" width="11.50" height="1.28" fill="#0030fe" stroke="#222" stroke-width="0.3"/>
<rect x="601.60" y="421.67" width="10.90" height="30.53" fill="#fe2a00" stroke="#222" stroke-width="0.4"/>
<path d="M573.60,451.13 L590.30,450.49 L607.00,413.34" fill="none" stroke="#111" stroke-width="0.55"/>
<circle cx="573.60" cy="451.13" r="1.30" fill="#000" stroke="none" stroke-width="0.6"/>
<circle cx="590.30" cy="450.49" r="1.30" fill="#000" stroke="none" stroke-width="0.6"/>
<circle cx="607.00" cy="413.34" r="1.30" fill="#000" stroke="none" stroke-width="0.6"/>
<path d="M573.60,451.35 L590.30,450.92 L607.00,424.87" fill="none" stroke="#111" stroke-width="0.55"/>
<circle cx="573.60" cy="451.35" r="1.30" fill="#000" stroke="none" stroke-width="0.6"/>
<circle cx="590.30" cy="450.92" r="1.30" fill="#000" stroke="none" stroke-width="0.6"/>
<circle cx="607.00" cy="424.87" r="1.30" fill="#000" stroke="none" stroke-width="0.6"/>
<path d="M573.60,451.56 L590.30,451.13 L607.00,426.58" fill="none" stroke="#111" stroke-width="0.55"/>
<circle cx="573.60" cy="451.56" r="1.30" fill="#000" stroke="none" stroke-width="0.6"/>
<circle cx="590.30" cy="451.13" r="1.30" fill="#000" stroke="none" stroke-width="0.6"/>
<circle cx="607.00" cy="426.58" r="1.30" fill="#000" stroke="none" stroke-width="0.6"/>
<path d="M573.60,451.35 L590.30,451.56 L607.00,427.65" fill="none" stroke="#111" stroke-width="0.55"/>
<circle cx="573.60" cy="451.35" r="1.30" fill="#000" stroke="none" stroke-width="0.6"/>
<circle cx="590.30" cy="451.56" r="1.30" fill="#000" stroke="none" stroke-width="0.6"/>
<circle cx="607.00" cy="427.65" r="1.30" fill="#000" stroke="none" stroke-width="0.6"/>
<path d="M571.20,374.80 L571.20,372.60 L603.70,372.60 L603.70,374.80" fill="none" stroke="#777" stroke-width="0.6"/>
<text x="0.00" y="0.00" font-size="6.79" text-anchor="middle" fill="#333" transform="translate(587.45 371.40) scale(1.06 1)" stroke="#333" stroke-width="0.2">0.0319</text>
<path d="M590.50,386.20 L590.50,384.00 L603.70,384.00 L603.70,386.20" fill="none" stroke="#777" stroke-width="0.6"/>
<text x="0.00" y="0.00" font-size="6.79" text-anchor="middle" fill="#333" transform="translate(597.10 382.80) scale(1.06 1)" stroke="#333" stroke-width="0.2">0.0274</text>
<circle cx="590.50" cy="461.80" r="5.89" fill="#fff" stroke="#222" stroke-width="0.9"/>
<text x="590.50" y="464.32" font-size="7.35" text-anchor="middle" fill="#222">4</text>
<circle cx="608.20" cy="461.80" r="5.89" fill="#fff" stroke="#222" stroke-width="0.9"/>
<text x="608.20" y="464.32" font-size="7.35" text-anchor="middle" fill="#222">6</text>
<text x="0.00" y="0.00" font-size="6.42" text-anchor="end" fill="#222" transform="translate(575.00 460.00) rotate(-45) scale(1.06 1)" stroke="#222" stroke-width="0.2">T cells</text>
<line x1="620.50" y1="366.30" x2="620.50" y2="452.20" stroke="#777" stroke-width="0.7"/>
<line x1="617.90" y1="452.50" x2="620.90" y2="452.50" stroke="#777" stroke-width="0.7"/>
<line x1="617.90" y1="409.50" x2="620.90" y2="409.50" stroke="#777" stroke-width="0.7"/>
<line x1="617.90" y1="366.50" x2="620.90" y2="366.50" stroke="#777" stroke-width="0.7"/>
<line x1="620.90" y1="452.50" x2="677.00" y2="452.50" stroke="#777" stroke-width="0.7"/>
<rect x="629.50" y="451.77" width="18.00" height="0.43" fill="#0030fe" stroke="#222" stroke-width="0.3"/>
<rect x="654.30" y="421.88" width="15.20" height="30.32" fill="#fe2a00" stroke="#222" stroke-width="0.4"/>
<line x1="639.10" y1="451.56" x2="661.40" y2="414.20" stroke="#111" stroke-width="0.55"/>
<circle cx="639.10" cy="451.56" r="1.30" fill="#000" stroke="none" stroke-width="0.6"/>
<circle cx="661.40" cy="414.20" r="1.30" fill="#000" stroke="none" stroke-width="0.6"/>
<line x1="639.10" y1="451.77" x2="661.40" y2="425.94" stroke="#111" stroke-width="0.55"/>
<circle cx="639.10" cy="451.77" r="1.30" fill="#000" stroke="none" stroke-width="0.6"/>
<circle cx="661.40" cy="425.94" r="1.30" fill="#000" stroke="none" stroke-width="0.6"/>
<line x1="639.10" y1="451.99" x2="661.40" y2="427.65" stroke="#111" stroke-width="0.55"/>
<circle cx="639.10" cy="451.99" r="1.30" fill="#000" stroke="none" stroke-width="0.6"/>
<circle cx="661.40" cy="427.65" r="1.30" fill="#000" stroke="none" stroke-width="0.6"/>
<line x1="639.10" y1="451.77" x2="661.40" y2="426.58" stroke="#111" stroke-width="0.55"/>
<circle cx="639.10" cy="451.77" r="1.30" fill="#000" stroke="none" stroke-width="0.6"/>
<circle cx="661.40" cy="426.58" r="1.30" fill="#000" stroke="none" stroke-width="0.6"/>
<path d="M634.60,377.90 L634.60,375.70 L666.50,375.70 L666.50,377.90" fill="none" stroke="#777" stroke-width="0.6"/>
<text x="0.00" y="0.00" font-size="6.79" text-anchor="middle" fill="#333" transform="translate(650.55 374.50) scale(1.06 1)" stroke="#333" stroke-width="0.2">0.0158</text>
<circle cx="639.10" cy="461.80" r="5.89" fill="#fff" stroke="#222" stroke-width="0.9"/>
<text x="639.10" y="464.32" font-size="7.35" text-anchor="middle" fill="#222">4</text>
<circle cx="661.20" cy="461.80" r="5.89" fill="#fff" stroke="#222" stroke-width="0.9"/>
<text x="661.20" y="464.32" font-size="7.35" text-anchor="middle" fill="#222">6</text>
<path d="M580.4,467.7 L580.4,469.9 L675.1,469.9 L675.1,467.7" fill="none" stroke="#777" stroke-width="0.6"/>
<text x="0.00" y="0.00" font-size="7.74" text-anchor="middle" fill="#222" transform="translate(627.70 480.20) scale(1.06 1)" stroke="#222" stroke-width="0.2">T cells + Ag-loaded DCs</text>
<path d="M2.2,513.0 L2.2,519.6 Q2.2,521.7 4.6,521.7" fill="none" stroke="#000" stroke-width="2.5"/>
<rect x="24.10" y="541.00" width="68.50" height="68.20" fill="#fff" stroke="#888" stroke-width="0.7"/>
<path d="M37.00,575.20 L37.00,575.20 C37.24,574.56 38.02,574.40 38.50,571.20 C38.98,568.00 39.60,559.04 40.00,555.20 C40.40,551.36 40.68,547.84 41.00,547.20 C41.32,546.56 41.68,548.64 42.00,551.20 C42.32,553.76 42.52,560.00 43.00,563.20 C43.48,566.40 44.20,569.52 45.00,571.20 C45.80,572.88 46.88,573.16 48.00,573.70 C49.12,574.24 50.08,574.52 52.00,574.60 C53.92,574.68 57.76,574.46 60.00,574.20 C62.24,573.94 64.40,573.24 66.00,573.00 C67.60,572.76 68.72,572.67 70.00,572.70 C71.28,572.73 72.72,572.93 74.00,573.20 C75.28,573.47 76.72,574.08 78.00,574.40 C79.28,574.72 81.36,575.07 82.00,575.20 L82.00,575.20 Z" fill="#7a7af0" stroke="#5555dd" stroke-width="0.4" fill-opacity="1.0"/>
<line x1="24.10" y1="575.50" x2="92.60" y2="575.50" stroke="#9a9aee" stroke-width="0.6"/>
<path d="M37.00,592.60 L37.00,592.60 C37.24,591.96 38.02,590.52 38.50,588.60 C38.98,586.68 39.60,582.52 40.00,580.60 C40.40,578.68 40.68,577.08 41.00,576.60 C41.32,576.12 41.52,576.96 42.00,577.60 C42.48,578.24 43.20,579.32 44.00,580.60 C44.80,581.88 46.04,584.64 47.00,585.60 C47.96,586.56 49.04,586.60 50.00,586.60 C50.96,586.60 52.04,585.60 53.00,585.60 C53.96,585.60 55.04,586.28 56.00,586.60 C56.96,586.92 58.04,587.28 59.00,587.60 C59.96,587.92 61.20,588.68 62.00,588.60 C62.80,588.52 63.36,587.42 64.00,587.10 C64.64,586.78 65.36,586.36 66.00,586.60 C66.64,586.84 67.36,587.88 68.00,588.60 C68.64,589.32 69.04,590.46 70.00,591.10 C70.96,591.74 73.36,592.36 74.00,592.60 L74.00,592.60 Z" fill="#70ecec" stroke="#40d0d0" stroke-width="0.4" fill-opacity="1.0"/>
<line x1="24.10" y1="592.50" x2="92.60" y2="592.50" stroke="#a0eeee" stroke-width="0.6"/>
<path d="M37.00,609.20 L37.00,609.20 C37.24,608.40 38.02,606.44 38.50,604.20 C38.98,601.96 39.52,596.96 40.00,595.20 C40.48,593.44 41.02,593.04 41.50,593.20 C41.98,593.36 42.44,594.92 43.00,596.20 C43.56,597.48 44.20,600.00 45.00,601.20 C45.80,602.40 46.88,603.22 48.00,603.70 C49.12,604.18 50.72,604.20 52.00,604.20 C53.28,604.20 54.72,603.86 56.00,603.70 C57.28,603.54 58.72,603.44 60.00,603.20 C61.28,602.96 62.88,602.52 64.00,602.20 C65.12,601.88 66.04,601.28 67.00,601.20 C67.96,601.12 69.04,601.30 70.00,601.70 C70.96,602.10 72.04,602.98 73.00,603.70 C73.96,604.42 74.88,605.40 76.00,606.20 C77.12,607.00 78.72,608.22 80.00,608.70 C81.28,609.18 83.36,609.12 84.00,609.20 L84.00,609.20 Z" fill="#f47a7a" stroke="#e05050" stroke-width="0.4" fill-opacity="1.0"/>
<line x1="24.10" y1="609.50" x2="92.60" y2="609.50" stroke="#f0a0a0" stroke-width="0.6"/>
<line x1="51.50" y1="541.00" x2="51.50" y2="609.20" stroke="#333" stroke-width="0.6" stroke-dasharray="1.4,1.2"/>
<text x="0.00" y="0.00" font-size="6.98" text-anchor="end" fill="#222" transform="translate(91.60 567.50) scale(1.06 1)" stroke="#222" stroke-width="0.2">29.2%</text>
<text x="0.00" y="0.00" font-size="6.98" text-anchor="end" fill="#222" transform="translate(91.60 584.90) scale(1.06 1)" stroke="#222" stroke-width="0.2">39.8%</text>
<text x="0.00" y="0.00" font-size="6.98" text-anchor="end" fill="#222" transform="translate(91.60 602.30) scale(1.06 1)" stroke="#222" stroke-width="0.2">56.0%</text>
<line x1="28.50" y1="609.20" x2="28.50" y2="610.40" stroke="#555" stroke-width="0.5"/>
<line x1="33.50" y1="609.20" x2="33.50" y2="610.40" stroke="#555" stroke-width="0.5"/>
<line x1="39.50" y1="609.20" x2="39.50" y2="610.40" stroke="#555" stroke-width="0.5"/>
<line x1="44.50" y1="609.20" x2="44.50" y2="610.40" stroke="#555" stroke-width="0.5"/>
<line x1="50.50" y1="609.20" x2="50.50" y2="610.40" stroke="#555" stroke-width="0.5"/>
<line x1="55.50" y1="609.20" x2="55.50" y2="610.40" stroke="#555" stroke-width="0.5"/>
<line x1="61.50" y1="609.20" x2="61.50" y2="610.40" stroke="#555" stroke-width="0.5"/>
<line x1="66.50" y1="609.20" x2="66.50" y2="610.40" stroke="#555" stroke-width="0.5"/>
<line x1="72.50" y1="609.20" x2="72.50" y2="610.40" stroke="#555" stroke-width="0.5"/>
<line x1="77.50" y1="609.20" x2="77.50" y2="610.40" stroke="#555" stroke-width="0.5"/>
<line x1="83.50" y1="609.20" x2="83.50" y2="610.40" stroke="#555" stroke-width="0.5"/>
<line x1="88.50" y1="609.20" x2="88.50" y2="610.40" stroke="#555" stroke-width="0.5"/>
<rect x="99.30" y="541.00" width="68.20" height="68.20" fill="#fff" stroke="#888" stroke-width="0.7"/>
<path d="M112.00,575.20 L112.00,575.20 C112.24,574.40 112.94,572.92 113.50,570.20 C114.06,567.48 115.02,560.60 115.50,558.20 C115.98,555.80 116.10,554.72 116.50,555.20 C116.90,555.68 117.44,558.80 118.00,561.20 C118.56,563.60 119.20,568.20 120.00,570.20 C120.80,572.20 121.72,573.06 123.00,573.70 C124.28,574.34 126.56,574.28 128.00,574.20 C129.44,574.12 130.72,573.84 132.00,573.20 C133.28,572.56 134.88,571.32 136.00,570.20 C137.12,569.08 138.20,567.64 139.00,566.20 C139.80,564.76 140.44,562.80 141.00,561.20 C141.56,559.60 142.02,556.84 142.50,556.20 C142.98,555.56 143.44,555.76 144.00,557.20 C144.56,558.64 145.36,562.64 146.00,565.20 C146.64,567.76 147.36,571.60 148.00,573.20 C148.64,574.80 149.68,574.88 150.00,575.20 L150.00,575.20 Z" fill="#7a7af0" stroke="#5555dd" stroke-width="0.4" fill-opacity="1.0"/>
<line x1="99.30" y1="575.50" x2="167.50" y2="575.50" stroke="#9a9aee" stroke-width="0.6"/>
<path d="M112.00,592.60 L112.00,592.60 C112.24,591.80 112.94,589.84 113.50,587.60 C114.06,585.36 114.94,580.36 115.50,578.60 C116.06,576.84 116.52,576.28 117.00,576.60 C117.48,576.92 118.02,579.16 118.50,580.60 C118.98,582.04 119.12,584.80 120.00,585.60 C120.88,586.40 122.88,585.92 124.00,585.60 C125.12,585.28 126.04,583.76 127.00,583.60 C127.96,583.44 129.04,584.76 130.00,584.60 C130.96,584.44 132.04,583.24 133.00,582.60 C133.96,581.96 135.04,580.60 136.00,580.60 C136.96,580.60 138.20,582.12 139.00,582.60 C139.80,583.08 140.36,583.60 141.00,583.60 C141.64,583.60 142.36,582.12 143.00,582.60 C143.64,583.08 144.36,585.16 145.00,586.60 C145.64,588.04 146.36,590.64 147.00,591.60 C147.64,592.56 148.68,592.44 149.00,592.60 L149.00,592.60 Z" fill="#70ecec" stroke="#40d0d0" stroke-width="0.4" fill-opacity="1.0"/>
<line x1="99.30" y1="592.50" x2="167.50" y2="592.50" stroke="#a0eeee" stroke-width="0.6"/>
<path d="M114.00,609.20 L114.00,609.20 C114.24,608.24 115.02,605.60 115.50,603.20 C115.98,600.80 116.52,595.96 117.00,594.20 C117.48,592.44 118.02,591.88 118.50,592.20 C118.98,592.52 119.44,594.28 120.00,596.20 C120.56,598.12 121.04,602.44 122.00,604.20 C122.96,605.96 124.40,606.64 126.00,607.20 C127.60,607.76 130.08,607.62 132.00,607.70 C133.92,607.78 136.40,607.62 138.00,607.70 C139.60,607.78 140.72,608.04 142.00,608.20 C143.28,608.36 144.72,608.54 146.00,608.70 C147.28,608.86 149.36,609.12 150.00,609.20 L150.00,609.20 Z" fill="#f47a7a" stroke="#e05050" stroke-width="0.4" fill-opacity="1.0"/>
<line x1="99.30" y1="609.50" x2="167.50" y2="609.50" stroke="#f0a0a0" stroke-width="0.6"/>
<line x1="126.50" y1="541.00" x2="126.50" y2="609.20" stroke="#333" stroke-width="0.6" stroke-dasharray="1.4,1.2"/>
<text x="0.00" y="0.00" font-size="6.98" text-anchor="end" fill="#222" transform="translate(166.50 567.50) scale(1.06 1)" stroke="#222" stroke-width="0.2">66.9%</text>
<text x="0.00" y="0.00" font-size="6.98" text-anchor="end" fill="#222" transform="translate(166.50 584.90) scale(1.06 1)" stroke="#222" stroke-width="0.2">61.3%</text>
<text x="0.00" y="0.00" font-size="6.98" text-anchor="end" fill="#222" transform="translate(166.50 602.30) scale(1.06 1)" stroke="#222" stroke-width="0.2">31.9%</text>
<line x1="103.50" y1="609.20" x2="103.50" y2="610.40" stroke="#555" stroke-width="0.5"/>
<line x1="108.50" y1="609.20" x2="108.50" y2="610.40" stroke="#555" stroke-width="0.5"/>
<line x1="114.50" y1="609.20" x2="114.50" y2="610.40" stroke="#555" stroke-width="0.5"/>
<line x1="119.50" y1="609.20" x2="119.50" y2="610.40" stroke="#555" stroke-width="0.5"/>
<line x1="125.50" y1="609.20" x2="125.50" y2="610.40" stroke="#555" stroke-width="0.5"/>
<line x1="130.50" y1="609.20" x2="130.50" y2="610.40" stroke="#555" stroke-width="0.5"/>
<line x1="136.50" y1="609.20" x2="136.50" y2="610.40" stroke="#555" stroke-width="0.5"/>
<line x1="141.50" y1="609.20" x2="141.50" y2="610.40" stroke="#555" stroke-width="0.5"/>
<line x1="147.50" y1="609.20" x2="147.50" y2="610.40" stroke="#555" stroke-width="0.5"/>
<line x1="152.50" y1="609.20" x2="152.50" y2="610.40" stroke="#555" stroke-width="0.5"/>
<line x1="158.50" y1="609.20" x2="158.50" y2="610.40" stroke="#555" stroke-width="0.5"/>
<line x1="163.50" y1="609.20" x2="163.50" y2="610.40" stroke="#555" stroke-width="0.5"/>
<circle cx="16.90" cy="565.00" r="5.99" fill="#fff" stroke="#2a45ee" stroke-width="0.9"/>
<text x="16.90" y="567.59" font-size="7.56" text-anchor="middle" fill="#2a45ee">1</text>
<circle cx="16.90" cy="585.10" r="5.99" fill="#fff" stroke="#3ee0ee" stroke-width="0.9"/>
<text x="16.90" y="587.69" font-size="7.56" text-anchor="middle" fill="#3ee0ee">2</text>
<circle cx="16.90" cy="603.00" r="5.99" fill="#fff" stroke="#f03a3a" stroke-width="0.9"/>
<text x="16.90" y="605.59" font-size="7.56" text-anchor="middle" fill="#f03a3a">3</text>
<text x="0.00" y="0.00" font-size="6.6" text-anchor="middle" fill="#222" transform="translate(40.60 619.30) scale(1.06 1)" stroke="#222" stroke-width="0.2">0</text>
<text x="0.00" y="0.00" font-size="6.6" text-anchor="middle" fill="#222" transform="translate(49.30 619.30) scale(1.06 1)" stroke="#222" stroke-width="0.2">10</text>
<text x="0.00" y="0.00" font-size="4.25" text-anchor="middle" fill="#222" transform="translate(53.80 615.80) scale(1.06 1)" stroke="#222" stroke-width="0.2">3</text>
<text x="0.00" y="0.00" font-size="6.6" text-anchor="middle" fill="#222" transform="translate(66.80 619.30) scale(1.06 1)" stroke="#222" stroke-width="0.2">10</text>
<text x="0.00" y="0.00" font-size="4.25" text-anchor="middle" fill="#222" transform="translate(71.30 615.80) scale(1.06 1)" stroke="#222" stroke-width="0.2">4</text>
<text x="0.00" y="0.00" font-size="6.6" text-anchor="middle" fill="#222" transform="translate(83.30 619.30) scale(1.06 1)" stroke="#222" stroke-width="0.2">10</text>
<text x="0.00" y="0.00" font-size="4.25" text-anchor="middle" fill="#222" transform="translate(87.80 615.80) scale(1.06 1)" stroke="#222" stroke-width="0.2">5</text>
<text x="0.00" y="0.00" font-size="7.74" text-anchor="start" fill="#222" transform="translate(24.80 631.80) scale(1.06 1)" stroke="#222" stroke-width="0.2">CCR7-</text>
<text x="0.00" y="0.00" font-size="7.74" text-anchor="start" fill="#222" transform="translate(24.80 641.80) scale(1.06 1)" stroke="#222" stroke-width="0.2">PE-Cy7</text>
<line x1="50.90" y1="629.50" x2="89.80" y2="629.50" stroke="#4d5a6e" stroke-width="0.95"/>
<path d="M91.8,629 L88.6,627.4 L88.6,630.6 Z" fill="#4d5a6e" stroke="none" stroke-width="0.6"/>
<text x="0.00" y="0.00" font-size="7.74" text-anchor="start" fill="#222" transform="translate(100.00 631.80) scale(1.06 1)" stroke="#222" stroke-width="0.2">CCR2-</text>
<text x="0.00" y="0.00" font-size="7.74" text-anchor="start" fill="#222" transform="translate(100.00 641.80) scale(1.06 1)" stroke="#222" stroke-width="0.2">APC</text>
<line x1="126.00" y1="629.50" x2="164.80" y2="629.50" stroke="#4d5a6e" stroke-width="0.95"/>
<path d="M166.8,629 L163.60000000000002,627.4 L163.60000000000002,630.6 Z" fill="#4d5a6e" stroke="none" stroke-width="0.6"/>
<text x="0.00" y="0.00" font-size="7.74" text-anchor="middle" fill="#222" transform="translate(234.00 531.90) scale(1.06 1)" stroke="#222" stroke-width="0.2">CCR7</text>
<text x="0.00" y="0.00" font-size="7.74" text-anchor="middle" fill="#222" transform="translate(291.60 531.90) scale(1.06 1)" stroke="#222" stroke-width="0.2">CCR2</text>
<text x="183.0" y="588" font-size="7.8" text-anchor="middle" fill="#222" stroke="#222" stroke-width="0.15" transform="rotate(-90 183.0 588)">% positive cells</text>
<line x1="207.50" y1="545.90" x2="207.50" y2="628.30" stroke="#777" stroke-width="0.7"/>
<line x1="204.00" y1="628.50" x2="207.20" y2="628.50" stroke="#777" stroke-width="0.7"/>
<text x="0.00" y="0.00" font-size="6.79" text-anchor="end" fill="#333" transform="translate(200.40 630.80) scale(1.06 1)" stroke="#333" stroke-width="0.2">0</text>
<line x1="204.00" y1="587.50" x2="207.20" y2="587.50" stroke="#777" stroke-width="0.7"/>
<text x="0.00" y="0.00" font-size="6.79" text-anchor="end" fill="#333" transform="translate(200.40 589.85) scale(1.06 1)" stroke="#333" stroke-width="0.2">50</text>
<line x1="204.00" y1="546.50" x2="207.20" y2="546.50" stroke="#777" stroke-width="0.7"/>
<text x="0.00" y="0.00" font-size="6.79" text-anchor="end" fill="#333" transform="translate(200.40 548.90) scale(1.06 1)" stroke="#333" stroke-width="0.2">100</text>
<line x1="207.20" y1="628.50" x2="259.90" y2="628.50" stroke="#777" stroke-width="0.7"/>
<rect x="212.70" y="604.55" width="10.70" height="23.75" fill="#fff" stroke="#6070f4" stroke-width="0.65"/>
<line x1="218.50" y1="614.38" x2="218.50" y2="594.72" stroke="#6070f4" stroke-width="0.6"/>
<line x1="215.55" y1="594.50" x2="220.55" y2="594.50" stroke="#6070f4" stroke-width="0.6"/>
<circle cx="215.70" cy="589.81" r="1.35" fill="#000" stroke="none" stroke-width="0.6"/>
<circle cx="219.38" cy="595.54" r="1.35" fill="#000" stroke="none" stroke-width="0.6"/>
<circle cx="218.99" cy="597.18" r="1.35" fill="#000" stroke="none" stroke-width="0.6"/>
<circle cx="217.90" cy="598.82" r="1.35" fill="#000" stroke="none" stroke-width="0.6"/>
<circle cx="216.06" cy="599.63" r="1.35" fill="#000" stroke="none" stroke-width="0.6"/>
<circle cx="220.10" cy="600.45" r="1.35" fill="#000" stroke="none" stroke-width="0.6"/>
<circle cx="220.20" cy="601.27" r="1.35" fill="#000" stroke="none" stroke-width="0.6"/>
<circle cx="218.14" cy="602.09" r="1.35" fill="#000" stroke="none" stroke-width="0.6"/>
<circle cx="218.09" cy="603.73" r="1.35" fill="#000" stroke="none" stroke-width="0.6"/>
<circle cx="216.20" cy="605.37" r="1.35" fill="#000" stroke="none" stroke-width="0.6"/>
<circle cx="214.57" cy="610.28" r="1.35" fill="#000" stroke="none" stroke-width="0.6"/>
<circle cx="217.15" cy="616.01" r="1.35" fill="#000" stroke="none" stroke-width="0.6"/>
<circle cx="218.65" cy="620.11" r="1.35" fill="#000" stroke="none" stroke-width="0.6"/>
<circle cx="215.03" cy="624.20" r="1.35" fill="#000" stroke="none" stroke-width="0.6"/>
<rect x="228.30" y="607.01" width="10.70" height="21.29" fill="#fff" stroke="#80eeee" stroke-width="0.65"/>
<line x1="233.50" y1="621.75" x2="233.50" y2="592.26" stroke="#80eeee" stroke-width="0.6"/>
<line x1="231.15" y1="592.50" x2="236.15" y2="592.50" stroke="#80eeee" stroke-width="0.6"/>
<circle cx="235.71" cy="568.51" r="1.35" fill="#000" stroke="none" stroke-width="0.6"/>
<circle cx="231.78" cy="586.53" r="1.35" fill="#000" stroke="none" stroke-width="0.6"/>
<circle cx="231.78" cy="598.00" r="1.35" fill="#000" stroke="none" stroke-width="0.6"/>
<circle cx="230.45" cy="603.73" r="1.35" fill="#000" stroke="none" stroke-width="0.6"/>
<circle cx="237.13" cy="607.82" r="1.35" fill="#000" stroke="none" stroke-width="0.6"/>
<circle cx="235.32" cy="610.28" r="1.35" fill="#000" stroke="none" stroke-width="0.6"/>
<circle cx="236.28" cy="611.92" r="1.35" fill="#000" stroke="none" stroke-width="0.6"/>
<circle cx="234.46" cy="613.56" r="1.35" fill="#000" stroke="none" stroke-width="0.6"/>
<circle cx="230.39" cy="615.20" r="1.35" fill="#000" stroke="none" stroke-width="0.6"/>
<circle cx="232.45" cy="616.83" r="1.35" fill="#000" stroke="none" stroke-width="0.6"/>
<circle cx="233.63" cy="618.47" r="1.35" fill="#000" stroke="none" stroke-width="0.6"/>
<circle cx="230.96" cy="620.11" r="1.35" fill="#000" stroke="none" stroke-width="0.6"/>
<circle cx="236.81" cy="623.39" r="1.35" fill="#000" stroke="none" stroke-width="0.6"/>
<rect x="244.00" y="588.17" width="10.90" height="40.13" fill="#fff" stroke="#f27070" stroke-width="0.65"/>
<line x1="249.50" y1="594.72" x2="249.50" y2="581.62" stroke="#f27070" stroke-width="0.6"/>
<line x1="246.95" y1="581.50" x2="251.95" y2="581.50" stroke="#f27070" stroke-width="0.6"/>
<circle cx="248.53" cy="578.34" r="1.35" fill="#000" stroke="none" stroke-width="0.6"/>
<circle cx="247.03" cy="579.16" r="1.35" fill="#000" stroke="none" stroke-width="0.6"/>
<circle cx="251.67" cy="579.98" r="1.35" fill="#000" stroke="none" stroke-width="0.6"/>
<circle cx="246.82" cy="580.80" r="1.35" fill="#000" stroke="none" stroke-width="0.6"/>
<circle cx="252.45" cy="581.62" r="1.35" fill="#000" stroke="none" stroke-width="0.6"/>
<circle cx="249.12" cy="582.44" r="1.35" fill="#000" stroke="none" stroke-width="0.6"/>
<circle cx="249.81" cy="583.25" r="1.35" fill="#000" stroke="none" stroke-width="0.6"/>
<circle cx="248.35" cy="588.99" r="1.35" fill="#000" stroke="none" stroke-width="0.6"/>
<circle cx="249.34" cy="590.63" r="1.35" fill="#000" stroke="none" stroke-width="0.6"/>
<circle cx="247.26" cy="592.26" r="1.35" fill="#000" stroke="none" stroke-width="0.6"/>
<circle cx="246.21" cy="593.90" r="1.35" fill="#000" stroke="none" stroke-width="0.6"/>
<circle cx="252.01" cy="595.54" r="1.35" fill="#000" stroke="none" stroke-width="0.6"/>
<circle cx="247.59" cy="602.09" r="1.35" fill="#000" stroke="none" stroke-width="0.6"/>
<line x1="263.50" y1="545.90" x2="263.50" y2="628.30" stroke="#777" stroke-width="0.7"/>
<line x1="260.40" y1="628.50" x2="263.60" y2="628.50" stroke="#777" stroke-width="0.7"/>
<line x1="260.40" y1="587.50" x2="263.60" y2="587.50" stroke="#777" stroke-width="0.7"/>
<line x1="260.40" y1="546.50" x2="263.60" y2="546.50" stroke="#777" stroke-width="0.7"/>
<line x1="263.60" y1="628.50" x2="317.20" y2="628.50" stroke="#777" stroke-width="0.7"/>
<rect x="270.50" y="580.80" width="10.50" height="47.50" fill="#fff" stroke="#6070f4" stroke-width="0.65"/>
<line x1="275.50" y1="597.18" x2="275.50" y2="564.42" stroke="#6070f4" stroke-width="0.6"/>
<line x1="273.25" y1="564.50" x2="278.25" y2="564.50" stroke="#6070f4" stroke-width="0.6"/>
<circle cx="277.71" cy="551.31" r="1.35" fill="#000" stroke="none" stroke-width="0.6"/>
<circle cx="273.71" cy="562.78" r="1.35" fill="#000" stroke="none" stroke-width="0.6"/>
<circle cx="279.03" cy="570.97" r="1.35" fill="#000" stroke="none" stroke-width="0.6"/>
<circle cx="278.51" cy="572.61" r="1.35" fill="#000" stroke="none" stroke-width="0.6"/>
<circle cx="277.53" cy="575.06" r="1.35" fill="#000" stroke="none" stroke-width="0.6"/>
<circle cx="277.59" cy="577.52" r="1.35" fill="#000" stroke="none" stroke-width="0.6"/>
<circle cx="276.32" cy="581.62" r="1.35" fill="#000" stroke="none" stroke-width="0.6"/>
<circle cx="277.36" cy="583.25" r="1.35" fill="#000" stroke="none" stroke-width="0.6"/>
<circle cx="273.11" cy="585.71" r="1.35" fill="#000" stroke="none" stroke-width="0.6"/>
<circle cx="275.58" cy="588.99" r="1.35" fill="#000" stroke="none" stroke-width="0.6"/>
<circle cx="278.04" cy="592.26" r="1.35" fill="#000" stroke="none" stroke-width="0.6"/>
<circle cx="273.66" cy="593.90" r="1.35" fill="#000" stroke="none" stroke-width="0.6"/>
<circle cx="278.71" cy="616.01" r="1.35" fill="#000" stroke="none" stroke-width="0.6"/>
<rect x="285.90" y="589.81" width="10.70" height="38.49" fill="#fff" stroke="#80eeee" stroke-width="0.65"/>
<line x1="291.50" y1="605.37" x2="291.50" y2="574.25" stroke="#80eeee" stroke-width="0.6"/>
<line x1="288.75" y1="574.50" x2="293.75" y2="574.50" stroke="#80eeee" stroke-width="0.6"/>
<circle cx="293.96" cy="570.97" r="1.35" fill="#000" stroke="none" stroke-width="0.6"/>
<circle cx="290.62" cy="571.79" r="1.35" fill="#000" stroke="none" stroke-width="0.6"/>
<circle cx="290.31" cy="573.43" r="1.35" fill="#000" stroke="none" stroke-width="0.6"/>
<circle cx="290.91" cy="576.70" r="1.35" fill="#000" stroke="none" stroke-width="0.6"/>
<circle cx="290.45" cy="578.34" r="1.35" fill="#000" stroke="none" stroke-width="0.6"/>
<circle cx="294.71" cy="580.80" r="1.35" fill="#000" stroke="none" stroke-width="0.6"/>
<circle cx="290.46" cy="584.89" r="1.35" fill="#000" stroke="none" stroke-width="0.6"/>
<circle cx="287.94" cy="587.35" r="1.35" fill="#000" stroke="none" stroke-width="0.6"/>
<circle cx="288.40" cy="590.63" r="1.35" fill="#000" stroke="none" stroke-width="0.6"/>
<circle cx="292.78" cy="595.54" r="1.35" fill="#000" stroke="none" stroke-width="0.6"/>
<circle cx="294.70" cy="598.82" r="1.35" fill="#000" stroke="none" stroke-width="0.6"/>
<circle cx="291.22" cy="610.28" r="1.35" fill="#000" stroke="none" stroke-width="0.6"/>
<circle cx="291.19" cy="614.38" r="1.35" fill="#000" stroke="none" stroke-width="0.6"/>
<rect x="301.50" y="611.92" width="10.70" height="16.38" fill="#fff" stroke="#f27070" stroke-width="0.65"/>
<line x1="306.50" y1="620.11" x2="306.50" y2="603.73" stroke="#f27070" stroke-width="0.6"/>
<line x1="304.35" y1="603.50" x2="309.35" y2="603.50" stroke="#f27070" stroke-width="0.6"/>
<circle cx="307.20" cy="601.27" r="1.35" fill="#000" stroke="none" stroke-width="0.6"/>
<circle cx="308.59" cy="602.09" r="1.35" fill="#000" stroke="none" stroke-width="0.6"/>
<circle cx="304.90" cy="602.91" r="1.35" fill="#000" stroke="none" stroke-width="0.6"/>
<circle cx="307.61" cy="603.73" r="1.35" fill="#000" stroke="none" stroke-width="0.6"/>
<circle cx="307.25" cy="604.55" r="1.35" fill="#000" stroke="none" stroke-width="0.6"/>
<circle cx="307.71" cy="606.19" r="1.35" fill="#000" stroke="none" stroke-width="0.6"/>
<circle cx="304.61" cy="607.82" r="1.35" fill="#000" stroke="none" stroke-width="0.6"/>
<circle cx="304.54" cy="610.28" r="1.35" fill="#000" stroke="none" stroke-width="0.6"/>
<circle cx="305.79" cy="613.56" r="1.35" fill="#000" stroke="none" stroke-width="0.6"/>
<circle cx="309.84" cy="615.20" r="1.35" fill="#000" stroke="none" stroke-width="0.6"/>
<circle cx="305.78" cy="616.83" r="1.35" fill="#000" stroke="none" stroke-width="0.6"/>
<circle cx="307.53" cy="618.47" r="1.35" fill="#000" stroke="none" stroke-width="0.6"/>
<circle cx="305.50" cy="620.11" r="1.35" fill="#000" stroke="none" stroke-width="0.6"/>
<circle cx="304.07" cy="623.39" r="1.35" fill="#000" stroke="none" stroke-width="0.6"/>
<path d="M218.40,547.60 L218.40,545.40 L251.20,545.40 L251.20,547.60" fill="none" stroke="#777" stroke-width="0.6"/>
<text x="0.00" y="0.00" font-size="6.79" text-anchor="middle" fill="#333" transform="translate(234.80 544.20) scale(1.06 1)" stroke="#333" stroke-width="0.2">0.0025</text>
<path d="M234.50,558.80 L234.50,556.60 L251.20,556.60 L251.20,558.80" fill="none" stroke="#777" stroke-width="0.6"/>
<text x="0.00" y="0.00" font-size="6.79" text-anchor="middle" fill="#333" transform="translate(242.85 555.40) scale(1.06 1)" stroke="#333" stroke-width="0.2">0.0032</text>
<path d="M275.00,549.40 L275.00,547.20 L307.80,547.20 L307.80,549.40" fill="none" stroke="#777" stroke-width="0.6"/>
<text x="0.00" y="0.00" font-size="6.79" text-anchor="middle" fill="#333" transform="translate(291.40 546.00) scale(1.06 1)" stroke="#333" stroke-width="0.2">0.0001</text>
<path d="M288.60,560.50 L288.60,558.30 L307.80,558.30 L307.80,560.50" fill="none" stroke="#777" stroke-width="0.6"/>
<text x="0.00" y="0.00" font-size="6.79" text-anchor="middle" fill="#333" transform="translate(298.20 557.10) scale(1.06 1)" stroke="#333" stroke-width="0.2">0.0003</text>
<circle cx="217.90" cy="636.50" r="5.35" fill="#fff" stroke="#2a45ee" stroke-width="0.9"/>
<text x="217.90" y="638.95" font-size="7.14" text-anchor="middle" fill="#2a45ee">1</text>
<circle cx="233.80" cy="636.50" r="5.35" fill="#fff" stroke="#3ee0ee" stroke-width="0.9"/>
<text x="233.80" y="638.95" font-size="7.14" text-anchor="middle" fill="#3ee0ee">2</text>
<circle cx="249.40" cy="636.50" r="5.35" fill="#fff" stroke="#f03a3a" stroke-width="0.9"/>
<text x="249.40" y="638.95" font-size="7.14" text-anchor="middle" fill="#f03a3a">3</text>
<circle cx="275.50" cy="636.50" r="5.35" fill="#fff" stroke="#2a45ee" stroke-width="0.9"/>
<text x="275.50" y="638.95" font-size="7.14" text-anchor="middle" fill="#2a45ee">1</text>
<circle cx="291.60" cy="636.50" r="5.35" fill="#fff" stroke="#3ee0ee" stroke-width="0.9"/>
<text x="291.60" y="638.95" font-size="7.14" text-anchor="middle" fill="#3ee0ee">2</text>
<circle cx="306.50" cy="636.50" r="5.35" fill="#fff" stroke="#f03a3a" stroke-width="0.9"/>
<text x="306.50" y="638.95" font-size="7.14" text-anchor="middle" fill="#f03a3a">3</text>
<text x="344.00" y="521.40" font-size="12.6" text-anchor="start" fill="#000" font-weight="bold" stroke="#000" stroke-width="0.45">m</text>
<text x="0.00" y="0.00" font-size="7.74" text-anchor="middle" fill="#222" transform="translate(370.50 541.90) scale(1.06 1)" stroke="#222" stroke-width="0.2">Day-4</text>
<text x="0.00" y="0.00" font-size="7.74" text-anchor="middle" fill="#222" transform="translate(370.50 551.10) scale(1.06 1)" stroke="#222" stroke-width="0.2">culture</text>
<ellipse cx="370.5" cy="557.4" rx="11.2" ry="3.9" fill="#eba4a4" stroke="#8a5a5a" stroke-width="0.7"/>
<ellipse cx="370.5" cy="556.4" rx="10.8" ry="2.6" fill="none" stroke="#c77" stroke-width="0.4"/>
<line x1="370.50" y1="565.80" x2="370.50" y2="573.50" stroke="#4d5a6e" stroke-width="0.95"/>
<path d="M370.5,575.4 L369,572 L372,572 Z" fill="#4d5a6e" stroke="none" stroke-width="0.6"/>
<path d="M358,579.4 L358,599.3 Q358,602.3 361,602.3 L379.6,602.3 Q382.6,602.3 382.6,599.3 L382.6,579.4 Z" fill="#eaa3a3" stroke="#999" stroke-width="0.6"/>
<rect x="361.20" y="579.40" width="18.40" height="14.90" fill="#f46a6a" stroke="#555" stroke-width="0.6"/>
<circle cx="364.30" cy="590.60" r="0.75" fill="#111" stroke="none" stroke-width="0.6"/>
<circle cx="366.30" cy="590.20" r="0.75" fill="#111" stroke="none" stroke-width="0.6"/>
<circle cx="368.30" cy="590.80" r="0.75" fill="#111" stroke="none" stroke-width="0.6"/>
<circle cx="370.30" cy="590.00" r="0.75" fill="#111" stroke="none" stroke-width="0.6"/>
<circle cx="372.30" cy="590.70" r="0.75" fill="#111" stroke="none" stroke-width="0.6"/>
<circle cx="374.50" cy="590.30" r="0.75" fill="#111" stroke="none" stroke-width="0.6"/>
<circle cx="376.40" cy="590.80" r="0.75" fill="#111" stroke="none" stroke-width="0.6"/>
<circle cx="368.80" cy="588.00" r="0.75" fill="#111" stroke="none" stroke-width="0.6"/>
<circle cx="371.50" cy="588.30" r="0.75" fill="#111" stroke="none" stroke-width="0.6"/>
<circle cx="370.00" cy="586.30" r="0.75" fill="#111" stroke="none" stroke-width="0.6"/>
<line x1="370.50" y1="602.50" x2="370.50" y2="608.50" stroke="#4d5a6e" stroke-width="0.95"/>
<path d="M370.5,610.4 L369,607 L372,607 Z" fill="#4d5a6e" stroke="none" stroke-width="0.6"/>
<text x="0.00" y="0.00" font-size="7.74" text-anchor="start" fill="#222" transform="translate(385.10 589.60) scale(1.06 1)" stroke="#222" stroke-width="0.2">Transwell</text>
<text x="0.00" y="0.00" font-size="7.74" text-anchor="start" fill="#222" transform="translate(385.10 598.80) scale(1.06 1)" stroke="#222" stroke-width="0.2">migration</text>
<text x="0.00" y="0.00" font-size="7.74" text-anchor="middle" fill="#222" transform="translate(370.50 620.60) scale(1.06 1)" stroke="#222" stroke-width="0.2">Medium</text>
<text x="0.00" y="0.00" font-size="7.74" text-anchor="middle" fill="#222" transform="translate(370.50 629.80) scale(1.06 1)" stroke="#222" stroke-width="0.2">−/+</text>
<text x="0.00" y="0.00" font-size="7.74" text-anchor="middle" fill="#222" transform="translate(370.50 639.20) scale(1.06 1)" stroke="#222" stroke-width="0.2">CCL2</text>
<text x="0.00" y="0.00" font-size="7.74" text-anchor="middle" fill="#222" transform="translate(370.50 648.80) scale(1.06 1)" stroke="#222" stroke-width="0.2">CCL19/CCL21</text>
<rect x="455.30" y="516.10" width="7.50" height="7.50" fill="#000" stroke="none" stroke-width="0.6"/>
<text x="0.00" y="0.00" font-size="6.79" text-anchor="start" fill="#222" transform="translate(467.80 522.50) scale(1.06 1)" stroke="#222" stroke-width="0.2">Insert</text>
<rect x="455.30" y="527.30" width="7.50" height="7.20" fill="#fff" stroke="#000" stroke-width="0.6"/>
<path d="M455.3,534.5 L455.3,527.3 L462.8,527.3 Z" fill="#000" stroke="none" stroke-width="0.6"/>
<text x="0.00" y="0.00" font-size="6.79" text-anchor="start" fill="#222" transform="translate(467.80 533.40) scale(1.06 1)" stroke="#222" stroke-width="0.2">Receiver</text>
<text x="433.0" y="581.9" font-size="8.0" text-anchor="middle" fill="#222" stroke="#222" stroke-width="0.15" transform="rotate(-90 433.0 581.9)">% cells in each compartment</text>
<line x1="457.50" y1="543.60" x2="457.50" y2="620.20" stroke="#777" stroke-width="0.7"/>
<line x1="454.20" y1="620.50" x2="457.40" y2="620.50" stroke="#777" stroke-width="0.7"/>
<text x="0.00" y="0.00" font-size="6.79" text-anchor="end" fill="#333" transform="translate(450.60 622.70) scale(1.06 1)" stroke="#333" stroke-width="0.2">0</text>
<line x1="454.20" y1="582.50" x2="457.40" y2="582.50" stroke="#777" stroke-width="0.7"/>
<text x="0.00" y="0.00" font-size="6.79" text-anchor="end" fill="#333" transform="translate(450.60 584.65) scale(1.06 1)" stroke="#333" stroke-width="0.2">50</text>
<line x1="454.20" y1="544.50" x2="457.40" y2="544.50" stroke="#777" stroke-width="0.7"/>
<text x="0.00" y="0.00" font-size="6.79" text-anchor="end" fill="#333" transform="translate(450.60 546.60) scale(1.06 1)" stroke="#333" stroke-width="0.2">100</text>
<line x1="457.40" y1="620.50" x2="505.50" y2="620.50" stroke="#777" stroke-width="0.7"/>
<rect x="462.50" y="544.10" width="9.50" height="4.60" fill="url(#hatch)" stroke="#333" stroke-width="0.5"/>
<rect x="462.50" y="548.70" width="9.50" height="71.50" fill="#000" stroke="none" stroke-width="0.6"/>
<line x1="467.50" y1="620.20" x2="467.50" y2="622.00" stroke="#555" stroke-width="0.6"/>
<rect x="477.10" y="544.10" width="9.80" height="16.70" fill="url(#hatch)" stroke="#333" stroke-width="0.5"/>
<rect x="477.10" y="560.80" width="9.80" height="59.40" fill="#000" stroke="none" stroke-width="0.6"/>
<line x1="482.50" y1="620.20" x2="482.50" y2="622.00" stroke="#555" stroke-width="0.6"/>
<rect x="491.50" y="544.10" width="10.00" height="20.90" fill="url(#hatch)" stroke="#333" stroke-width="0.5"/>
<rect x="491.50" y="565.00" width="10.00" height="55.20" fill="#000" stroke="none" stroke-width="0.6"/>
<line x1="496.50" y1="620.20" x2="496.50" y2="622.00" stroke="#555" stroke-width="0.6"/>
<text x="0.00" y="0.00" font-size="6.79" text-anchor="start" fill="#222" transform="translate(469.80 648.60) rotate(-90) scale(1.06 1)" stroke="#222" stroke-width="0.2">Medium</text>
<text x="0.00" y="0.00" font-size="6.79" text-anchor="start" fill="#222" transform="translate(484.40 644.00) rotate(-90) scale(1.06 1)" stroke="#222" stroke-width="0.2">CCL2</text>
<text x="0.00" y="0.00" font-size="6.79" text-anchor="start" fill="#222" transform="translate(494.90 647.00) rotate(-90) scale(1.06 1)" stroke="#222" stroke-width="0.2">CCL19</text>
<text x="0.00" y="0.00" font-size="6.79" text-anchor="start" fill="#222" transform="translate(503.50 649.00) rotate(-90) scale(1.06 1)" stroke="#222" stroke-width="0.2">CCL21</text>
<line x1="481.50" y1="558.50" x2="481.50" y2="563.00" stroke="#555" stroke-width="0.5"/>
<line x1="480.50" y1="558.50" x2="483.30" y2="558.50" stroke="#555" stroke-width="0.5"/>
<line x1="496.50" y1="562.50" x2="496.50" y2="567.00" stroke="#555" stroke-width="0.5"/>
<line x1="495.00" y1="562.50" x2="498.00" y2="562.50" stroke="#555" stroke-width="0.5"/>
<text x="527.0" y="576.6" font-size="8.0" text-anchor="middle" fill="#222" stroke="#222" stroke-width="0.15" transform="rotate(-90 527.0 576.6)">% Cells in the receiver</text>
<line x1="548.50" y1="526.20" x2="548.50" y2="625.20" stroke="#777" stroke-width="0.7"/>
<line x1="545.20" y1="625.50" x2="548.40" y2="625.50" stroke="#777" stroke-width="0.7"/>
<text x="0.00" y="0.00" font-size="6.79" text-anchor="end" fill="#333" transform="translate(541.60 627.70) scale(1.06 1)" stroke="#333" stroke-width="0.2">0</text>
<line x1="545.20" y1="600.50" x2="548.40" y2="600.50" stroke="#777" stroke-width="0.7"/>
<text x="0.00" y="0.00" font-size="6.79" text-anchor="end" fill="#333" transform="translate(541.60 603.08) scale(1.06 1)" stroke="#333" stroke-width="0.2">20</text>
<line x1="545.20" y1="575.50" x2="548.40" y2="575.50" stroke="#777" stroke-width="0.7"/>
<text x="0.00" y="0.00" font-size="6.79" text-anchor="end" fill="#333" transform="translate(541.60 578.45) scale(1.06 1)" stroke="#333" stroke-width="0.2">40</text>
<line x1="545.20" y1="551.50" x2="548.40" y2="551.50" stroke="#777" stroke-width="0.7"/>
<text x="0.00" y="0.00" font-size="6.79" text-anchor="end" fill="#333" transform="translate(541.60 553.83) scale(1.06 1)" stroke="#333" stroke-width="0.2">60</text>
<line x1="545.20" y1="526.50" x2="548.40" y2="526.50" stroke="#777" stroke-width="0.7"/>
<text x="0.00" y="0.00" font-size="6.79" text-anchor="end" fill="#333" transform="translate(541.60 529.20) scale(1.06 1)" stroke="#333" stroke-width="0.2">80</text>
<line x1="548.40" y1="625.50" x2="675.30" y2="625.50" stroke="#777" stroke-width="0.7"/>
<rect x="559.30" y="516.70" width="7.00" height="6.90" fill="#0030fe" stroke="none" stroke-width="0.6"/>
<text x="0.00" y="0.00" font-size="6.98" text-anchor="start" fill="#2a45ee" transform="translate(571.60 522.60) scale(1.06 1)" stroke="#2a45ee" stroke-width="0.2">pDC</text>
<rect x="598.00" y="516.70" width="7.00" height="6.90" fill="#00fafa" stroke="none" stroke-width="0.6"/>
<text x="0.00" y="0.00" font-size="6.98" text-anchor="start" fill="#3ee0ee" transform="translate(609.70 522.60) scale(1.06 1)" stroke="#3ee0ee" stroke-width="0.2">itDC</text>
<rect x="636.30" y="516.70" width="7.20" height="6.90" fill="#fe2a00" stroke="none" stroke-width="0.6"/>
<text x="0.00" y="0.00" font-size="6.98" text-anchor="start" fill="#f03a3a" transform="translate(648.60 522.60) scale(1.06 1)" stroke="#f03a3a" stroke-width="0.2">icDC2</text>
<rect x="553.10" y="623.60" width="7.40" height="1.60" fill="#0030fe" stroke="#222" stroke-width="0.4"/>
<rect x="564.70" y="615.97" width="7.40" height="9.23" fill="#00fafa" stroke="#222" stroke-width="0.4"/>
<rect x="576.30" y="612.27" width="7.90" height="12.93" fill="#fe2a00" stroke="#222" stroke-width="0.4"/>
<path d="M556.80,622.74 L568.40,603.65 L580.25,603.04" fill="none" stroke="#111" stroke-width="0.5"/>
<circle cx="556.80" cy="622.74" r="1.30" fill="#000" stroke="none" stroke-width="0.6"/>
<circle cx="568.40" cy="603.65" r="1.30" fill="#000" stroke="none" stroke-width="0.6"/>
<circle cx="580.25" cy="603.04" r="1.30" fill="#000" stroke="none" stroke-width="0.6"/>
<path d="M556.80,623.97 L568.40,611.66 L580.25,603.65" fill="none" stroke="#111" stroke-width="0.5"/>
<circle cx="556.80" cy="623.97" r="1.30" fill="#000" stroke="none" stroke-width="0.6"/>
<circle cx="568.40" cy="611.66" r="1.30" fill="#000" stroke="none" stroke-width="0.6"/>
<circle cx="580.25" cy="603.65" r="1.30" fill="#000" stroke="none" stroke-width="0.6"/>
<path d="M556.80,624.58 L568.40,617.81 L580.25,612.89" fill="none" stroke="#111" stroke-width="0.5"/>
<circle cx="556.80" cy="624.58" r="1.30" fill="#000" stroke="none" stroke-width="0.6"/>
<circle cx="568.40" cy="617.81" r="1.30" fill="#000" stroke="none" stroke-width="0.6"/>
<circle cx="580.25" cy="612.89" r="1.30" fill="#000" stroke="none" stroke-width="0.6"/>
<path d="M556.80,622.74 L568.40,620.89 L580.25,615.35" fill="none" stroke="#111" stroke-width="0.5"/>
<circle cx="556.80" cy="622.74" r="1.30" fill="#000" stroke="none" stroke-width="0.6"/>
<circle cx="568.40" cy="620.89" r="1.30" fill="#000" stroke="none" stroke-width="0.6"/>
<circle cx="580.25" cy="615.35" r="1.30" fill="#000" stroke="none" stroke-width="0.6"/>
<path d="M556.80,623.97 L568.40,623.35 L580.25,617.81" fill="none" stroke="#111" stroke-width="0.5"/>
<circle cx="556.80" cy="623.97" r="1.30" fill="#000" stroke="none" stroke-width="0.6"/>
<circle cx="568.40" cy="623.35" r="1.30" fill="#000" stroke="none" stroke-width="0.6"/>
<circle cx="580.25" cy="617.81" r="1.30" fill="#000" stroke="none" stroke-width="0.6"/>
<rect x="596.40" y="590.11" width="7.70" height="35.09" fill="#0030fe" stroke="#222" stroke-width="0.4"/>
<rect x="608.00" y="606.12" width="7.70" height="19.08" fill="#00fafa" stroke="#222" stroke-width="0.4"/>
<rect x="620.10" y="609.19" width="7.60" height="16.01" fill="#fe2a00" stroke="#222" stroke-width="0.4"/>
<path d="M600.25,571.03 L611.85,597.50 L623.90,602.42" fill="none" stroke="#111" stroke-width="0.5"/>
<circle cx="600.25" cy="571.03" r="1.30" fill="#000" stroke="none" stroke-width="0.6"/>
<circle cx="611.85" cy="597.50" r="1.30" fill="#000" stroke="none" stroke-width="0.6"/>
<circle cx="623.90" cy="602.42" r="1.30" fill="#000" stroke="none" stroke-width="0.6"/>
<path d="M600.25,585.80 L611.85,598.11 L623.90,606.73" fill="none" stroke="#111" stroke-width="0.5"/>
<circle cx="600.25" cy="585.80" r="1.30" fill="#000" stroke="none" stroke-width="0.6"/>
<circle cx="611.85" cy="598.11" r="1.30" fill="#000" stroke="none" stroke-width="0.6"/>
<circle cx="623.90" cy="606.73" r="1.30" fill="#000" stroke="none" stroke-width="0.6"/>
<path d="M600.25,590.73 L611.85,604.27 L623.90,609.19" fill="none" stroke="#111" stroke-width="0.5"/>
<circle cx="600.25" cy="590.73" r="1.30" fill="#000" stroke="none" stroke-width="0.6"/>
<circle cx="611.85" cy="604.27" r="1.30" fill="#000" stroke="none" stroke-width="0.6"/>
<circle cx="623.90" cy="609.19" r="1.30" fill="#000" stroke="none" stroke-width="0.6"/>
<path d="M600.25,594.42 L611.85,612.89 L623.90,611.66" fill="none" stroke="#111" stroke-width="0.5"/>
<circle cx="600.25" cy="594.42" r="1.30" fill="#000" stroke="none" stroke-width="0.6"/>
<circle cx="611.85" cy="612.89" r="1.30" fill="#000" stroke="none" stroke-width="0.6"/>
<circle cx="623.90" cy="611.66" r="1.30" fill="#000" stroke="none" stroke-width="0.6"/>
<path d="M600.25,598.11 L611.85,618.43 L623.90,613.50" fill="none" stroke="#111" stroke-width="0.5"/>
<circle cx="600.25" cy="598.11" r="1.30" fill="#000" stroke="none" stroke-width="0.6"/>
<circle cx="611.85" cy="618.43" r="1.30" fill="#000" stroke="none" stroke-width="0.6"/>
<circle cx="623.90" cy="613.50" r="1.30" fill="#000" stroke="none" stroke-width="0.6"/>
<path d="M600.25,599.34 L611.85,610.43 L623.90,607.96" fill="none" stroke="#111" stroke-width="0.5"/>
<circle cx="600.25" cy="599.34" r="1.30" fill="#000" stroke="none" stroke-width="0.6"/>
<circle cx="611.85" cy="610.43" r="1.30" fill="#000" stroke="none" stroke-width="0.6"/>
<circle cx="623.90" cy="607.96" r="1.30" fill="#000" stroke="none" stroke-width="0.6"/>
<rect x="640.00" y="603.04" width="7.90" height="22.16" fill="#0030fe" stroke="#222" stroke-width="0.4"/>
<rect x="652.10" y="586.42" width="7.60" height="38.78" fill="#00fafa" stroke="#222" stroke-width="0.4"/>
<rect x="664.10" y="579.03" width="7.70" height="46.17" fill="#fe2a00" stroke="#222" stroke-width="0.4"/>
<path d="M643.95,588.26 L655.90,566.72 L667.95,550.09" fill="none" stroke="#111" stroke-width="0.5"/>
<circle cx="643.95" cy="588.26" r="1.30" fill="#000" stroke="none" stroke-width="0.6"/>
<circle cx="655.90" cy="566.72" r="1.30" fill="#000" stroke="none" stroke-width="0.6"/>
<circle cx="667.95" cy="550.09" r="1.30" fill="#000" stroke="none" stroke-width="0.6"/>
<path d="M643.95,601.81 L655.90,579.64 L667.95,566.72" fill="none" stroke="#111" stroke-width="0.5"/>
<circle cx="643.95" cy="601.81" r="1.30" fill="#000" stroke="none" stroke-width="0.6"/>
<circle cx="655.90" cy="579.64" r="1.30" fill="#000" stroke="none" stroke-width="0.6"/>
<circle cx="667.95" cy="566.72" r="1.30" fill="#000" stroke="none" stroke-width="0.6"/>
<path d="M643.95,604.27 L655.90,585.80 L667.95,582.11" fill="none" stroke="#111" stroke-width="0.5"/>
<circle cx="643.95" cy="604.27" r="1.30" fill="#000" stroke="none" stroke-width="0.6"/>
<circle cx="655.90" cy="585.80" r="1.30" fill="#000" stroke="none" stroke-width="0.6"/>
<circle cx="667.95" cy="582.11" r="1.30" fill="#000" stroke="none" stroke-width="0.6"/>
<path d="M643.95,607.96 L655.90,595.65 L667.95,584.57" fill="none" stroke="#111" stroke-width="0.5"/>
<circle cx="643.95" cy="607.96" r="1.30" fill="#000" stroke="none" stroke-width="0.6"/>
<circle cx="655.90" cy="595.65" r="1.30" fill="#000" stroke="none" stroke-width="0.6"/>
<circle cx="667.95" cy="584.57" r="1.30" fill="#000" stroke="none" stroke-width="0.6"/>
<path d="M643.95,613.50 L655.90,600.58 L667.95,602.42" fill="none" stroke="#111" stroke-width="0.5"/>
<circle cx="643.95" cy="613.50" r="1.30" fill="#000" stroke="none" stroke-width="0.6"/>
<circle cx="655.90" cy="600.58" r="1.30" fill="#000" stroke="none" stroke-width="0.6"/>
<circle cx="667.95" cy="602.42" r="1.30" fill="#000" stroke="none" stroke-width="0.6"/>
<text x="0.00" y="0.00" font-size="7.36" text-anchor="middle" fill="#222" transform="translate(568.60 635.40) scale(1.06 1)" stroke="#222" stroke-width="0.2">Medium</text>
<text x="0.00" y="0.00" font-size="7.36" text-anchor="middle" fill="#222" transform="translate(612.20 635.40) scale(1.06 1)" stroke="#222" stroke-width="0.2">CCL2</text>
<text x="0.00" y="0.00" font-size="7.36" text-anchor="middle" fill="#222" transform="translate(656.00 635.40) scale(1.06 1)" stroke="#222" stroke-width="0.2">CCL19</text>
<text x="0.00" y="0.00" font-size="7.36" text-anchor="middle" fill="#222" transform="translate(656.00 643.10) scale(1.06 1)" stroke="#222" stroke-width="0.2">CCL21</text>
<path d="M554.70,548.80 L554.70,546.40 L580.20,546.40 L580.20,548.80" fill="none" stroke="#777" stroke-width="0.6"/>
<text x="0.00" y="0.00" font-size="6.98" text-anchor="middle" fill="#333" transform="translate(567.45 545.20) scale(1.06 1)" stroke="#333" stroke-width="0.2">0.0139</text>
<path d="M597.60,548.80 L597.60,546.40 L623.60,546.40 L623.60,548.80" fill="none" stroke="#777" stroke-width="0.6"/>
<text x="0.00" y="0.00" font-size="6.98" text-anchor="middle" fill="#333" transform="translate(610.60 545.20) scale(1.06 1)" stroke="#333" stroke-width="0.2">0.0162</text>
<path d="M642.40,548.80 L642.40,546.40 L667.60,546.40 L667.60,548.80" fill="none" stroke="#777" stroke-width="0.6"/>
<text x="0.00" y="0.00" font-size="6.98" text-anchor="middle" fill="#333" transform="translate(655.00 545.20) scale(1.06 1)" stroke="#333" stroke-width="0.2">0.0418</text>
</svg></body></html>
